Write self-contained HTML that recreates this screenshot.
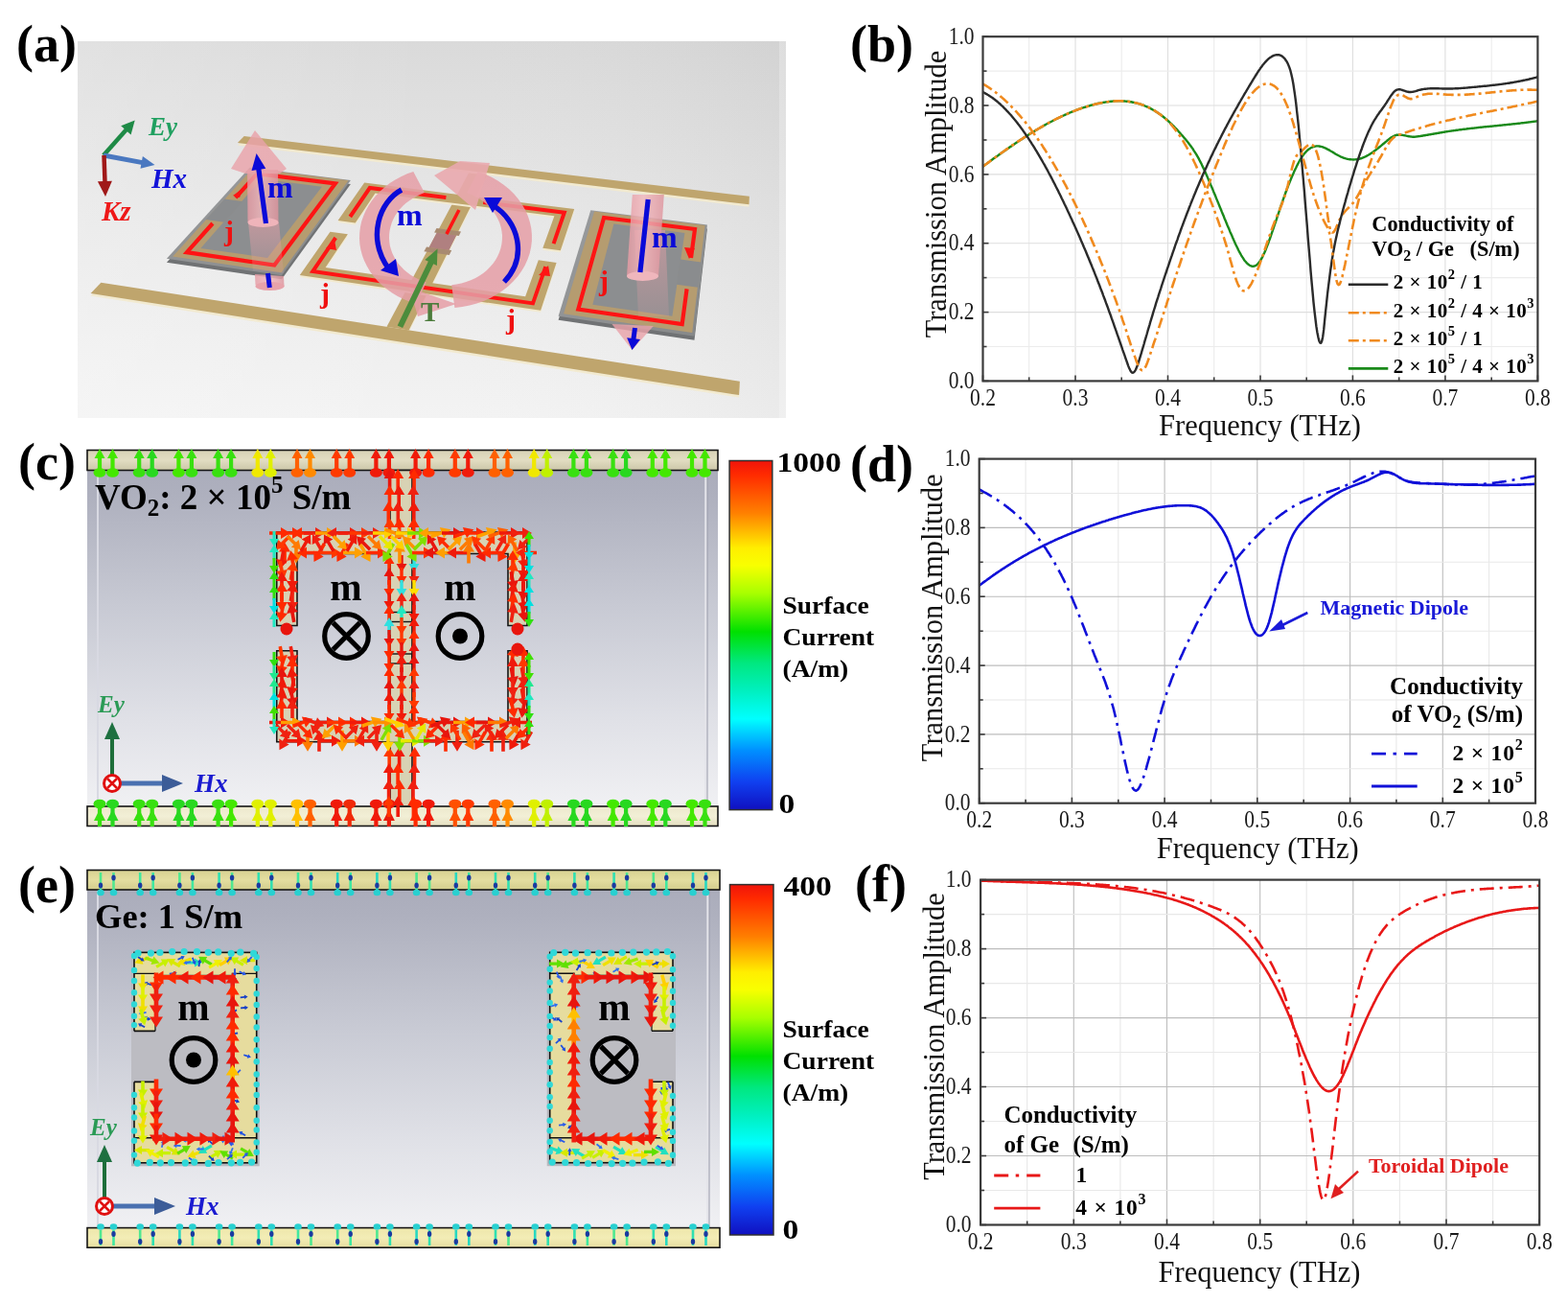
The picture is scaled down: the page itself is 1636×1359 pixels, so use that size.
<!DOCTYPE html>
<html><head><meta charset="utf-8"><title>Figure</title>
<style>html,body{margin:0;padding:0;background:#fff;}svg{display:block;}
text{font-family:'Liberation Serif','Times New Roman',serif;}</style></head>
<body><svg width="1636" height="1359" viewBox="0 0 1636 1359">
<rect width="1636" height="1359" fill="#fff"/>
<defs>
<linearGradient id="ga" x1="0" y1="0" x2="0" y2="1"><stop offset="0" stop-color="#dadada"/><stop offset="0.5" stop-color="#e8e8e8"/><stop offset="1" stop-color="#f3f3f3"/></linearGradient>
<linearGradient id="ga2" x1="0" y1="0" x2="1" y2="0"><stop offset="0" stop-color="#ffffff" stop-opacity="0.2"/><stop offset="0.5" stop-color="#ffffff" stop-opacity="0"/><stop offset="1" stop-color="#000" stop-opacity="0.035"/></linearGradient>
<linearGradient id="gplate" x1="0" y1="0" x2="1" y2="1"><stop offset="0" stop-color="#9a9c9e"/><stop offset="1" stop-color="#868889"/></linearGradient>
<linearGradient id="gcyl" x1="0" y1="0" x2="1" y2="0"><stop offset="0" stop-color="#e59aa3"/><stop offset="0.45" stop-color="#f2b8bd"/><stop offset="1" stop-color="#de949d"/></linearGradient>
</defs>
<rect x="81" y="43" width="739" height="393" fill="url(#ga)"/>
<rect x="81" y="43" width="739" height="393" fill="url(#ga2)"/>
<rect x="813" y="43" width="7" height="393" fill="#ffffff" fill-opacity="0.25"/>
<polygon points="490.2,180.2 508.7,182.4 426.6,346.4 403.5,342.8" fill="#f2ead0"/>
<polygon points="490.2,178.2 508.7,180.4 426.6,344.4 403.5,340.8" fill="#bfa56d"/>
<polygon points="254.7,144.6 781.9,207.3 781.5,215.8 247.9,151.5" fill="#f2ead0"/>
<polygon points="254.7,142.1 781.9,204.8 781.5,213.3 247.9,149.0" fill="#bfa56d"/>
<polygon points="105.4,297.3 771.9,400.2 771.1,414.6 94.6,308.4" fill="#f2ead0"/>
<polygon points="105.4,294.8 771.9,397.7 771.1,412.1 94.6,305.9" fill="#bfa56d"/>
<polygon points="260.7,178.7 365.9,191.9 293.9,291.3 173.9,273.7" fill="#707274"/>
<polygon points="260.7,174.7 365.9,187.9 293.9,287.3 173.9,269.7" fill="url(#gplate)"/>
<polygon points="263.6,175.7 363.5,188.2 293.6,284.2 180.2,267.6" fill="#b59c70"/>
<polygon points="272.7,186.7 335.9,194.8 279.1,268.9 209.4,258.9" fill="#8c8e90"/>
<polygon points="234.4,207.4 252.9,209.9 233.8,231.7 214.7,229.1" fill="#8a8c8e"/>
<path d="M245.8,206.2 L268.2,181.2 L349.8,191.5 L286.3,276.5 L194.9,263.2 L221.9,233.0" fill="none" stroke="#ff1414" stroke-width="4.2" stroke-linejoin="miter"/>
<polygon points="380.2,192.6 599.2,220.1 584.8,263.3 566.3,260.8 578.4,227.3 391.5,203.5 370.7,234.6 352.6,232.1" fill="#f2ead0"/>
<polygon points="380.2,190.6 599.2,218.1 584.8,261.3 566.3,258.8 578.4,225.3 391.5,201.5 370.7,232.6 352.6,230.1" fill="#bfa56d"/>
<polygon points="344.5,243.7 362.9,246.2 339.6,281.1 548.1,311.2 561.8,273.3 580.6,275.9 564.1,325.8 312.8,289.0" fill="#f2ead0"/>
<polygon points="344.5,241.7 362.9,244.2 339.6,279.1 548.1,309.2 561.8,271.3 580.6,273.9 564.1,323.8 312.8,287.0" fill="#bfa56d"/>
<polygon points="455.5,238.0 481.0,241.4 478.8,245.9 453.1,242.4" fill="#a88a70"/>
<polygon points="445.0,257.5 471.2,261.1 468.8,265.9 442.4,262.2" fill="#a88a70"/>
<polygon points="455.7,242.8 476.1,245.5 468.5,260.7 447.7,257.9" fill="#b08080"/>
<path d="M365.3,226.0 L385.8,196.0 L465.4,206.1" fill="none" stroke="#ff1414" stroke-width="4.0" stroke-linejoin="miter"/>
<path d="M504.2,211.0 L588.8,221.7 L577.6,254.2" fill="none" stroke="#ff1414" stroke-width="4.0" stroke-linejoin="miter"/>
<path d="M350.2,248.0 L326.3,283.0 L556.0,316.4 L569.3,278.2" fill="none" stroke="#ff1414" stroke-width="4.0" stroke-linejoin="miter"/>
<path d="M478.9,219.0 L465.9,244.1" fill="none" stroke="#ff1414" stroke-width="3.5" stroke-linejoin="miter"/>
<polygon points="616.3,223.3 737.9,238.6 724.5,354.7 582.6,333.8" fill="#707274"/>
<polygon points="616.3,219.3 737.9,234.6 724.5,350.7 582.6,329.8" fill="url(#gplate)"/>
<polygon points="620.1,220.4 735.6,234.9 722.2,347.0 588.1,327.3" fill="#b59c70"/>
<polygon points="640.4,233.6 714.4,243.0 701.4,329.7 618.3,317.7" fill="#8c8e90"/>
<polygon points="709.8,270.5 731.5,273.4 728.3,299.7 705.8,296.7" fill="#8a8c8e"/>
<path d="M721.0,269.0 L725.0,239.0 L630.1,227.0 L603.3,322.5 L711.7,338.2 L716.6,301.4" fill="none" stroke="#ff1414" stroke-width="4.2" stroke-linejoin="miter"/>
<defs><linearGradient id="gsh" x1="0" y1="0" x2="0" y2="1"><stop offset="0" stop-color="#e8a0a8" stop-opacity="0.55"/><stop offset="1" stop-color="#e8a0a8" stop-opacity="0.15"/></linearGradient></defs>
<polygon points="259.0,232.0 291.0,232.0 296.0,285.0 264.0,282.0" fill="url(#gsh)"/>
<polygon points="266.0,286.0 296.0,288.0 296.5,299.0 266.5,297.0" fill="url(#gcyl)" fill-opacity="0.82"/>
<ellipse cx="281.5" cy="298.5" rx="15" ry="4.5" fill="#e7a2aa"/>
<polygon points="258.0,177.0 290.0,177.0 290.5,232.0 258.5,232.0" fill="url(#gcyl)" fill-opacity="0.82"/>
<ellipse cx="274.5" cy="232" rx="16" ry="5" fill="#efb4ba"/>
<polygon points="266.0,136.0 299.0,176.0 292.0,181.0 256.0,181.0 241.0,176.0" fill="#e9a2aa" fill-opacity="0.82"/>
<line x1="277.5" y1="233.0" x2="269.8" y2="175.9" stroke="#0a0ad8" stroke-width="5.2"/><polygon points="267.6,160.0 277.3,175.8 262.5,177.9" fill="#0a0ad8"/>
<line x1="279.5" y1="285" x2="281.3" y2="300" stroke="#0a0ad8" stroke-width="5"/>
<polygon points="662.0,240.0 694.0,240.0 698.0,330.0 666.0,330.0" fill="url(#gsh)"/>
<polygon points="659.8,203.0 692.8,203.0 687.0,288.0 654.0,288.0" fill="url(#gcyl)" fill-opacity="0.82"/>
<ellipse cx="670.5" cy="288" rx="16.5" ry="5" fill="#efb6bc"/>
<polygon points="638.5,338.0 681.8,340.0 659.5,365.0" fill="#e9a2aa" fill-opacity="0.82"/>
<line x1="676.2" y1="208" x2="667.9" y2="284" stroke="#0a0ad8" stroke-width="5.2"/>
<line x1="662.5" y1="342.0" x2="660.9" y2="354.1" stroke="#0a0ad8" stroke-width="5.0"/><polygon points="659.5,365.0 654.1,352.2 668.0,354.0" fill="#0a0ad8"/>
<polygon points="431.3,178.9 424.7,181.3 418.4,184.2 412.4,187.5 406.7,191.1 401.4,195.2 396.5,199.5 392.0,204.2 388.0,209.2 384.5,214.4 381.6,219.8 379.1,225.4 377.2,231.1 375.9,236.9 375.2,242.9 375.0,248.8 375.4,254.7 376.4,260.6 378.0,266.4 380.1,272.1 382.8,277.6 386.0,282.9 389.7,288.0 393.9,292.9 398.5,297.4 403.6,301.6 409.1,305.5 414.9,309.0 421.1,312.1 427.5,314.8 434.2,317.0 444.8,294.5 440.4,293.0 436.2,291.1 432.2,289.0 428.4,286.7 424.8,284.1 421.4,281.2 418.4,278.1 415.6,274.9 413.2,271.4 411.1,267.8 409.3,264.1 408.0,260.3 406.9,256.4 406.3,252.4 406.0,248.4 406.1,244.4 406.6,240.4 407.5,236.4 408.7,232.5 410.3,228.8 412.2,225.1 414.5,221.6 417.1,218.3 420.1,215.1 423.3,212.1 426.8,209.4 430.5,206.9 434.4,204.7 438.6,202.8 442.9,201.1" fill="#e59ea7" fill-opacity="0.86"/>
<polygon points="427.0,300.0 476.0,317.0 436.0,330.0" fill="#e59ea7" fill-opacity="0.86"/>
<polygon points="474.4,321.1 482.3,320.1 490.0,318.6 497.5,316.5 504.8,313.9 511.8,310.7 518.4,307.1 524.6,303.0 530.3,298.4 535.5,293.5 540.2,288.2 544.3,282.5 547.7,276.7 550.5,270.5 552.7,264.2 554.1,257.8 554.9,251.3 554.9,244.7 554.3,238.2 552.9,231.8 550.9,225.5 548.2,219.3 544.9,213.4 540.9,207.7 536.3,202.3 531.2,197.3 525.5,192.7 519.4,188.6 512.9,184.8 506.0,181.6 498.7,178.9 487.1,201.1 491.8,203.0 496.4,205.2 500.7,207.7 504.7,210.5 508.4,213.6 511.7,217.0 514.7,220.6 517.3,224.4 519.5,228.4 521.3,232.6 522.7,236.9 523.5,241.2 524.0,245.6 523.9,250.1 523.4,254.5 522.5,258.8 521.1,263.1 519.2,267.2 517.0,271.2 514.3,275.0 511.2,278.6 507.8,281.9 504.1,285.0 500.0,287.7 495.7,290.2 491.1,292.3 486.3,294.1 481.4,295.5 476.3,296.6 471.2,297.2" fill="#e59ea7" fill-opacity="0.86"/>
<polygon points="511.0,170.0 496.0,219.0 453.0,183.0 480.0,168.0" fill="#e9a8ae" fill-opacity="0.9"/>
<path d="M419,198 C396,210 382,248 406,281" fill="none" stroke="#0a0ad8" stroke-width="5.4"/>
<polygon points="416.0,288.0 397.0,282.0 413.0,270.0" fill="#0a0ad8"/>
<path d="M526,294 C551,268 541,230 514,214" fill="none" stroke="#0a0ad8" stroke-width="5.4"/>
<polygon points="505.0,206.0 524.0,206.0 514.0,222.0" fill="#0a0ad8"/>
<line x1="417.4" y1="340.7" x2="450.0" y2="273.0" stroke="#4c8c3c" stroke-width="6.0"/><polygon points="456.5,259.5 455.9,277.0 443.3,270.9" fill="#4c8c3c"/>
<polygon points="243.0,204.0 254.0,196.0 250.0,206.0" fill="#ff1414"/>
<polygon points="349.0,250.0 340.0,259.0 351.0,261.0" fill="#ff1414"/>
<polygon points="572.0,277.0 562.0,287.0 574.0,288.0" fill="#ff1414"/>
<polygon points="719.0,270.0 714.0,258.0 725.0,259.0" fill="#ff1414"/>
<text x="279" y="206" font-size="32" fill="#0a0ad8" font-weight="bold">m</text>
<text x="414" y="235" font-size="32" fill="#0a0ad8" font-weight="bold">m</text>
<text x="680" y="258" font-size="32" fill="#0a0ad8" font-weight="bold">m</text>
<text x="234" y="251" font-size="30" fill="#f01010" font-weight="bold">j</text>
<text x="334" y="316" font-size="30" fill="#f01010" font-weight="bold">j</text>
<text x="528" y="343" font-size="30" fill="#f01010" font-weight="bold">j</text>
<text x="625" y="303" font-size="30" fill="#f01010" font-weight="bold">j</text>
<text x="439" y="335" font-size="29" fill="#4c7c3c" font-weight="bold">T</text>
<line x1="108.0" y1="162.0" x2="132.0" y2="135.1" stroke="#1e8a46" stroke-width="4.5"/><polygon points="140.7,125.4 136.6,140.5 126.2,131.2" fill="#1e8a46"/>
<line x1="108.0" y1="162.0" x2="148.7" y2="169.6" stroke="#4a78c0" stroke-width="5.0"/><polygon points="161.5,172.0 146.5,175.8 148.9,163.0" fill="#4a78c0"/>
<line x1="108.5" y1="162.0" x2="109.5" y2="190.0" stroke="#a01818" stroke-width="4.5"/><polygon points="110.0,205.0 101.9,189.3 116.9,188.7" fill="#a01818"/>
<text x="155" y="141" font-size="27" font-style="italic" font-weight="bold" fill="#20a060">Ey</text>
<text x="158" y="196" font-size="29" font-style="italic" font-weight="bold" fill="#1212d8">Hx</text>
<text x="106" y="230" font-size="29" font-style="italic" font-weight="bold" fill="#ee1818">Kz</text>
<defs><linearGradient id="gc" x1="0" y1="0" x2="0" y2="1">
<stop offset="0" stop-color="#a8aab9"/><stop offset="0.12" stop-color="#aeb0be"/><stop offset="0.42" stop-color="#c8cad4"/><stop offset="0.72" stop-color="#e0e1e7"/><stop offset="1" stop-color="#f4f4f6"/></linearGradient>
<linearGradient id="barT" x1="0" y1="0" x2="0" y2="1"><stop offset="0" stop-color="#d7d2b6"/><stop offset="0.5" stop-color="#e2ddc2"/><stop offset="1" stop-color="#cbc6a8"/></linearGradient>
<linearGradient id="barB" x1="0" y1="0" x2="0" y2="1"><stop offset="0" stop-color="#ece8cc"/><stop offset="0.5" stop-color="#f2efd6"/><stop offset="1" stop-color="#e4dfc0"/></linearGradient>
<linearGradient id="barTe" x1="0" y1="0" x2="0" y2="1"><stop offset="0" stop-color="#d8d292"/><stop offset="0.5" stop-color="#e4dea0"/><stop offset="1" stop-color="#d2cc8c"/></linearGradient>
<linearGradient id="barBe" x1="0" y1="0" x2="0" y2="1"><stop offset="0" stop-color="#ede6aa"/><stop offset="0.5" stop-color="#f3edb6"/><stop offset="1" stop-color="#e6dea0"/></linearGradient>
</defs>
<rect x="91" y="469" width="658" height="393" fill="url(#gc)"/>
<line x1="102" y1="490" x2="102" y2="841" stroke="#d8d9e2" stroke-width="2"/>
<line x1="736.5" y1="490" x2="736.5" y2="841" stroke="#e4e4ea" stroke-width="2.5"/>
<line x1="738" y1="490" x2="738" y2="841" stroke="#9a9cab" stroke-width="1"/>
<rect x="91" y="469.5" width="658" height="21" fill="url(#barT)" stroke="#151515" stroke-width="1.6"/>
<rect x="91" y="841" width="658" height="20.5" fill="url(#barB)" stroke="#151515" stroke-width="1.6"/>
<rect x="407" y="490.5" width="23" height="350.5" fill="#d8d2b4" stroke="#151515" stroke-width="1.6"/>
<path d="M288.75,555 H550 V652.5 H530 V577.5 H310 V652.5 H288.75 Z M288.75,678.75 H310 V752.5 H530 V678.75 H550 V773.75 H288.75 Z" fill="#d8d2b4" stroke="#151515" stroke-width="1.6"/>
<rect x="407" y="555" width="23" height="218.75" fill="#d8d2b4"/>
<line x1="407" y1="577.5" x2="407" y2="752.5" stroke="#151515" stroke-width="1.6"/>
<line x1="430" y1="577.5" x2="430" y2="752.5" stroke="#151515" stroke-width="1.6"/>
<rect x="407" y="638.5" width="23" height="10" fill="none" stroke="#151515" stroke-width="1.4"/>
<rect x="407" y="682" width="23" height="10" fill="none" stroke="#151515" stroke-width="1.4"/>
<ellipse cx="104.0" cy="493" rx="6.5" ry="4.8" fill="#44e800"/>
<polygon points="106.1,494.0 106.1,478.0 109.5,478.0 104.0,468.0 98.5,478.0 101.9,478.0 101.9,494.0" fill="#44e800"/>
<ellipse cx="104.0" cy="838.5" rx="6.5" ry="4.8" fill="#38e010"/>
<line x1="104.0" y1="838" x2="104.0" y2="862" stroke="#38e010" stroke-width="4.2"/>
<polygon points="104.0,844 98.0,856 110.0,856" fill="#38e010"/>
<ellipse cx="117.5" cy="493" rx="6.5" ry="4.8" fill="#44e800"/>
<polygon points="119.6,494.0 119.6,478.0 123.0,478.0 117.5,468.0 112.0,478.0 115.4,478.0 115.4,494.0" fill="#44e800"/>
<ellipse cx="117.5" cy="838.5" rx="6.5" ry="4.8" fill="#28d820"/>
<line x1="117.5" y1="838" x2="117.5" y2="862" stroke="#28d820" stroke-width="4.2"/>
<polygon points="117.5,844 111.5,856 123.5,856" fill="#28d820"/>
<ellipse cx="145.2" cy="493" rx="6.5" ry="4.8" fill="#38e010"/>
<polygon points="147.3,494.0 147.3,478.0 150.7,478.0 145.2,468.0 139.7,478.0 143.1,478.0 143.1,494.0" fill="#38e010"/>
<ellipse cx="145.2" cy="838.5" rx="6.5" ry="4.8" fill="#38e010"/>
<line x1="145.2" y1="838" x2="145.2" y2="862" stroke="#38e010" stroke-width="4.2"/>
<polygon points="145.2,844 139.2,856 151.2,856" fill="#38e010"/>
<ellipse cx="158.7" cy="493" rx="6.5" ry="4.8" fill="#28d820"/>
<polygon points="160.8,494.0 160.8,478.0 164.2,478.0 158.7,468.0 153.2,478.0 156.6,478.0 156.6,494.0" fill="#28d820"/>
<ellipse cx="158.7" cy="838.5" rx="6.5" ry="4.8" fill="#38e010"/>
<line x1="158.7" y1="838" x2="158.7" y2="862" stroke="#38e010" stroke-width="4.2"/>
<polygon points="158.7,844 152.7,856 164.7,856" fill="#38e010"/>
<ellipse cx="186.4" cy="493" rx="6.5" ry="4.8" fill="#44e800"/>
<polygon points="188.5,494.0 188.5,478.0 191.9,478.0 186.4,468.0 180.9,478.0 184.3,478.0 184.3,494.0" fill="#44e800"/>
<ellipse cx="186.4" cy="838.5" rx="6.5" ry="4.8" fill="#28d820"/>
<line x1="186.4" y1="838" x2="186.4" y2="862" stroke="#28d820" stroke-width="4.2"/>
<polygon points="186.4,844 180.4,856 192.4,856" fill="#28d820"/>
<ellipse cx="199.9" cy="493" rx="6.5" ry="4.8" fill="#38e010"/>
<polygon points="202.0,494.0 202.0,478.0 205.4,478.0 199.9,468.0 194.4,478.0 197.8,478.0 197.8,494.0" fill="#38e010"/>
<ellipse cx="199.9" cy="838.5" rx="6.5" ry="4.8" fill="#28d820"/>
<line x1="199.9" y1="838" x2="199.9" y2="862" stroke="#28d820" stroke-width="4.2"/>
<polygon points="199.9,844 193.9,856 205.9,856" fill="#28d820"/>
<ellipse cx="227.6" cy="493" rx="6.5" ry="4.8" fill="#38e010"/>
<polygon points="229.7,494.0 229.7,478.0 233.1,478.0 227.6,468.0 222.1,478.0 225.5,478.0 225.5,494.0" fill="#38e010"/>
<ellipse cx="227.6" cy="838.5" rx="6.5" ry="4.8" fill="#38e010"/>
<line x1="227.6" y1="838" x2="227.6" y2="862" stroke="#38e010" stroke-width="4.2"/>
<polygon points="227.6,844 221.6,856 233.6,856" fill="#38e010"/>
<ellipse cx="241.1" cy="493" rx="6.5" ry="4.8" fill="#38e010"/>
<polygon points="243.2,494.0 243.2,478.0 246.6,478.0 241.1,468.0 235.6,478.0 239.0,478.0 239.0,494.0" fill="#38e010"/>
<ellipse cx="241.1" cy="838.5" rx="6.5" ry="4.8" fill="#44e800"/>
<line x1="241.1" y1="838" x2="241.1" y2="862" stroke="#44e800" stroke-width="4.2"/>
<polygon points="241.1,844 235.1,856 247.1,856" fill="#44e800"/>
<ellipse cx="268.8" cy="493" rx="6.5" ry="4.8" fill="#f0e800"/>
<polygon points="270.9,494.0 270.9,478.0 274.3,478.0 268.8,468.0 263.3,478.0 266.7,478.0 266.7,494.0" fill="#f0e800"/>
<ellipse cx="268.8" cy="838.5" rx="6.5" ry="4.8" fill="#e0f000"/>
<line x1="268.8" y1="838" x2="268.8" y2="862" stroke="#e0f000" stroke-width="4.2"/>
<polygon points="268.8,844 262.8,856 274.8,856" fill="#e0f000"/>
<ellipse cx="282.3" cy="493" rx="6.5" ry="4.8" fill="#e0f000"/>
<polygon points="284.4,494.0 284.4,478.0 287.8,478.0 282.3,468.0 276.8,478.0 280.2,478.0 280.2,494.0" fill="#e0f000"/>
<ellipse cx="282.3" cy="838.5" rx="6.5" ry="4.8" fill="#e0f000"/>
<line x1="282.3" y1="838" x2="282.3" y2="862" stroke="#e0f000" stroke-width="4.2"/>
<polygon points="282.3,844 276.3,856 288.3,856" fill="#e0f000"/>
<ellipse cx="310.0" cy="493" rx="6.5" ry="4.8" fill="#ff6000"/>
<polygon points="312.1,494.0 312.1,478.0 315.5,478.0 310.0,468.0 304.5,478.0 307.9,478.0 307.9,494.0" fill="#ff6000"/>
<ellipse cx="310.0" cy="838.5" rx="6.5" ry="4.8" fill="#ffc000"/>
<line x1="310.0" y1="838" x2="310.0" y2="862" stroke="#ffc000" stroke-width="4.2"/>
<polygon points="310.0,844 304.0,856 316.0,856" fill="#ffc000"/>
<ellipse cx="323.5" cy="493" rx="6.5" ry="4.8" fill="#ff8a00"/>
<polygon points="325.6,494.0 325.6,478.0 329.0,478.0 323.5,468.0 318.0,478.0 321.4,478.0 321.4,494.0" fill="#ff8a00"/>
<ellipse cx="323.5" cy="838.5" rx="6.5" ry="4.8" fill="#ff6000"/>
<line x1="323.5" y1="838" x2="323.5" y2="862" stroke="#ff6000" stroke-width="4.2"/>
<polygon points="323.5,844 317.5,856 329.5,856" fill="#ff6000"/>
<ellipse cx="351.2" cy="493" rx="6.5" ry="4.8" fill="#ff3a00"/>
<polygon points="353.3,494.0 353.3,478.0 356.7,478.0 351.2,468.0 345.7,478.0 349.1,478.0 349.1,494.0" fill="#ff3a00"/>
<ellipse cx="351.2" cy="838.5" rx="6.5" ry="4.8" fill="#f01a0a"/>
<line x1="351.2" y1="838" x2="351.2" y2="862" stroke="#f01a0a" stroke-width="4.2"/>
<polygon points="351.2,844 345.2,856 357.2,856" fill="#f01a0a"/>
<ellipse cx="364.7" cy="493" rx="6.5" ry="4.8" fill="#ff3a00"/>
<polygon points="366.8,494.0 366.8,478.0 370.2,478.0 364.7,468.0 359.2,478.0 362.6,478.0 362.6,494.0" fill="#ff3a00"/>
<ellipse cx="364.7" cy="838.5" rx="6.5" ry="4.8" fill="#f02a08"/>
<line x1="364.7" y1="838" x2="364.7" y2="862" stroke="#f02a08" stroke-width="4.2"/>
<polygon points="364.7,844 358.7,856 370.7,856" fill="#f02a08"/>
<ellipse cx="392.4" cy="493" rx="6.5" ry="4.8" fill="#f01a0a"/>
<polygon points="394.5,494.0 394.5,478.0 397.9,478.0 392.4,468.0 386.9,478.0 390.3,478.0 390.3,494.0" fill="#f01a0a"/>
<ellipse cx="392.4" cy="838.5" rx="6.5" ry="4.8" fill="#f01a0a"/>
<line x1="392.4" y1="838" x2="392.4" y2="862" stroke="#f01a0a" stroke-width="4.2"/>
<polygon points="392.4,844 386.4,856 398.4,856" fill="#f01a0a"/>
<ellipse cx="405.9" cy="493" rx="6.5" ry="4.8" fill="#f01a0a"/>
<polygon points="408.0,494.0 408.0,478.0 411.4,478.0 405.9,468.0 400.4,478.0 403.8,478.0 403.8,494.0" fill="#f01a0a"/>
<ellipse cx="405.9" cy="838.5" rx="6.5" ry="4.8" fill="#e81c0c"/>
<line x1="405.9" y1="838" x2="405.9" y2="862" stroke="#e81c0c" stroke-width="4.2"/>
<polygon points="405.9,844 399.9,856 411.9,856" fill="#e81c0c"/>
<ellipse cx="433.6" cy="493" rx="6.5" ry="4.8" fill="#f01a0a"/>
<polygon points="435.7,494.0 435.7,478.0 439.1,478.0 433.6,468.0 428.1,478.0 431.5,478.0 431.5,494.0" fill="#f01a0a"/>
<ellipse cx="433.6" cy="838.5" rx="6.5" ry="4.8" fill="#ff2a00"/>
<line x1="433.6" y1="838" x2="433.6" y2="862" stroke="#ff2a00" stroke-width="4.2"/>
<polygon points="433.6,844 427.6,856 439.6,856" fill="#ff2a00"/>
<ellipse cx="447.1" cy="493" rx="6.5" ry="4.8" fill="#ff2a00"/>
<polygon points="449.2,494.0 449.2,478.0 452.6,478.0 447.1,468.0 441.6,478.0 445.0,478.0 445.0,494.0" fill="#ff2a00"/>
<ellipse cx="447.1" cy="838.5" rx="6.5" ry="4.8" fill="#f01a0a"/>
<line x1="447.1" y1="838" x2="447.1" y2="862" stroke="#f01a0a" stroke-width="4.2"/>
<polygon points="447.1,844 441.1,856 453.1,856" fill="#f01a0a"/>
<ellipse cx="474.8" cy="493" rx="6.5" ry="4.8" fill="#ff3a00"/>
<polygon points="476.9,494.0 476.9,478.0 480.3,478.0 474.8,468.0 469.3,478.0 472.7,478.0 472.7,494.0" fill="#ff3a00"/>
<ellipse cx="474.8" cy="838.5" rx="6.5" ry="4.8" fill="#ff5000"/>
<line x1="474.8" y1="838" x2="474.8" y2="862" stroke="#ff5000" stroke-width="4.2"/>
<polygon points="474.8,844 468.8,856 480.8,856" fill="#ff5000"/>
<ellipse cx="488.3" cy="493" rx="6.5" ry="4.8" fill="#f01a0a"/>
<polygon points="490.4,494.0 490.4,478.0 493.8,478.0 488.3,468.0 482.8,478.0 486.2,478.0 486.2,494.0" fill="#f01a0a"/>
<ellipse cx="488.3" cy="838.5" rx="6.5" ry="4.8" fill="#ff3a00"/>
<line x1="488.3" y1="838" x2="488.3" y2="862" stroke="#ff3a00" stroke-width="4.2"/>
<polygon points="488.3,844 482.3,856 494.3,856" fill="#ff3a00"/>
<ellipse cx="516.0" cy="493" rx="6.5" ry="4.8" fill="#ff6000"/>
<polygon points="518.1,494.0 518.1,478.0 521.5,478.0 516.0,468.0 510.5,478.0 513.9,478.0 513.9,494.0" fill="#ff6000"/>
<ellipse cx="516.0" cy="838.5" rx="6.5" ry="4.8" fill="#ff6000"/>
<line x1="516.0" y1="838" x2="516.0" y2="862" stroke="#ff6000" stroke-width="4.2"/>
<polygon points="516.0,844 510.0,856 522.0,856" fill="#ff6000"/>
<ellipse cx="529.5" cy="493" rx="6.5" ry="4.8" fill="#ff6000"/>
<polygon points="531.6,494.0 531.6,478.0 535.0,478.0 529.5,468.0 524.0,478.0 527.4,478.0 527.4,494.0" fill="#ff6000"/>
<ellipse cx="529.5" cy="838.5" rx="6.5" ry="4.8" fill="#ff8a00"/>
<line x1="529.5" y1="838" x2="529.5" y2="862" stroke="#ff8a00" stroke-width="4.2"/>
<polygon points="529.5,844 523.5,856 535.5,856" fill="#ff8a00"/>
<ellipse cx="557.2" cy="493" rx="6.5" ry="4.8" fill="#f0e800"/>
<polygon points="559.3,494.0 559.3,478.0 562.7,478.0 557.2,468.0 551.7,478.0 555.1,478.0 555.1,494.0" fill="#f0e800"/>
<ellipse cx="557.2" cy="838.5" rx="6.5" ry="4.8" fill="#e0f000"/>
<line x1="557.2" y1="838" x2="557.2" y2="862" stroke="#e0f000" stroke-width="4.2"/>
<polygon points="557.2,844 551.2,856 563.2,856" fill="#e0f000"/>
<ellipse cx="570.7" cy="493" rx="6.5" ry="4.8" fill="#c0f000"/>
<polygon points="572.8,494.0 572.8,478.0 576.2,478.0 570.7,468.0 565.2,478.0 568.6,478.0 568.6,494.0" fill="#c0f000"/>
<ellipse cx="570.7" cy="838.5" rx="6.5" ry="4.8" fill="#c0f000"/>
<line x1="570.7" y1="838" x2="570.7" y2="862" stroke="#c0f000" stroke-width="4.2"/>
<polygon points="570.7,844 564.7,856 576.7,856" fill="#c0f000"/>
<ellipse cx="598.4" cy="493" rx="6.5" ry="4.8" fill="#38e010"/>
<polygon points="600.5,494.0 600.5,478.0 603.9,478.0 598.4,468.0 592.9,478.0 596.3,478.0 596.3,494.0" fill="#38e010"/>
<ellipse cx="598.4" cy="838.5" rx="6.5" ry="4.8" fill="#28d820"/>
<line x1="598.4" y1="838" x2="598.4" y2="862" stroke="#28d820" stroke-width="4.2"/>
<polygon points="598.4,844 592.4,856 604.4,856" fill="#28d820"/>
<ellipse cx="611.9" cy="493" rx="6.5" ry="4.8" fill="#38e010"/>
<polygon points="614.0,494.0 614.0,478.0 617.4,478.0 611.9,468.0 606.4,478.0 609.8,478.0 609.8,494.0" fill="#38e010"/>
<ellipse cx="611.9" cy="838.5" rx="6.5" ry="4.8" fill="#28d820"/>
<line x1="611.9" y1="838" x2="611.9" y2="862" stroke="#28d820" stroke-width="4.2"/>
<polygon points="611.9,844 605.9,856 617.9,856" fill="#28d820"/>
<ellipse cx="639.6" cy="493" rx="6.5" ry="4.8" fill="#38e010"/>
<polygon points="641.7,494.0 641.7,478.0 645.1,478.0 639.6,468.0 634.1,478.0 637.5,478.0 637.5,494.0" fill="#38e010"/>
<ellipse cx="639.6" cy="838.5" rx="6.5" ry="4.8" fill="#44e800"/>
<line x1="639.6" y1="838" x2="639.6" y2="862" stroke="#44e800" stroke-width="4.2"/>
<polygon points="639.6,844 633.6,856 645.6,856" fill="#44e800"/>
<ellipse cx="653.1" cy="493" rx="6.5" ry="4.8" fill="#28d820"/>
<polygon points="655.2,494.0 655.2,478.0 658.6,478.0 653.1,468.0 647.6,478.0 651.0,478.0 651.0,494.0" fill="#28d820"/>
<ellipse cx="653.1" cy="838.5" rx="6.5" ry="4.8" fill="#28d820"/>
<line x1="653.1" y1="838" x2="653.1" y2="862" stroke="#28d820" stroke-width="4.2"/>
<polygon points="653.1,844 647.1,856 659.1,856" fill="#28d820"/>
<ellipse cx="680.8" cy="493" rx="6.5" ry="4.8" fill="#44e800"/>
<polygon points="682.9,494.0 682.9,478.0 686.3,478.0 680.8,468.0 675.3,478.0 678.7,478.0 678.7,494.0" fill="#44e800"/>
<ellipse cx="680.8" cy="838.5" rx="6.5" ry="4.8" fill="#44e800"/>
<line x1="680.8" y1="838" x2="680.8" y2="862" stroke="#44e800" stroke-width="4.2"/>
<polygon points="680.8,844 674.8,856 686.8,856" fill="#44e800"/>
<ellipse cx="694.3" cy="493" rx="6.5" ry="4.8" fill="#44e800"/>
<polygon points="696.4,494.0 696.4,478.0 699.8,478.0 694.3,468.0 688.8,478.0 692.2,478.0 692.2,494.0" fill="#44e800"/>
<ellipse cx="694.3" cy="838.5" rx="6.5" ry="4.8" fill="#28d820"/>
<line x1="694.3" y1="838" x2="694.3" y2="862" stroke="#28d820" stroke-width="4.2"/>
<polygon points="694.3,844 688.3,856 700.3,856" fill="#28d820"/>
<ellipse cx="722.0" cy="493" rx="6.5" ry="4.8" fill="#44e800"/>
<polygon points="724.1,494.0 724.1,478.0 727.5,478.0 722.0,468.0 716.5,478.0 719.9,478.0 719.9,494.0" fill="#44e800"/>
<ellipse cx="722.0" cy="838.5" rx="6.5" ry="4.8" fill="#44e800"/>
<line x1="722.0" y1="838" x2="722.0" y2="862" stroke="#44e800" stroke-width="4.2"/>
<polygon points="722.0,844 716.0,856 728.0,856" fill="#44e800"/>
<ellipse cx="735.5" cy="493" rx="6.5" ry="4.8" fill="#44e800"/>
<polygon points="737.6,494.0 737.6,478.0 741.0,478.0 735.5,468.0 730.0,478.0 733.4,478.0 733.4,494.0" fill="#44e800"/>
<ellipse cx="735.5" cy="838.5" rx="6.5" ry="4.8" fill="#38e010"/>
<line x1="735.5" y1="838" x2="735.5" y2="862" stroke="#38e010" stroke-width="4.2"/>
<polygon points="735.5,844 729.5,856 741.5,856" fill="#38e010"/>
<polygon points="408.4,511.0 408.4,499.0 412.6,499.0 406.6,489.0 400.6,499.0 404.8,499.0 404.8,511.0" fill="#e8150d"/>
<polygon points="417.0,511.0 417.0,499.0 421.2,499.0 415.2,489.0 409.2,499.0 413.4,499.0 413.4,511.0" fill="#ff2a00"/>
<polygon points="433.9,511.0 433.9,499.0 438.1,499.0 432.1,489.0 426.1,499.0 430.3,499.0 430.3,511.0" fill="#ff2a00"/>
<polygon points="408.3,528.0 408.3,516.0 412.5,516.0 406.5,506.0 400.5,516.0 404.7,516.0 404.7,528.0" fill="#ff2a00"/>
<polygon points="418.0,528.0 418.0,516.0 422.2,516.0 416.2,506.0 410.2,516.0 414.4,516.0 414.4,528.0" fill="#f01a0a"/>
<polygon points="433.0,528.0 433.0,516.0 437.2,516.0 431.2,506.0 425.2,516.0 429.4,516.0 429.4,528.0" fill="#f02010"/>
<polygon points="407.1,545.0 407.1,533.0 411.3,533.0 405.3,523.0 399.3,533.0 403.5,533.0 403.5,545.0" fill="#ff2a00"/>
<polygon points="417.1,545.0 417.1,533.0 421.3,533.0 415.3,523.0 409.3,533.0 413.5,533.0 413.5,545.0" fill="#f02010"/>
<polygon points="433.6,545.0 433.6,533.0 437.8,533.0 431.8,523.0 425.8,533.0 430.0,533.0 430.0,545.0" fill="#f01a0a"/>
<polygon points="408.3,562.0 408.3,550.0 412.5,550.0 406.5,540.0 400.5,550.0 404.7,550.0 404.7,562.0" fill="#ff3800"/>
<polygon points="418.4,562.0 418.4,550.0 422.6,550.0 416.6,540.0 410.6,550.0 414.8,550.0 414.8,562.0" fill="#ff2a00"/>
<polygon points="433.5,562.0 433.5,550.0 437.7,550.0 431.7,540.0 425.7,550.0 429.9,550.0 429.9,562.0" fill="#ff2a00"/>
<polygon points="408.0,801.0 408.0,789.0 412.2,789.0 406.2,779.0 400.2,789.0 404.4,789.0 404.4,801.0" fill="#ff3800"/>
<polygon points="418.4,801.0 418.4,789.0 422.6,789.0 416.6,779.0 410.6,789.0 414.8,789.0 414.8,801.0" fill="#f01a0a"/>
<polygon points="434.5,801.0 434.5,789.0 438.7,789.0 432.7,779.0 426.7,789.0 430.9,789.0 430.9,801.0" fill="#ff2a00"/>
<polygon points="407.7,818.0 407.7,806.0 411.9,806.0 405.9,796.0 399.9,806.0 404.1,806.0 404.1,818.0" fill="#f01a0a"/>
<polygon points="416.9,818.0 416.9,806.0 421.1,806.0 415.1,796.0 409.1,806.0 413.3,806.0 413.3,818.0" fill="#ff2a00"/>
<polygon points="434.1,818.0 434.1,806.0 438.3,806.0 432.3,796.0 426.3,806.0 430.5,806.0 430.5,818.0" fill="#f02010"/>
<polygon points="407.4,835.0 407.4,823.0 411.6,823.0 405.6,813.0 399.6,823.0 403.8,823.0 403.8,835.0" fill="#f02010"/>
<polygon points="418.6,835.0 418.6,823.0 422.8,823.0 416.8,813.0 410.8,823.0 415.0,823.0 415.0,835.0" fill="#ff2a00"/>
<polygon points="432.8,835.0 432.8,823.0 437.0,823.0 431.0,813.0 425.0,823.0 429.2,823.0 429.2,835.0" fill="#f02010"/>
<polygon points="407.5,852.0 407.5,840.0 411.7,840.0 405.7,830.0 399.7,840.0 403.9,840.0 403.9,852.0" fill="#ff3800"/>
<polygon points="417.0,852.0 417.0,840.0 421.2,840.0 415.2,830.0 409.2,840.0 413.4,840.0 413.4,852.0" fill="#f01a0a"/>
<polygon points="433.2,852.0 433.2,840.0 437.4,840.0 431.4,830.0 425.4,840.0 429.6,840.0 429.6,852.0" fill="#ff2a00"/>
<polygon points="407.7,597.0 407.7,588.0 411.5,588.0 406.0,579.0 400.5,588.0 404.3,588.0 404.3,597.0" fill="#ff2a00"/>
<polygon points="417.3,579.0 417.3,588.0 413.5,588.0 419.0,597.0 424.5,588.0 420.7,588.0 420.7,579.0" fill="#e8150d"/>
<polygon points="430.3,579.0 430.3,588.0 426.5,588.0 432.0,597.0 437.5,588.0 433.7,588.0 433.7,579.0" fill="#30e0e0"/>
<polygon points="407.7,610.0 407.7,601.0 411.5,601.0 406.0,592.0 400.5,601.0 404.3,601.0 404.3,610.0" fill="#e8150d"/>
<polygon points="417.3,592.0 417.3,601.0 413.5,601.0 419.0,610.0 424.5,601.0 420.7,601.0 420.7,592.0" fill="#ff2a00"/>
<polygon points="430.3,592.0 430.3,601.0 426.5,601.0 432.0,610.0 437.5,601.0 433.7,601.0 433.7,592.0" fill="#f02010"/>
<polygon points="404.3,605.0 404.3,614.0 400.5,614.0 406.0,623.0 411.5,614.0 407.7,614.0 407.7,605.0" fill="#ff2a00"/>
<polygon points="417.3,605.0 417.3,614.0 413.5,614.0 419.0,623.0 424.5,614.0 420.7,614.0 420.7,605.0" fill="#30e0e0"/>
<polygon points="430.3,605.0 430.3,614.0 426.5,614.0 432.0,623.0 437.5,614.0 433.7,614.0 433.7,605.0" fill="#ffe000"/>
<polygon points="404.3,618.0 404.3,627.0 400.5,627.0 406.0,636.0 411.5,627.0 407.7,627.0 407.7,618.0" fill="#f01a0a"/>
<polygon points="420.7,636.0 420.7,627.0 424.5,627.0 419.0,618.0 413.5,627.0 417.3,627.0 417.3,636.0" fill="#f02010"/>
<polygon points="433.7,636.0 433.7,627.0 437.5,627.0 432.0,618.0 426.5,627.0 430.3,627.0 430.3,636.0" fill="#e8150d"/>
<polygon points="407.7,649.0 407.7,640.0 411.5,640.0 406.0,631.0 400.5,640.0 404.3,640.0 404.3,649.0" fill="#ff2a00"/>
<polygon points="420.7,649.0 420.7,640.0 424.5,640.0 419.0,631.0 413.5,640.0 417.3,640.0 417.3,649.0" fill="#20e8c0"/>
<polygon points="430.3,631.0 430.3,640.0 426.5,640.0 432.0,649.0 437.5,640.0 433.7,640.0 433.7,631.0" fill="#f01a0a"/>
<polygon points="407.7,662.0 407.7,653.0 411.5,653.0 406.0,644.0 400.5,653.0 404.3,653.0 404.3,662.0" fill="#30e0e0"/>
<polygon points="417.3,644.0 417.3,653.0 413.5,653.0 419.0,662.0 424.5,653.0 420.7,653.0 420.7,644.0" fill="#ff3800"/>
<polygon points="433.7,662.0 433.7,653.0 437.5,653.0 432.0,644.0 426.5,653.0 430.3,653.0 430.3,662.0" fill="#f01a0a"/>
<polygon points="404.3,657.0 404.3,666.0 400.5,666.0 406.0,675.0 411.5,666.0 407.7,666.0 407.7,657.0" fill="#e8150d"/>
<polygon points="417.3,657.0 417.3,666.0 413.5,666.0 419.0,675.0 424.5,666.0 420.7,666.0 420.7,657.0" fill="#ff3800"/>
<polygon points="433.7,675.0 433.7,666.0 437.5,666.0 432.0,657.0 426.5,666.0 430.3,666.0 430.3,675.0" fill="#ff2a00"/>
<polygon points="404.3,670.0 404.3,679.0 400.5,679.0 406.0,688.0 411.5,679.0 407.7,679.0 407.7,670.0" fill="#ff2a00"/>
<polygon points="417.3,670.0 417.3,679.0 413.5,679.0 419.0,688.0 424.5,679.0 420.7,679.0 420.7,670.0" fill="#e8150d"/>
<polygon points="433.7,688.0 433.7,679.0 437.5,679.0 432.0,670.0 426.5,679.0 430.3,679.0 430.3,688.0" fill="#e8150d"/>
<polygon points="404.3,683.0 404.3,692.0 400.5,692.0 406.0,701.0 411.5,692.0 407.7,692.0 407.7,683.0" fill="#ff2a00"/>
<polygon points="420.7,701.0 420.7,692.0 424.5,692.0 419.0,683.0 413.5,692.0 417.3,692.0 417.3,701.0" fill="#f01a0a"/>
<polygon points="433.7,701.0 433.7,692.0 437.5,692.0 432.0,683.0 426.5,692.0 430.3,692.0 430.3,701.0" fill="#e8150d"/>
<polygon points="407.7,714.0 407.7,705.0 411.5,705.0 406.0,696.0 400.5,705.0 404.3,705.0 404.3,714.0" fill="#ff2a00"/>
<polygon points="417.3,696.0 417.3,705.0 413.5,705.0 419.0,714.0 424.5,705.0 420.7,705.0 420.7,696.0" fill="#e8150d"/>
<polygon points="433.7,714.0 433.7,705.0 437.5,705.0 432.0,696.0 426.5,705.0 430.3,705.0 430.3,714.0" fill="#ff3800"/>
<polygon points="407.7,727.0 407.7,718.0 411.5,718.0 406.0,709.0 400.5,718.0 404.3,718.0 404.3,727.0" fill="#e8150d"/>
<polygon points="420.7,727.0 420.7,718.0 424.5,718.0 419.0,709.0 413.5,718.0 417.3,718.0 417.3,727.0" fill="#ff3800"/>
<polygon points="433.7,727.0 433.7,718.0 437.5,718.0 432.0,709.0 426.5,718.0 430.3,718.0 430.3,727.0" fill="#f02010"/>
<polygon points="407.7,740.0 407.7,731.0 411.5,731.0 406.0,722.0 400.5,731.0 404.3,731.0 404.3,740.0" fill="#f01a0a"/>
<polygon points="420.7,740.0 420.7,731.0 424.5,731.0 419.0,722.0 413.5,731.0 417.3,731.0 417.3,740.0" fill="#e8150d"/>
<polygon points="430.3,722.0 430.3,731.0 426.5,731.0 432.0,740.0 437.5,731.0 433.7,731.0 433.7,722.0" fill="#ff3800"/>
<polygon points="404.3,735.0 404.3,744.0 400.5,744.0 406.0,753.0 411.5,744.0 407.7,744.0 407.7,735.0" fill="#ff2a00"/>
<polygon points="417.3,735.0 417.3,744.0 413.5,744.0 419.0,753.0 424.5,744.0 420.7,744.0 420.7,735.0" fill="#f01a0a"/>
<polygon points="433.7,753.0 433.7,744.0 437.5,744.0 432.0,735.0 426.5,744.0 430.3,744.0 430.3,753.0" fill="#ff2a00"/>
<polygon points="281.0,557.8 293.0,557.8 293.0,562.0 303.0,556.0 293.0,550.0 293.0,554.2 281.0,554.2" fill="#ff2a00"/>
<polygon points="298.8,587.5 298.8,575.5 303.0,575.5 297.0,565.5 291.0,575.5 295.2,575.5 295.2,587.5" fill="#ff2a00"/>
<polygon points="300.9,558.0 293.1,565.8 290.4,563.1 287.9,573.3 298.2,570.8 295.5,568.2 303.3,560.4" fill="#ff3800"/>
<polygon points="293.0,557.8 305.0,557.8 305.0,562.0 315.0,556.0 305.0,550.0 305.0,554.2 293.0,554.2" fill="#ff2a00"/>
<polygon points="307.2,565.5 307.2,577.5 303.0,577.5 309.0,587.5 315.0,577.5 310.8,577.5 310.8,565.5" fill="#ff7a00"/>
<polygon points="298.7,560.4 306.5,568.2 303.8,570.8 314.1,573.3 311.6,563.1 308.9,565.8 301.1,558.0" fill="#ff7a00"/>
<polygon points="327.0,554.2 315.0,554.2 315.0,550.0 305.0,556.0 315.0,562.0 315.0,557.8 327.0,557.8" fill="#ff2a00"/>
<polygon points="332.0,574.7 320.0,574.7 320.0,570.5 310.0,576.5 320.0,582.5 320.0,578.3 332.0,578.3" fill="#ff2a00"/>
<polygon points="315.5,575.8 321.0,566.2 324.3,568.1 324.0,557.6 314.7,562.6 318.0,564.5 312.5,574.1" fill="#f01a0a"/>
<polygon points="317.0,557.8 329.0,557.8 329.0,562.0 339.0,556.0 329.0,550.0 329.0,554.2 317.0,554.2" fill="#f02010"/>
<polygon points="336.9,566.1 330.9,576.5 327.3,574.4 327.5,586.0 337.7,580.4 334.1,578.3 340.1,567.9" fill="#ff2a00"/>
<polygon points="337.5,574.1 332.0,564.5 335.3,562.6 326.0,557.6 325.7,568.1 329.0,566.2 334.5,575.8" fill="#f02010"/>
<polygon points="329.0,557.8 341.0,557.8 341.0,562.0 351.0,556.0 341.0,550.0 341.0,554.2 329.0,554.2" fill="#ffa000"/>
<polygon points="334.0,578.3 346.0,578.3 346.0,582.5 356.0,576.5 346.0,570.5 346.0,574.7 334.0,574.7" fill="#ff3800"/>
<polygon points="349.5,574.1 344.0,564.5 347.3,562.6 338.0,557.6 337.7,568.1 341.0,566.2 346.5,575.8" fill="#e8150d"/>
<polygon points="363.0,554.2 351.0,554.2 351.0,550.0 341.0,556.0 351.0,562.0 351.0,557.8 363.0,557.8" fill="#f02010"/>
<polygon points="360.9,566.1 354.9,576.5 351.3,574.4 351.5,586.0 361.7,580.4 358.1,578.3 364.1,567.9" fill="#ff2a00"/>
<polygon points="346.7,560.4 354.5,568.2 351.8,570.8 362.1,573.3 359.6,563.1 356.9,565.8 349.1,558.0" fill="#ffa000"/>
<polygon points="353.0,557.8 365.0,557.8 365.0,562.0 375.0,556.0 365.0,550.0 365.0,554.2 353.0,554.2" fill="#f02010"/>
<polygon points="358.0,578.3 370.0,578.3 370.0,582.5 380.0,576.5 370.0,570.5 370.0,574.7 358.0,574.7" fill="#ffa000"/>
<polygon points="363.5,575.8 369.0,566.2 372.3,568.1 372.0,557.6 362.7,562.6 366.0,564.5 360.5,574.1" fill="#f01a0a"/>
<polygon points="365.0,557.8 377.0,557.8 377.0,562.0 387.0,556.0 377.0,550.0 377.0,554.2 365.0,554.2" fill="#ff3800"/>
<polygon points="373.9,567.9 379.9,578.3 376.3,580.4 386.5,586.0 386.7,574.4 383.1,576.5 377.1,566.1" fill="#ffa000"/>
<polygon points="387.3,572.1 379.5,564.3 382.2,561.7 371.9,559.2 374.4,569.4 377.1,566.7 384.9,574.5" fill="#e8150d"/>
<polygon points="377.0,557.8 389.0,557.8 389.0,562.0 399.0,556.0 389.0,550.0 389.0,554.2 377.0,554.2" fill="#f02010"/>
<polygon points="382.0,578.3 394.0,578.3 394.0,582.5 404.0,576.5 394.0,570.5 394.0,574.7 382.0,574.7" fill="#ff2a00"/>
<polygon points="382.7,560.4 390.5,568.2 387.8,570.8 398.1,573.3 395.6,563.1 392.9,565.8 385.1,558.0" fill="#ff7a00"/>
<polygon points="389.0,557.8 401.0,557.8 401.0,562.0 411.0,556.0 401.0,550.0 401.0,554.2 389.0,554.2" fill="#ffd000"/>
<polygon points="408.9,566.1 402.9,576.5 399.3,574.4 399.5,586.0 409.7,580.4 406.1,578.3 412.1,567.9" fill="#80e000"/>
<polygon points="394.7,560.4 402.5,568.2 399.8,570.8 410.1,573.3 407.6,563.1 404.9,565.8 397.1,558.0" fill="#e8e800"/>
<polygon points="401.0,553.9 412.3,558.0 410.9,562.0 422.3,559.8 415.0,550.7 413.6,554.7 402.3,550.5" fill="#ff9000"/>
<polygon points="418.8,587.5 418.8,575.5 423.0,575.5 417.0,565.5 411.0,575.5 415.2,575.5 415.2,587.5" fill="#ff9000"/>
<polygon points="406.7,560.4 414.5,568.2 411.8,570.8 422.1,573.3 419.6,563.1 416.9,565.8 409.1,558.0" fill="#ffd000"/>
<polygon points="413.0,557.8 425.0,557.8 425.0,562.0 435.0,556.0 425.0,550.0 425.0,554.2 413.0,554.2" fill="#ffd000"/>
<polygon points="421.9,567.9 427.9,578.3 424.3,580.4 434.5,586.0 434.7,574.4 431.1,576.5 425.1,566.1" fill="#80e000"/>
<polygon points="435.3,572.1 427.5,564.3 430.2,561.7 419.9,559.2 422.4,569.4 425.1,566.7 432.9,574.5" fill="#ff9000"/>
<polygon points="425.0,557.8 437.0,557.8 437.0,562.0 447.0,556.0 437.0,550.0 437.0,554.2 425.0,554.2" fill="#80e000"/>
<polygon points="430.0,578.3 442.0,578.3 442.0,582.5 452.0,576.5 442.0,570.5 442.0,574.7 430.0,574.7" fill="#ff3000"/>
<polygon points="433.1,574.5 440.9,566.7 443.6,569.4 446.1,559.2 435.8,561.7 438.5,564.3 430.7,572.1" fill="#80e000"/>
<polygon points="459.0,554.2 447.0,554.2 447.0,550.0 437.0,556.0 447.0,562.0 447.0,557.8 459.0,557.8" fill="#ffa000"/>
<polygon points="464.0,574.7 452.0,574.7 452.0,570.5 442.0,576.5 452.0,582.5 452.0,578.3 464.0,578.3" fill="#e8150d"/>
<polygon points="457.5,574.1 452.0,564.5 455.3,562.6 446.0,557.6 445.7,568.1 449.0,566.2 454.5,575.8" fill="#e8150d"/>
<polygon points="450.3,561.5 461.6,557.3 463.0,561.3 470.3,552.2 458.9,550.0 460.3,554.0 449.0,558.1" fill="#ffa000"/>
<polygon points="476.0,574.7 464.0,574.7 464.0,570.5 454.0,576.5 464.0,582.5 464.0,578.3 476.0,578.3" fill="#ffa000"/>
<polygon points="471.3,572.1 463.5,564.3 466.2,561.7 455.9,559.2 458.4,569.4 461.1,566.7 468.9,574.5" fill="#ff2a00"/>
<polygon points="461.0,557.8 473.0,557.8 473.0,562.0 483.0,556.0 473.0,550.0 473.0,554.2 461.0,554.2" fill="#e8150d"/>
<polygon points="488.0,574.7 476.0,574.7 476.0,570.5 466.0,576.5 476.0,582.5 476.0,578.3 488.0,578.3" fill="#f01a0a"/>
<polygon points="469.1,574.5 476.9,566.7 479.6,569.4 482.1,559.2 471.8,561.7 474.5,564.3 466.7,572.1" fill="#ffa000"/>
<polygon points="474.3,561.5 485.6,557.3 487.0,561.3 494.3,552.2 482.9,550.0 484.3,554.0 473.0,558.1" fill="#ff2a00"/>
<polygon points="490.8,587.5 490.8,575.5 495.0,575.5 489.0,565.5 483.0,575.5 487.2,575.5 487.2,587.5" fill="#ff7a00"/>
<polygon points="481.1,574.5 488.9,566.7 491.6,569.4 494.1,559.2 483.8,561.7 486.5,564.3 478.7,572.1" fill="#ff7a00"/>
<polygon points="485.0,557.8 497.0,557.8 497.0,562.0 507.0,556.0 497.0,550.0 497.0,554.2 485.0,554.2" fill="#ff2a00"/>
<polygon points="493.9,567.9 499.9,578.3 496.3,580.4 506.5,586.0 506.7,574.4 503.1,576.5 497.1,566.1" fill="#f01a0a"/>
<polygon points="507.3,572.1 499.5,564.3 502.2,561.7 491.9,559.2 494.4,569.4 497.1,566.7 504.9,574.5" fill="#ff3800"/>
<polygon points="498.3,561.5 509.6,557.3 511.0,561.3 518.3,552.2 506.9,550.0 508.3,554.0 497.0,558.1" fill="#ffa000"/>
<polygon points="524.0,574.7 512.0,574.7 512.0,570.5 502.0,576.5 512.0,582.5 512.0,578.3 524.0,578.3" fill="#ff2a00"/>
<polygon points="507.5,575.8 513.0,566.2 516.3,568.1 516.0,557.6 506.7,562.6 510.0,564.5 504.5,574.1" fill="#ff3800"/>
<polygon points="510.3,561.5 521.6,557.3 523.0,561.3 530.3,552.2 518.9,550.0 520.3,554.0 509.0,558.1" fill="#ff6000"/>
<polygon points="528.9,566.1 522.9,576.5 519.3,574.4 519.5,586.0 529.7,580.4 526.1,578.3 532.1,567.9" fill="#ff2a00"/>
<polygon points="519.5,575.8 525.0,566.2 528.3,568.1 528.0,557.6 518.7,562.6 522.0,564.5 516.5,574.1" fill="#f02010"/>
<polygon points="521.0,557.8 533.0,557.8 533.0,562.0 543.0,556.0 533.0,550.0 533.0,554.2 521.0,554.2" fill="#f01a0a"/>
<polygon points="535.2,565.5 535.2,577.5 531.0,577.5 537.0,587.5 543.0,577.5 538.8,577.5 538.8,565.5" fill="#ffa000"/>
<polygon points="541.5,574.1 536.0,564.5 539.3,562.6 530.0,557.6 529.7,568.1 533.0,566.2 538.5,575.8" fill="#ff6000"/>
<polygon points="533.0,557.8 545.0,557.8 545.0,562.0 555.0,556.0 545.0,550.0 545.0,554.2 533.0,554.2" fill="#f02010"/>
<polygon points="560.0,574.7 548.0,574.7 548.0,570.5 538.0,576.5 548.0,582.5 548.0,578.3 560.0,578.3" fill="#ff2a00"/>
<polygon points="552.9,558.0 545.1,565.8 542.4,563.1 539.9,573.3 550.2,570.8 547.5,568.2 555.3,560.4" fill="#f02010"/>
<polygon points="281.0,755.3 293.0,755.3 293.0,759.5 303.0,753.5 293.0,747.5 293.0,751.7 281.0,751.7" fill="#f01a0a"/>
<polygon points="300.9,762.3 294.9,772.7 291.3,770.6 291.5,782.3 301.7,776.6 298.1,774.5 304.1,764.1" fill="#f02010"/>
<polygon points="286.7,757.3 294.5,765.0 291.8,767.7 302.1,770.2 299.6,759.9 296.9,762.6 289.1,754.9" fill="#f02010"/>
<polygon points="293.0,755.3 305.0,755.3 305.0,759.5 315.0,753.5 305.0,747.5 305.0,751.7 293.0,751.7" fill="#ffa000"/>
<polygon points="298.0,774.5 310.0,774.5 310.0,778.8 320.0,772.8 310.0,766.8 310.0,771.0 298.0,771.0" fill="#f01a0a"/>
<polygon points="298.7,757.3 306.5,765.0 303.8,767.7 314.1,770.2 311.6,759.9 308.9,762.6 301.1,754.9" fill="#f02010"/>
<polygon points="306.3,759.0 317.6,754.8 319.0,758.8 326.3,749.7 314.9,747.5 316.3,751.5 305.0,755.6" fill="#ff2a00"/>
<polygon points="319.2,761.8 319.2,773.8 315.0,773.8 321.0,783.8 327.0,773.8 322.8,773.8 322.8,761.8" fill="#ff7a00"/>
<polygon points="310.7,757.3 318.5,765.0 315.8,767.7 326.1,770.2 323.6,759.9 320.9,762.6 313.1,754.9" fill="#ff2a00"/>
<polygon points="317.0,751.4 328.3,755.5 326.9,759.5 338.3,757.3 331.0,748.2 329.6,752.2 318.3,748.0" fill="#f02010"/>
<polygon points="334.8,783.8 334.8,771.8 339.0,771.8 333.0,761.8 327.0,771.8 331.2,771.8 331.2,783.8" fill="#f02010"/>
<polygon points="339.3,769.0 331.5,761.2 334.2,758.5 323.9,756.1 326.4,766.3 329.1,763.6 336.9,771.4" fill="#f02010"/>
<polygon points="329.0,755.3 341.0,755.3 341.0,759.5 351.0,753.5 341.0,747.5 341.0,751.7 329.0,751.7" fill="#f02010"/>
<polygon points="334.0,774.5 346.0,774.5 346.0,778.8 356.0,772.8 346.0,766.8 346.0,771.0 334.0,771.0" fill="#f01a0a"/>
<polygon points="348.9,754.9 341.1,762.6 338.4,759.9 335.9,770.2 346.2,767.7 343.5,765.0 351.3,757.3" fill="#ffa000"/>
<polygon points="341.0,755.3 353.0,755.3 353.0,759.5 363.0,753.5 353.0,747.5 353.0,751.7 341.0,751.7" fill="#ff3800"/>
<polygon points="355.2,761.8 355.2,773.8 351.0,773.8 357.0,783.8 363.0,773.8 358.8,773.8 358.8,761.8" fill="#ffa000"/>
<polygon points="363.3,769.0 355.5,761.2 358.2,758.5 347.9,756.1 350.4,766.3 353.1,763.6 360.9,771.4" fill="#ff2a00"/>
<polygon points="353.0,755.3 365.0,755.3 365.0,759.5 375.0,753.5 365.0,747.5 365.0,751.7 353.0,751.7" fill="#ff2a00"/>
<polygon points="358.0,774.5 370.0,774.5 370.0,778.8 380.0,772.8 370.0,766.8 370.0,771.0 358.0,771.0" fill="#ff7a00"/>
<polygon points="361.1,771.4 368.9,763.6 371.6,766.3 374.1,756.1 363.8,758.5 366.5,761.2 358.7,769.0" fill="#f02010"/>
<polygon points="365.0,755.3 377.0,755.3 377.0,759.5 387.0,753.5 377.0,747.5 377.0,751.7 365.0,751.7" fill="#f01a0a"/>
<polygon points="392.0,771.0 380.0,771.0 380.0,766.8 370.0,772.8 380.0,778.8 380.0,774.5 392.0,774.5" fill="#f02010"/>
<polygon points="375.5,772.6 381.0,763.1 384.3,765.0 384.0,754.5 374.7,759.5 378.0,761.4 372.5,770.9" fill="#f02010"/>
<polygon points="378.3,759.0 389.6,754.8 391.0,758.8 398.3,749.7 386.9,747.5 388.3,751.5 377.0,755.6" fill="#ffa000"/>
<polygon points="391.2,761.8 391.2,773.8 387.0,773.8 393.0,783.8 399.0,773.8 394.8,773.8 394.8,761.8" fill="#f02010"/>
<polygon points="385.1,771.4 392.9,763.6 395.6,766.3 398.1,756.1 387.8,758.5 390.5,761.2 382.7,769.0" fill="#f02010"/>
<polygon points="389.0,755.3 401.0,755.3 401.0,759.5 411.0,753.5 401.0,747.5 401.0,751.7 389.0,751.7" fill="#ff9000"/>
<polygon points="403.2,761.8 403.2,773.8 399.0,773.8 405.0,783.8 411.0,773.8 406.8,773.8 406.8,761.8" fill="#ffd000"/>
<polygon points="399.5,772.6 405.0,763.1 408.3,765.0 408.0,754.5 398.7,759.5 402.0,761.4 396.5,770.9" fill="#80e000"/>
<polygon points="401.0,751.4 412.3,755.5 410.9,759.5 422.3,757.3 415.0,748.2 413.6,752.2 402.3,748.0" fill="#ffd000"/>
<polygon points="415.2,761.8 415.2,773.8 411.0,773.8 417.0,783.8 423.0,773.8 418.8,773.8 418.8,761.8" fill="#80e000"/>
<polygon points="406.7,757.3 414.5,765.0 411.8,767.7 422.1,770.2 419.6,759.9 416.9,762.6 409.1,754.9" fill="#ff3000"/>
<polygon points="413.0,751.4 424.3,755.5 422.9,759.5 434.3,757.3 427.0,748.2 425.6,752.2 414.3,748.0" fill="#ff3000"/>
<polygon points="418.0,774.5 430.0,774.5 430.0,778.8 440.0,772.8 430.0,766.8 430.0,771.0 418.0,771.0" fill="#e8e800"/>
<polygon points="433.5,770.9 428.0,761.4 431.3,759.5 422.0,754.5 421.7,765.0 425.0,763.1 430.5,772.6" fill="#ff9000"/>
<polygon points="426.3,759.0 437.6,754.8 439.0,758.8 446.3,749.7 434.9,747.5 436.3,751.5 425.0,755.6" fill="#ff3000"/>
<polygon points="430.0,774.5 442.0,774.5 442.0,778.8 452.0,772.8 442.0,766.8 442.0,771.0 430.0,771.0" fill="#80e000"/>
<polygon points="435.5,772.6 441.0,763.1 444.3,765.0 444.0,754.5 434.7,759.5 438.0,761.4 432.5,770.9" fill="#e8e800"/>
<polygon points="437.0,751.4 448.3,755.5 446.9,759.5 458.3,757.3 451.0,748.2 449.6,752.2 438.3,748.0" fill="#ff3800"/>
<polygon points="442.0,774.5 454.0,774.5 454.0,778.8 464.0,772.8 454.0,766.8 454.0,771.0 442.0,771.0" fill="#f02010"/>
<polygon points="456.9,754.9 449.1,762.6 446.4,759.9 443.9,770.2 454.2,767.7 451.5,765.0 459.3,757.3" fill="#ff2a00"/>
<polygon points="450.3,759.0 461.6,754.8 463.0,758.8 470.3,749.7 458.9,747.5 460.3,751.5 449.0,755.6" fill="#e8150d"/>
<polygon points="466.8,783.8 466.8,771.8 471.0,771.8 465.0,761.8 459.0,771.8 463.2,771.8 463.2,783.8" fill="#ff2a00"/>
<polygon points="454.7,757.3 462.5,765.0 459.8,767.7 470.1,770.2 467.6,759.9 464.9,762.6 457.1,754.9" fill="#e8150d"/>
<polygon points="461.0,755.3 473.0,755.3 473.0,759.5 483.0,753.5 473.0,747.5 473.0,751.7 461.0,751.7" fill="#e8150d"/>
<polygon points="475.2,761.8 475.2,773.8 471.0,773.8 477.0,783.8 483.0,773.8 478.8,773.8 478.8,761.8" fill="#f02010"/>
<polygon points="481.5,770.9 476.0,761.4 479.3,759.5 470.0,754.5 469.7,765.0 473.0,763.1 478.5,772.6" fill="#ff3800"/>
<polygon points="473.0,755.3 485.0,755.3 485.0,759.5 495.0,753.5 485.0,747.5 485.0,751.7 473.0,751.7" fill="#ffa000"/>
<polygon points="481.9,764.1 487.9,774.5 484.3,776.6 494.5,782.3 494.7,770.6 491.1,772.7 485.1,762.3" fill="#ff7a00"/>
<polygon points="493.5,770.9 488.0,761.4 491.3,759.5 482.0,754.5 481.7,765.0 485.0,763.1 490.5,772.6" fill="#ff6000"/>
<polygon points="507.0,751.7 495.0,751.7 495.0,747.5 485.0,753.5 495.0,759.5 495.0,755.3 507.0,755.3" fill="#ff2a00"/>
<polygon points="504.9,762.3 498.9,772.7 495.3,770.6 495.5,782.3 505.7,776.6 502.1,774.5 508.1,764.1" fill="#ff2a00"/>
<polygon points="504.9,754.9 497.1,762.6 494.4,759.9 491.9,770.2 502.2,767.7 499.5,765.0 507.3,757.3" fill="#f02010"/>
<polygon points="497.0,755.3 509.0,755.3 509.0,759.5 519.0,753.5 509.0,747.5 509.0,751.7 497.0,751.7" fill="#e8150d"/>
<polygon points="514.8,783.8 514.8,771.8 519.0,771.8 513.0,761.8 507.0,771.8 511.2,771.8 511.2,783.8" fill="#ff2a00"/>
<polygon points="517.5,770.9 512.0,761.4 515.3,759.5 506.0,754.5 505.7,765.0 509.0,763.1 514.5,772.6" fill="#f02010"/>
<polygon points="509.0,755.3 521.0,755.3 521.0,759.5 531.0,753.5 521.0,747.5 521.0,751.7 509.0,751.7" fill="#ff7a00"/>
<polygon points="526.8,783.8 526.8,771.8 531.0,771.8 525.0,761.8 519.0,771.8 523.2,771.8 523.2,783.8" fill="#f02010"/>
<polygon points="528.9,754.9 521.1,762.6 518.4,759.9 515.9,770.2 526.2,767.7 523.5,765.0 531.3,757.3" fill="#f01a0a"/>
<polygon points="522.3,759.0 533.6,754.8 535.0,758.8 542.3,749.7 530.9,747.5 532.3,751.5 521.0,755.6" fill="#f02010"/>
<polygon points="540.9,762.3 534.9,772.7 531.3,770.6 531.5,782.3 541.7,776.6 538.1,774.5 544.1,764.1" fill="#f01a0a"/>
<polygon points="529.1,771.4 536.9,763.6 539.6,766.3 542.1,756.1 531.8,758.5 534.5,761.2 526.7,769.0" fill="#ff7a00"/>
<polygon points="555.0,751.7 543.0,751.7 543.0,747.5 533.0,753.5 543.0,759.5 543.0,755.3 555.0,755.3" fill="#f01a0a"/>
<polygon points="552.9,762.3 546.9,772.7 543.3,770.6 543.5,782.3 553.7,776.6 550.1,774.5 556.1,764.1" fill="#f02010"/>
<polygon points="552.9,754.9 545.1,762.6 542.4,759.9 539.9,770.2 550.2,767.7 547.5,765.0 555.3,757.3" fill="#ff2a00"/>
<polygon points="294.0,573.8 292.2,583.7 288.1,583.0 292.3,593.8 299.9,585.0 295.8,584.3 297.5,574.5" fill="#f01a0a"/>
<polygon points="308.5,593.5 306.8,583.7 310.9,583.0 303.3,574.2 299.1,585.0 303.2,584.3 305.0,594.2" fill="#ff2a00"/>
<polygon points="290.5,585.5 292.2,595.3 288.1,596.0 295.7,604.8 299.9,594.0 295.8,594.7 294.0,584.8" fill="#ff3800"/>
<polygon points="305.0,605.2 306.8,595.3 310.9,596.0 306.7,585.2 299.1,594.0 303.2,594.7 301.5,604.5" fill="#ff3800"/>
<polygon points="295.8,616.0 295.8,606.0 300.0,606.0 294.0,596.0 288.0,606.0 292.2,606.0 292.2,616.0" fill="#f01a0a"/>
<polygon points="303.2,596.0 303.2,606.0 299.0,606.0 305.0,616.0 311.0,606.0 306.8,606.0 306.8,596.0" fill="#f01a0a"/>
<polygon points="295.8,627.0 295.8,617.0 300.0,617.0 294.0,607.0 288.0,617.0 292.2,617.0 292.2,627.0" fill="#ff2a00"/>
<polygon points="305.0,627.2 306.8,617.3 310.9,618.0 306.7,607.2 299.1,616.0 303.2,616.7 301.5,626.5" fill="#f01a0a"/>
<polygon points="292.2,618.0 292.2,628.0 288.0,628.0 294.0,638.0 300.0,628.0 295.8,628.0 295.8,618.0" fill="#ff2a00"/>
<polygon points="303.2,618.0 303.2,628.0 299.0,628.0 305.0,638.0 311.0,628.0 306.8,628.0 306.8,618.0" fill="#f02010"/>
<polygon points="294.0,628.8 292.2,638.7 288.1,638.0 292.3,648.8 299.9,640.0 295.8,639.3 297.5,629.5" fill="#ff2a00"/>
<polygon points="308.5,648.5 306.8,638.7 310.9,638.0 303.3,629.2 299.1,640.0 303.2,639.3 305.0,649.2" fill="#e8150d"/>
<polygon points="290.5,674.5 292.2,684.3 288.1,685.0 295.7,693.8 299.9,683.0 295.8,683.7 294.0,673.8" fill="#ff3800"/>
<polygon points="301.5,674.5 303.2,684.3 299.1,685.0 306.7,693.8 310.9,683.0 306.8,683.7 305.0,673.8" fill="#f02010"/>
<polygon points="294.0,684.8 292.2,694.7 288.1,694.0 292.3,704.8 299.9,696.0 295.8,695.3 297.5,685.5" fill="#ff2a00"/>
<polygon points="306.8,705.0 306.8,695.0 311.0,695.0 305.0,685.0 299.0,695.0 303.2,695.0 303.2,705.0" fill="#ff2a00"/>
<polygon points="295.8,716.0 295.8,706.0 300.0,706.0 294.0,696.0 288.0,706.0 292.2,706.0 292.2,716.0" fill="#e8150d"/>
<polygon points="308.5,715.5 306.8,705.7 310.9,705.0 303.3,696.2 299.1,707.0 303.2,706.3 305.0,716.2" fill="#f01a0a"/>
<polygon points="294.0,727.2 295.8,717.3 299.9,718.0 295.7,707.2 288.1,716.0 292.2,716.7 290.5,726.5" fill="#f01a0a"/>
<polygon points="305.0,706.8 303.2,716.7 299.1,716.0 303.3,726.8 310.9,718.0 306.8,717.3 308.5,707.5" fill="#f01a0a"/>
<polygon points="294.0,738.2 295.8,728.3 299.9,729.0 295.7,718.2 288.1,727.0 292.2,727.7 290.5,737.5" fill="#f01a0a"/>
<polygon points="301.5,718.5 303.2,728.3 299.1,729.0 306.7,737.8 310.9,727.0 306.8,727.7 305.0,717.8" fill="#e8150d"/>
<polygon points="295.8,749.0 295.8,739.0 300.0,739.0 294.0,729.0 288.0,739.0 292.2,739.0 292.2,749.0" fill="#ff2a00"/>
<polygon points="306.8,749.0 306.8,739.0 311.0,739.0 305.0,729.0 299.0,739.0 303.2,739.0 303.2,749.0" fill="#f02010"/>
<polygon points="536.8,594.0 536.8,584.0 541.0,584.0 535.0,574.0 529.0,584.0 533.2,584.0 533.2,594.0" fill="#ff2a00"/>
<polygon points="542.5,574.5 544.2,584.3 540.1,585.0 547.7,593.8 551.9,583.0 547.8,583.7 546.0,573.8" fill="#f02010"/>
<polygon points="535.0,605.2 536.8,595.3 540.9,596.0 536.7,585.2 529.1,594.0 533.2,594.7 531.5,604.5" fill="#ff3800"/>
<polygon points="544.2,585.0 544.2,595.0 540.0,595.0 546.0,605.0 552.0,595.0 547.8,595.0 547.8,585.0" fill="#f01a0a"/>
<polygon points="531.5,596.5 533.2,606.3 529.1,607.0 536.7,615.8 540.9,605.0 536.8,605.7 535.0,595.8" fill="#e8150d"/>
<polygon points="547.8,616.0 547.8,606.0 552.0,606.0 546.0,596.0 540.0,606.0 544.2,606.0 544.2,616.0" fill="#e8150d"/>
<polygon points="535.0,627.2 536.8,617.3 540.9,618.0 536.7,607.2 529.1,616.0 533.2,616.7 531.5,626.5" fill="#f01a0a"/>
<polygon points="544.2,607.0 544.2,617.0 540.0,617.0 546.0,627.0 552.0,617.0 547.8,617.0 547.8,607.0" fill="#e8150d"/>
<polygon points="535.0,638.2 536.8,628.3 540.9,629.0 536.7,618.2 529.1,627.0 533.2,627.7 531.5,637.5" fill="#ff2a00"/>
<polygon points="542.5,618.5 544.2,628.3 540.1,629.0 547.7,637.8 551.9,627.0 547.8,627.7 546.0,617.8" fill="#e8150d"/>
<polygon points="535.0,649.2 536.8,639.3 540.9,640.0 536.7,629.2 529.1,638.0 533.2,638.7 531.5,648.5" fill="#f02010"/>
<polygon points="542.5,629.5 544.2,639.3 540.1,640.0 547.7,648.8 551.9,638.0 547.8,638.7 546.0,628.8" fill="#e8150d"/>
<polygon points="535.0,694.2 536.8,684.3 540.9,685.0 536.7,674.2 529.1,683.0 533.2,683.7 531.5,693.5" fill="#ff2a00"/>
<polygon points="547.8,694.0 547.8,684.0 552.0,684.0 546.0,674.0 540.0,684.0 544.2,684.0 544.2,694.0" fill="#ff2a00"/>
<polygon points="536.8,705.0 536.8,695.0 541.0,695.0 535.0,685.0 529.0,695.0 533.2,695.0 533.2,705.0" fill="#f01a0a"/>
<polygon points="547.8,705.0 547.8,695.0 552.0,695.0 546.0,685.0 540.0,695.0 544.2,695.0 544.2,705.0" fill="#ff3800"/>
<polygon points="531.5,696.5 533.2,706.3 529.1,707.0 536.7,715.8 540.9,705.0 536.8,705.7 535.0,695.8" fill="#e8150d"/>
<polygon points="542.5,696.5 544.2,706.3 540.1,707.0 547.7,715.8 551.9,705.0 547.8,705.7 546.0,695.8" fill="#f02010"/>
<polygon points="533.2,707.0 533.2,717.0 529.0,717.0 535.0,727.0 541.0,717.0 536.8,717.0 536.8,707.0" fill="#f02010"/>
<polygon points="547.8,727.0 547.8,717.0 552.0,717.0 546.0,707.0 540.0,717.0 544.2,717.0 544.2,727.0" fill="#f02010"/>
<polygon points="535.0,717.8 533.2,727.7 529.1,727.0 533.3,737.8 540.9,729.0 536.8,728.3 538.5,718.5" fill="#f02010"/>
<polygon points="542.5,718.5 544.2,728.3 540.1,729.0 547.7,737.8 551.9,727.0 547.8,727.7 546.0,717.8" fill="#f02010"/>
<polygon points="531.5,729.5 533.2,739.3 529.1,740.0 536.7,748.8 540.9,738.0 536.8,738.7 535.0,728.8" fill="#ff2a00"/>
<polygon points="546.0,728.8 544.2,738.7 540.1,738.0 544.3,748.8 551.9,740.0 547.8,739.3 549.5,729.5" fill="#e8150d"/>
<polygon points="284.5,554.0 284.5,562.0 281.0,562.0 286.0,570.0 291.0,562.0 287.5,562.0 287.5,554.0" fill="#20e8c0"/>
<polygon points="287.5,584.0 287.5,576.0 291.0,576.0 286.0,568.0 281.0,576.0 284.5,576.0 284.5,584.0" fill="#20e8c0"/>
<polygon points="284.5,582.0 284.5,590.0 281.0,590.0 286.0,598.0 291.0,590.0 287.5,590.0 287.5,582.0" fill="#40e000"/>
<polygon points="287.5,612.0 287.5,604.0 291.0,604.0 286.0,596.0 281.0,604.0 284.5,604.0 284.5,612.0" fill="#30e010"/>
<polygon points="287.5,626.0 287.5,618.0 291.0,618.0 286.0,610.0 281.0,618.0 284.5,618.0 284.5,626.0" fill="#30e010"/>
<polygon points="284.5,624.0 284.5,632.0 281.0,632.0 286.0,640.0 291.0,632.0 287.5,632.0 287.5,624.0" fill="#00e0e0"/>
<polygon points="287.5,654.0 287.5,646.0 291.0,646.0 286.0,638.0 281.0,646.0 284.5,646.0 284.5,654.0" fill="#20e8c0"/>
<polygon points="284.5,680.0 284.5,688.0 281.0,688.0 286.0,696.0 291.0,688.0 287.5,688.0 287.5,680.0" fill="#30e010"/>
<polygon points="284.5,694.0 284.5,702.0 281.0,702.0 286.0,710.0 291.0,702.0 287.5,702.0 287.5,694.0" fill="#20e890"/>
<polygon points="287.5,724.0 287.5,716.0 291.0,716.0 286.0,708.0 281.0,716.0 284.5,716.0 284.5,724.0" fill="#20e890"/>
<polygon points="287.5,738.0 287.5,730.0 291.0,730.0 286.0,722.0 281.0,730.0 284.5,730.0 284.5,738.0" fill="#00e0e0"/>
<polygon points="287.5,752.0 287.5,744.0 291.0,744.0 286.0,736.0 281.0,744.0 284.5,744.0 284.5,752.0" fill="#40e000"/>
<polygon points="284.5,750.0 284.5,758.0 281.0,758.0 286.0,766.0 291.0,758.0 287.5,758.0 287.5,750.0" fill="#20e8c0"/>
<polygon points="553.5,570.0 553.5,562.0 557.0,562.0 552.0,554.0 547.0,562.0 550.5,562.0 550.5,570.0" fill="#40e000"/>
<polygon points="550.5,568.0 550.5,576.0 547.0,576.0 552.0,584.0 557.0,576.0 553.5,576.0 553.5,568.0" fill="#00e0e0"/>
<polygon points="550.5,582.0 550.5,590.0 547.0,590.0 552.0,598.0 557.0,590.0 553.5,590.0 553.5,582.0" fill="#00e0e0"/>
<polygon points="553.5,612.0 553.5,604.0 557.0,604.0 552.0,596.0 547.0,604.0 550.5,604.0 550.5,612.0" fill="#20e8c0"/>
<polygon points="553.5,626.0 553.5,618.0 557.0,618.0 552.0,610.0 547.0,618.0 550.5,618.0 550.5,626.0" fill="#00e0e0"/>
<polygon points="553.5,640.0 553.5,632.0 557.0,632.0 552.0,624.0 547.0,632.0 550.5,632.0 550.5,640.0" fill="#00e0e0"/>
<polygon points="550.5,638.0 550.5,646.0 547.0,646.0 552.0,654.0 557.0,646.0 553.5,646.0 553.5,638.0" fill="#30e010"/>
<polygon points="553.5,696.0 553.5,688.0 557.0,688.0 552.0,680.0 547.0,688.0 550.5,688.0 550.5,696.0" fill="#40e000"/>
<polygon points="550.5,694.0 550.5,702.0 547.0,702.0 552.0,710.0 557.0,702.0 553.5,702.0 553.5,694.0" fill="#40e000"/>
<polygon points="553.5,724.0 553.5,716.0 557.0,716.0 552.0,708.0 547.0,716.0 550.5,716.0 550.5,724.0" fill="#20e890"/>
<polygon points="553.5,738.0 553.5,730.0 557.0,730.0 552.0,722.0 547.0,730.0 550.5,730.0 550.5,738.0" fill="#20e8c0"/>
<polygon points="550.5,736.0 550.5,744.0 547.0,744.0 552.0,752.0 557.0,744.0 553.5,744.0 553.5,736.0" fill="#30e010"/>
<polygon points="553.5,766.0 553.5,758.0 557.0,758.0 552.0,750.0 547.0,758.0 550.5,758.0 550.5,766.0" fill="#30e010"/>
<circle cx="299" cy="656" r="6.5" fill="#e8150d"/>
<circle cx="540" cy="656" r="6.5" fill="#e8150d"/>
<circle cx="540" cy="677" r="6.5" fill="#e8150d"/>
<text x="99" y="530.5" font-size="37" font-weight="bold">VO<tspan font-size="25" dy="7">2</tspan><tspan dy="-7">: 2 × 10</tspan><tspan font-size="25" dy="-17">5</tspan><tspan dy="17"> S/m</tspan></text>
<text x="361" y="626" font-size="40" text-anchor="middle" font-weight="bold">m</text>
<text x="480" y="626" font-size="40" text-anchor="middle" font-weight="bold">m</text>
<circle cx="361.5" cy="663.5" r="22.8" fill="none" stroke="#000" stroke-width="5.2"/>
<path d="M347.4,649.4 L375.6,677.6 M347.4,677.6 L375.6,649.4" stroke="#000" stroke-width="5.2"/>
<circle cx="480.0" cy="663.5" r="22.8" fill="none" stroke="#000" stroke-width="5.2"/>
<circle cx="480.0" cy="663.5" r="8" fill="#000"/>
<line x1="117.0" y1="811.0" x2="117.0" y2="767.0" stroke="#1e6e3a" stroke-width="4"/>
<polygon points="109.0,771.0 125.0,771.0 117.0,753.0" fill="#1e7040"/>
<line x1="125.0" y1="817.0" x2="175.0" y2="817.0" stroke="#4a70b0" stroke-width="5"/>
<polygon points="169.0,808.0 169.0,826.0 191.0,817.0" fill="#3c5c98"/>
<circle cx="117.0" cy="817.0" r="8.5" fill="#fff" stroke="#e01010" stroke-width="3"/>
<path d="M112.0,812.0 L122.0,822.0 M112.0,822.0 L122.0,812.0" stroke="#e01010" stroke-width="2.6"/>
<text x="102.0" y="743.0" font-size="25" font-style="italic" font-weight="bold" fill="#2a9a55">Ey</text>
<text x="203.0" y="825.5" font-size="27" font-style="italic" font-weight="bold" fill="#1a1ad0">Hx</text>
<defs><linearGradient id="cb1" x1="0" y1="0" x2="0" y2="1">
<stop offset="0.00" stop-color="#f0140a"/>
<stop offset="0.04" stop-color="#ff2a00"/>
<stop offset="0.15" stop-color="#ff8000"/>
<stop offset="0.25" stop-color="#ffee00"/>
<stop offset="0.30" stop-color="#f8ff00"/>
<stop offset="0.38" stop-color="#a8ff00"/>
<stop offset="0.49" stop-color="#00e000"/>
<stop offset="0.58" stop-color="#00e880"/>
<stop offset="0.66" stop-color="#00f0c0"/>
<stop offset="0.74" stop-color="#00ffff"/>
<stop offset="0.83" stop-color="#0090ff"/>
<stop offset="0.92" stop-color="#1040f0"/>
<stop offset="1.00" stop-color="#1010c0"/>
</linearGradient></defs>
<rect x="761.1" y="480.5" width="44.7" height="364.1" fill="url(#cb1)" stroke="#303030" stroke-width="1.5"/>
<text transform="translate(810.5,492) scale(1.12,1)" font-size="30" font-weight="bold">1000</text>
<text transform="translate(812.5,848) scale(1.12,1)" font-size="30" font-weight="bold">0</text>
<text transform="translate(816.5,639.6) scale(1.08,1)" font-size="25.5" font-weight="bold">Surface</text>
<text transform="translate(816.5,673.0) scale(1.08,1)" font-size="25.5" font-weight="bold">Current</text>
<text transform="translate(816.5,706.4) scale(1.08,1)" font-size="25.5" font-weight="bold">(A/m)</text>
<rect x="91" y="907" width="660" height="394" fill="url(#gc)"/>
<line x1="102" y1="928" x2="102" y2="1280" stroke="#d8d9e2" stroke-width="2"/>
<line x1="738.6" y1="928" x2="738.6" y2="1280" stroke="#e4e4ea" stroke-width="2.5"/>
<line x1="740" y1="928" x2="740" y2="1280" stroke="#9a9cab" stroke-width="1"/>
<rect x="91" y="907.5" width="660" height="20.5" fill="url(#barTe)" stroke="#151515" stroke-width="1.6"/>
<rect x="91" y="1280.6" width="660" height="20.6" fill="url(#barBe)" stroke="#151515" stroke-width="1.6"/>
<line x1="105.0" y1="910.0" x2="105.0" y2="929.0" stroke="#50e890" stroke-width="2.6"/>
<ellipse cx="105.0" cy="931.0" rx="3.8" ry="3.2" fill="#28d0d0"/>
<ellipse cx="105.0" cy="923.5" rx="2.2" ry="3" fill="#1a3aa0"/>
<line x1="105.0" y1="1283.0" x2="105.0" y2="1299.0" stroke="#50e890" stroke-width="2.6"/>
<ellipse cx="105.0" cy="1279.5" rx="3.8" ry="3.2" fill="#28d0d0"/>
<ellipse cx="105.0" cy="1295.0" rx="2.2" ry="3" fill="#1a3aa0"/>
<line x1="118.5" y1="910.0" x2="118.5" y2="929.0" stroke="#50e890" stroke-width="2.6"/>
<ellipse cx="118.5" cy="931.0" rx="3.8" ry="3.2" fill="#28d0d0"/>
<ellipse cx="118.5" cy="915.5" rx="2.2" ry="3" fill="#1a3aa0"/>
<line x1="118.5" y1="1283.0" x2="118.5" y2="1299.0" stroke="#40e8a0" stroke-width="2.6"/>
<ellipse cx="118.5" cy="1279.5" rx="3.8" ry="3.2" fill="#28d0d0"/>
<ellipse cx="118.5" cy="1287.0" rx="2.2" ry="3" fill="#1a3aa0"/>
<line x1="146.2" y1="910.0" x2="146.2" y2="929.0" stroke="#40e8a0" stroke-width="2.6"/>
<ellipse cx="146.2" cy="931.0" rx="3.8" ry="3.2" fill="#28d0d0"/>
<ellipse cx="146.2" cy="923.5" rx="2.2" ry="3" fill="#1a3aa0"/>
<line x1="146.2" y1="1283.0" x2="146.2" y2="1299.0" stroke="#50e890" stroke-width="2.6"/>
<ellipse cx="146.2" cy="1279.5" rx="3.8" ry="3.2" fill="#28d0d0"/>
<ellipse cx="146.2" cy="1295.0" rx="2.2" ry="3" fill="#1a3aa0"/>
<line x1="159.7" y1="910.0" x2="159.7" y2="929.0" stroke="#40e8a0" stroke-width="2.6"/>
<ellipse cx="159.7" cy="931.0" rx="3.8" ry="3.2" fill="#28d0d0"/>
<ellipse cx="159.7" cy="915.5" rx="2.2" ry="3" fill="#1a3aa0"/>
<line x1="159.7" y1="1283.0" x2="159.7" y2="1299.0" stroke="#30e0b0" stroke-width="2.6"/>
<ellipse cx="159.7" cy="1279.5" rx="3.8" ry="3.2" fill="#28d0d0"/>
<ellipse cx="159.7" cy="1287.0" rx="2.2" ry="3" fill="#1a3aa0"/>
<line x1="187.4" y1="910.0" x2="187.4" y2="929.0" stroke="#50e890" stroke-width="2.6"/>
<ellipse cx="187.4" cy="931.0" rx="3.8" ry="3.2" fill="#28d0d0"/>
<ellipse cx="187.4" cy="923.5" rx="2.2" ry="3" fill="#1a3aa0"/>
<line x1="187.4" y1="1283.0" x2="187.4" y2="1299.0" stroke="#28d8c0" stroke-width="2.6"/>
<ellipse cx="187.4" cy="1279.5" rx="3.8" ry="3.2" fill="#28d0d0"/>
<ellipse cx="187.4" cy="1295.0" rx="2.2" ry="3" fill="#1a3aa0"/>
<line x1="200.9" y1="910.0" x2="200.9" y2="929.0" stroke="#40e8a0" stroke-width="2.6"/>
<ellipse cx="200.9" cy="931.0" rx="3.8" ry="3.2" fill="#28d0d0"/>
<ellipse cx="200.9" cy="915.5" rx="2.2" ry="3" fill="#1a3aa0"/>
<line x1="200.9" y1="1283.0" x2="200.9" y2="1299.0" stroke="#30e0b0" stroke-width="2.6"/>
<ellipse cx="200.9" cy="1279.5" rx="3.8" ry="3.2" fill="#28d0d0"/>
<ellipse cx="200.9" cy="1287.0" rx="2.2" ry="3" fill="#1a3aa0"/>
<line x1="228.6" y1="910.0" x2="228.6" y2="929.0" stroke="#30e0b0" stroke-width="2.6"/>
<ellipse cx="228.6" cy="931.0" rx="3.8" ry="3.2" fill="#28d0d0"/>
<ellipse cx="228.6" cy="923.5" rx="2.2" ry="3" fill="#1a3aa0"/>
<line x1="228.6" y1="1283.0" x2="228.6" y2="1299.0" stroke="#50e890" stroke-width="2.6"/>
<ellipse cx="228.6" cy="1279.5" rx="3.8" ry="3.2" fill="#28d0d0"/>
<ellipse cx="228.6" cy="1295.0" rx="2.2" ry="3" fill="#1a3aa0"/>
<line x1="242.1" y1="910.0" x2="242.1" y2="929.0" stroke="#50e890" stroke-width="2.6"/>
<ellipse cx="242.1" cy="931.0" rx="3.8" ry="3.2" fill="#28d0d0"/>
<ellipse cx="242.1" cy="915.5" rx="2.2" ry="3" fill="#1a3aa0"/>
<line x1="242.1" y1="1283.0" x2="242.1" y2="1299.0" stroke="#40e8a0" stroke-width="2.6"/>
<ellipse cx="242.1" cy="1279.5" rx="3.8" ry="3.2" fill="#28d0d0"/>
<ellipse cx="242.1" cy="1287.0" rx="2.2" ry="3" fill="#1a3aa0"/>
<line x1="269.8" y1="910.0" x2="269.8" y2="929.0" stroke="#30e0b0" stroke-width="2.6"/>
<ellipse cx="269.8" cy="931.0" rx="3.8" ry="3.2" fill="#28d0d0"/>
<ellipse cx="269.8" cy="923.5" rx="2.2" ry="3" fill="#1a3aa0"/>
<line x1="269.8" y1="1283.0" x2="269.8" y2="1299.0" stroke="#30e0b0" stroke-width="2.6"/>
<ellipse cx="269.8" cy="1279.5" rx="3.8" ry="3.2" fill="#28d0d0"/>
<ellipse cx="269.8" cy="1295.0" rx="2.2" ry="3" fill="#1a3aa0"/>
<line x1="283.3" y1="910.0" x2="283.3" y2="929.0" stroke="#30e0b0" stroke-width="2.6"/>
<ellipse cx="283.3" cy="931.0" rx="3.8" ry="3.2" fill="#28d0d0"/>
<ellipse cx="283.3" cy="915.5" rx="2.2" ry="3" fill="#1a3aa0"/>
<line x1="283.3" y1="1283.0" x2="283.3" y2="1299.0" stroke="#30e0b0" stroke-width="2.6"/>
<ellipse cx="283.3" cy="1279.5" rx="3.8" ry="3.2" fill="#28d0d0"/>
<ellipse cx="283.3" cy="1287.0" rx="2.2" ry="3" fill="#1a3aa0"/>
<line x1="311.0" y1="910.0" x2="311.0" y2="929.0" stroke="#40e8a0" stroke-width="2.6"/>
<ellipse cx="311.0" cy="931.0" rx="3.8" ry="3.2" fill="#28d0d0"/>
<ellipse cx="311.0" cy="923.5" rx="2.2" ry="3" fill="#1a3aa0"/>
<line x1="311.0" y1="1283.0" x2="311.0" y2="1299.0" stroke="#40e8a0" stroke-width="2.6"/>
<ellipse cx="311.0" cy="1279.5" rx="3.8" ry="3.2" fill="#28d0d0"/>
<ellipse cx="311.0" cy="1295.0" rx="2.2" ry="3" fill="#1a3aa0"/>
<line x1="324.5" y1="910.0" x2="324.5" y2="929.0" stroke="#30e0b0" stroke-width="2.6"/>
<ellipse cx="324.5" cy="931.0" rx="3.8" ry="3.2" fill="#28d0d0"/>
<ellipse cx="324.5" cy="915.5" rx="2.2" ry="3" fill="#1a3aa0"/>
<line x1="324.5" y1="1283.0" x2="324.5" y2="1299.0" stroke="#50e890" stroke-width="2.6"/>
<ellipse cx="324.5" cy="1279.5" rx="3.8" ry="3.2" fill="#28d0d0"/>
<ellipse cx="324.5" cy="1287.0" rx="2.2" ry="3" fill="#1a3aa0"/>
<line x1="352.2" y1="910.0" x2="352.2" y2="929.0" stroke="#28d8c0" stroke-width="2.6"/>
<ellipse cx="352.2" cy="931.0" rx="3.8" ry="3.2" fill="#28d0d0"/>
<ellipse cx="352.2" cy="923.5" rx="2.2" ry="3" fill="#1a3aa0"/>
<line x1="352.2" y1="1283.0" x2="352.2" y2="1299.0" stroke="#50e890" stroke-width="2.6"/>
<ellipse cx="352.2" cy="1279.5" rx="3.8" ry="3.2" fill="#28d0d0"/>
<ellipse cx="352.2" cy="1295.0" rx="2.2" ry="3" fill="#1a3aa0"/>
<line x1="365.7" y1="910.0" x2="365.7" y2="929.0" stroke="#40e8a0" stroke-width="2.6"/>
<ellipse cx="365.7" cy="931.0" rx="3.8" ry="3.2" fill="#28d0d0"/>
<ellipse cx="365.7" cy="915.5" rx="2.2" ry="3" fill="#1a3aa0"/>
<line x1="365.7" y1="1283.0" x2="365.7" y2="1299.0" stroke="#40e8a0" stroke-width="2.6"/>
<ellipse cx="365.7" cy="1279.5" rx="3.8" ry="3.2" fill="#28d0d0"/>
<ellipse cx="365.7" cy="1287.0" rx="2.2" ry="3" fill="#1a3aa0"/>
<line x1="393.4" y1="910.0" x2="393.4" y2="929.0" stroke="#28d8c0" stroke-width="2.6"/>
<ellipse cx="393.4" cy="931.0" rx="3.8" ry="3.2" fill="#28d0d0"/>
<ellipse cx="393.4" cy="923.5" rx="2.2" ry="3" fill="#1a3aa0"/>
<line x1="393.4" y1="1283.0" x2="393.4" y2="1299.0" stroke="#50e890" stroke-width="2.6"/>
<ellipse cx="393.4" cy="1279.5" rx="3.8" ry="3.2" fill="#28d0d0"/>
<ellipse cx="393.4" cy="1295.0" rx="2.2" ry="3" fill="#1a3aa0"/>
<line x1="406.9" y1="910.0" x2="406.9" y2="929.0" stroke="#30e0b0" stroke-width="2.6"/>
<ellipse cx="406.9" cy="931.0" rx="3.8" ry="3.2" fill="#28d0d0"/>
<ellipse cx="406.9" cy="915.5" rx="2.2" ry="3" fill="#1a3aa0"/>
<line x1="406.9" y1="1283.0" x2="406.9" y2="1299.0" stroke="#30e0b0" stroke-width="2.6"/>
<ellipse cx="406.9" cy="1279.5" rx="3.8" ry="3.2" fill="#28d0d0"/>
<ellipse cx="406.9" cy="1287.0" rx="2.2" ry="3" fill="#1a3aa0"/>
<line x1="434.6" y1="910.0" x2="434.6" y2="929.0" stroke="#50e890" stroke-width="2.6"/>
<ellipse cx="434.6" cy="931.0" rx="3.8" ry="3.2" fill="#28d0d0"/>
<ellipse cx="434.6" cy="923.5" rx="2.2" ry="3" fill="#1a3aa0"/>
<line x1="434.6" y1="1283.0" x2="434.6" y2="1299.0" stroke="#28d8c0" stroke-width="2.6"/>
<ellipse cx="434.6" cy="1279.5" rx="3.8" ry="3.2" fill="#28d0d0"/>
<ellipse cx="434.6" cy="1295.0" rx="2.2" ry="3" fill="#1a3aa0"/>
<line x1="448.1" y1="910.0" x2="448.1" y2="929.0" stroke="#50e890" stroke-width="2.6"/>
<ellipse cx="448.1" cy="931.0" rx="3.8" ry="3.2" fill="#28d0d0"/>
<ellipse cx="448.1" cy="915.5" rx="2.2" ry="3" fill="#1a3aa0"/>
<line x1="448.1" y1="1283.0" x2="448.1" y2="1299.0" stroke="#30e0b0" stroke-width="2.6"/>
<ellipse cx="448.1" cy="1279.5" rx="3.8" ry="3.2" fill="#28d0d0"/>
<ellipse cx="448.1" cy="1287.0" rx="2.2" ry="3" fill="#1a3aa0"/>
<line x1="475.8" y1="910.0" x2="475.8" y2="929.0" stroke="#28d8c0" stroke-width="2.6"/>
<ellipse cx="475.8" cy="931.0" rx="3.8" ry="3.2" fill="#28d0d0"/>
<ellipse cx="475.8" cy="923.5" rx="2.2" ry="3" fill="#1a3aa0"/>
<line x1="475.8" y1="1283.0" x2="475.8" y2="1299.0" stroke="#28d8c0" stroke-width="2.6"/>
<ellipse cx="475.8" cy="1279.5" rx="3.8" ry="3.2" fill="#28d0d0"/>
<ellipse cx="475.8" cy="1295.0" rx="2.2" ry="3" fill="#1a3aa0"/>
<line x1="489.3" y1="910.0" x2="489.3" y2="929.0" stroke="#40e8a0" stroke-width="2.6"/>
<ellipse cx="489.3" cy="931.0" rx="3.8" ry="3.2" fill="#28d0d0"/>
<ellipse cx="489.3" cy="915.5" rx="2.2" ry="3" fill="#1a3aa0"/>
<line x1="489.3" y1="1283.0" x2="489.3" y2="1299.0" stroke="#28d8c0" stroke-width="2.6"/>
<ellipse cx="489.3" cy="1279.5" rx="3.8" ry="3.2" fill="#28d0d0"/>
<ellipse cx="489.3" cy="1287.0" rx="2.2" ry="3" fill="#1a3aa0"/>
<line x1="517.0" y1="910.0" x2="517.0" y2="929.0" stroke="#30e0b0" stroke-width="2.6"/>
<ellipse cx="517.0" cy="931.0" rx="3.8" ry="3.2" fill="#28d0d0"/>
<ellipse cx="517.0" cy="923.5" rx="2.2" ry="3" fill="#1a3aa0"/>
<line x1="517.0" y1="1283.0" x2="517.0" y2="1299.0" stroke="#30e0b0" stroke-width="2.6"/>
<ellipse cx="517.0" cy="1279.5" rx="3.8" ry="3.2" fill="#28d0d0"/>
<ellipse cx="517.0" cy="1295.0" rx="2.2" ry="3" fill="#1a3aa0"/>
<line x1="530.5" y1="910.0" x2="530.5" y2="929.0" stroke="#30e0b0" stroke-width="2.6"/>
<ellipse cx="530.5" cy="931.0" rx="3.8" ry="3.2" fill="#28d0d0"/>
<ellipse cx="530.5" cy="915.5" rx="2.2" ry="3" fill="#1a3aa0"/>
<line x1="530.5" y1="1283.0" x2="530.5" y2="1299.0" stroke="#50e890" stroke-width="2.6"/>
<ellipse cx="530.5" cy="1279.5" rx="3.8" ry="3.2" fill="#28d0d0"/>
<ellipse cx="530.5" cy="1287.0" rx="2.2" ry="3" fill="#1a3aa0"/>
<line x1="558.2" y1="910.0" x2="558.2" y2="929.0" stroke="#30e0b0" stroke-width="2.6"/>
<ellipse cx="558.2" cy="931.0" rx="3.8" ry="3.2" fill="#28d0d0"/>
<ellipse cx="558.2" cy="923.5" rx="2.2" ry="3" fill="#1a3aa0"/>
<line x1="558.2" y1="1283.0" x2="558.2" y2="1299.0" stroke="#28d8c0" stroke-width="2.6"/>
<ellipse cx="558.2" cy="1279.5" rx="3.8" ry="3.2" fill="#28d0d0"/>
<ellipse cx="558.2" cy="1295.0" rx="2.2" ry="3" fill="#1a3aa0"/>
<line x1="571.7" y1="910.0" x2="571.7" y2="929.0" stroke="#50e890" stroke-width="2.6"/>
<ellipse cx="571.7" cy="931.0" rx="3.8" ry="3.2" fill="#28d0d0"/>
<ellipse cx="571.7" cy="915.5" rx="2.2" ry="3" fill="#1a3aa0"/>
<line x1="571.7" y1="1283.0" x2="571.7" y2="1299.0" stroke="#30e0b0" stroke-width="2.6"/>
<ellipse cx="571.7" cy="1279.5" rx="3.8" ry="3.2" fill="#28d0d0"/>
<ellipse cx="571.7" cy="1287.0" rx="2.2" ry="3" fill="#1a3aa0"/>
<line x1="599.4" y1="910.0" x2="599.4" y2="929.0" stroke="#30e0b0" stroke-width="2.6"/>
<ellipse cx="599.4" cy="931.0" rx="3.8" ry="3.2" fill="#28d0d0"/>
<ellipse cx="599.4" cy="923.5" rx="2.2" ry="3" fill="#1a3aa0"/>
<line x1="599.4" y1="1283.0" x2="599.4" y2="1299.0" stroke="#30e0b0" stroke-width="2.6"/>
<ellipse cx="599.4" cy="1279.5" rx="3.8" ry="3.2" fill="#28d0d0"/>
<ellipse cx="599.4" cy="1295.0" rx="2.2" ry="3" fill="#1a3aa0"/>
<line x1="612.9" y1="910.0" x2="612.9" y2="929.0" stroke="#40e8a0" stroke-width="2.6"/>
<ellipse cx="612.9" cy="931.0" rx="3.8" ry="3.2" fill="#28d0d0"/>
<ellipse cx="612.9" cy="915.5" rx="2.2" ry="3" fill="#1a3aa0"/>
<line x1="612.9" y1="1283.0" x2="612.9" y2="1299.0" stroke="#40e8a0" stroke-width="2.6"/>
<ellipse cx="612.9" cy="1279.5" rx="3.8" ry="3.2" fill="#28d0d0"/>
<ellipse cx="612.9" cy="1287.0" rx="2.2" ry="3" fill="#1a3aa0"/>
<line x1="640.6" y1="910.0" x2="640.6" y2="929.0" stroke="#30e0b0" stroke-width="2.6"/>
<ellipse cx="640.6" cy="931.0" rx="3.8" ry="3.2" fill="#28d0d0"/>
<ellipse cx="640.6" cy="923.5" rx="2.2" ry="3" fill="#1a3aa0"/>
<line x1="640.6" y1="1283.0" x2="640.6" y2="1299.0" stroke="#50e890" stroke-width="2.6"/>
<ellipse cx="640.6" cy="1279.5" rx="3.8" ry="3.2" fill="#28d0d0"/>
<ellipse cx="640.6" cy="1295.0" rx="2.2" ry="3" fill="#1a3aa0"/>
<line x1="654.1" y1="910.0" x2="654.1" y2="929.0" stroke="#50e890" stroke-width="2.6"/>
<ellipse cx="654.1" cy="931.0" rx="3.8" ry="3.2" fill="#28d0d0"/>
<ellipse cx="654.1" cy="915.5" rx="2.2" ry="3" fill="#1a3aa0"/>
<line x1="654.1" y1="1283.0" x2="654.1" y2="1299.0" stroke="#50e890" stroke-width="2.6"/>
<ellipse cx="654.1" cy="1279.5" rx="3.8" ry="3.2" fill="#28d0d0"/>
<ellipse cx="654.1" cy="1287.0" rx="2.2" ry="3" fill="#1a3aa0"/>
<line x1="681.8" y1="910.0" x2="681.8" y2="929.0" stroke="#50e890" stroke-width="2.6"/>
<ellipse cx="681.8" cy="931.0" rx="3.8" ry="3.2" fill="#28d0d0"/>
<ellipse cx="681.8" cy="923.5" rx="2.2" ry="3" fill="#1a3aa0"/>
<line x1="681.8" y1="1283.0" x2="681.8" y2="1299.0" stroke="#30e0b0" stroke-width="2.6"/>
<ellipse cx="681.8" cy="1279.5" rx="3.8" ry="3.2" fill="#28d0d0"/>
<ellipse cx="681.8" cy="1295.0" rx="2.2" ry="3" fill="#1a3aa0"/>
<line x1="695.3" y1="910.0" x2="695.3" y2="929.0" stroke="#40e8a0" stroke-width="2.6"/>
<ellipse cx="695.3" cy="931.0" rx="3.8" ry="3.2" fill="#28d0d0"/>
<ellipse cx="695.3" cy="915.5" rx="2.2" ry="3" fill="#1a3aa0"/>
<line x1="695.3" y1="1283.0" x2="695.3" y2="1299.0" stroke="#28d8c0" stroke-width="2.6"/>
<ellipse cx="695.3" cy="1279.5" rx="3.8" ry="3.2" fill="#28d0d0"/>
<ellipse cx="695.3" cy="1287.0" rx="2.2" ry="3" fill="#1a3aa0"/>
<line x1="723.0" y1="910.0" x2="723.0" y2="929.0" stroke="#28d8c0" stroke-width="2.6"/>
<ellipse cx="723.0" cy="931.0" rx="3.8" ry="3.2" fill="#28d0d0"/>
<ellipse cx="723.0" cy="923.5" rx="2.2" ry="3" fill="#1a3aa0"/>
<line x1="723.0" y1="1283.0" x2="723.0" y2="1299.0" stroke="#30e0b0" stroke-width="2.6"/>
<ellipse cx="723.0" cy="1279.5" rx="3.8" ry="3.2" fill="#28d0d0"/>
<ellipse cx="723.0" cy="1295.0" rx="2.2" ry="3" fill="#1a3aa0"/>
<line x1="736.5" y1="910.0" x2="736.5" y2="929.0" stroke="#28d8c0" stroke-width="2.6"/>
<ellipse cx="736.5" cy="931.0" rx="3.8" ry="3.2" fill="#28d0d0"/>
<ellipse cx="736.5" cy="915.5" rx="2.2" ry="3" fill="#1a3aa0"/>
<line x1="736.5" y1="1283.0" x2="736.5" y2="1299.0" stroke="#28d8c0" stroke-width="2.6"/>
<ellipse cx="736.5" cy="1279.5" rx="3.8" ry="3.2" fill="#28d0d0"/>
<ellipse cx="736.5" cy="1287.0" rx="2.2" ry="3" fill="#1a3aa0"/>
<rect x="137.0" y="991.9" width="133.7" height="224.4" fill="#b9b9bf"/>
<rect x="140.0" y="993.4" width="127.7" height="219.4" fill="#e6dc9e" stroke="#111" stroke-width="1.6"/>
<rect x="162.0" y="1017.4" width="79.7" height="171.4" fill="#bcbcc2" stroke="#111" stroke-width="1.2"/>
<rect x="137.0" y="1075.4" width="26.0" height="53.0" fill="#bcbcc2"/>
<path d="M140.0,1075.4 H162.0 M140.0,1128.4 H162.0" stroke="#111" stroke-width="1.6"/>
<line x1="162.0" y1="1076.4" x2="162.0" y2="1127.4" stroke="#bcbcc2" stroke-width="2"/>
<path d="M140.0,1015.4 H162.0 M241.7,1015.4 H267.7" stroke="#111" stroke-width="1.4"/>
<path d="M140.0,1186.8 H162.0 M241.7,1186.8 H267.7" stroke="#111" stroke-width="1.4"/>
<polygon points="155.0,997.3 147.5,1000.0 146.5,997.3 140.5,1004.2 149.5,1005.7 148.5,1003.0 156.1,1000.3" fill="#f0e000"/>
<polygon points="156.0,1198.0 148.0,1198.0 148.0,1195.1 140.0,1199.6 148.0,1204.1 148.0,1201.2 156.0,1201.2" fill="#d8e800"/>
<polygon points="150.9,1000.5 158.5,1003.3 157.5,1006.0 166.5,1004.5 160.5,997.5 159.5,1000.3 152.0,997.5" fill="#a0e800"/>
<polygon points="166.7,1205.5 159.8,1201.5 161.2,1199.0 152.1,1198.9 156.8,1206.8 158.2,1204.3 165.1,1208.3" fill="#f0f000"/>
<polygon points="163.9,1009.8 170.8,1005.8 172.2,1008.4 176.9,1000.5 167.8,1000.6 169.2,1003.1 162.3,1007.1" fill="#c8f000"/>
<polygon points="178.0,1201.1 170.0,1201.1 170.0,1198.2 162.0,1202.7 170.0,1207.2 170.0,1204.3 178.0,1204.3" fill="#c8f000"/>
<polygon points="188.7,1006.5 181.8,1002.5 183.2,1000.0 174.1,999.9 178.8,1007.8 180.2,1005.3 187.1,1009.3" fill="#d8e800"/>
<polygon points="173.3,1197.8 180.2,1201.8 178.8,1204.3 187.9,1204.4 183.2,1196.5 181.8,1199.0 174.9,1195.0" fill="#d8e800"/>
<polygon points="199.0,998.4 191.5,1001.2 190.5,998.4 184.5,1005.4 193.5,1006.9 192.5,1004.2 200.1,1001.4" fill="#f0e000"/>
<polygon points="185.9,1204.4 192.8,1200.4 194.2,1202.9 198.9,1195.1 189.8,1195.2 191.2,1197.7 184.3,1201.7" fill="#60e000"/>
<polygon points="195.0,1005.6 203.0,1005.6 203.0,1008.5 211.0,1004.0 203.0,999.5 203.0,1002.4 195.0,1002.4" fill="#20e0c0"/>
<polygon points="210.0,1199.5 202.5,1202.3 201.5,1199.6 195.5,1206.5 204.5,1208.0 203.5,1205.3 211.1,1202.5" fill="#f0e000"/>
<polygon points="221.7,1004.5 214.8,1000.5 216.2,997.9 207.1,997.8 211.8,1005.7 213.2,1003.2 220.1,1007.2" fill="#60e000"/>
<polygon points="220.1,1193.5 213.2,1197.5 211.8,1195.0 207.1,1202.9 216.2,1202.8 214.8,1200.3 221.7,1196.3" fill="#20e0c0"/>
<polygon points="218.9,1010.5 225.8,1006.5 227.2,1009.0 231.9,1001.1 222.8,1001.2 224.2,1003.7 217.3,1007.7" fill="#f0f000"/>
<polygon points="218.9,1209.2 225.8,1205.2 227.2,1207.7 231.9,1199.8 222.8,1199.9 224.2,1202.4 217.3,1206.4" fill="#c8f000"/>
<polygon points="229.9,1007.9 236.8,1003.9 238.2,1006.4 242.9,998.5 233.8,998.6 235.2,1001.1 228.3,1005.1" fill="#ffd000"/>
<polygon points="243.7,1206.9 236.8,1202.9 238.2,1200.4 229.1,1200.3 233.8,1208.1 235.2,1205.6 242.1,1209.6" fill="#60e000"/>
<polygon points="254.7,1005.0 247.8,1001.0 249.2,998.5 240.1,998.4 244.8,1006.2 246.2,1003.7 253.1,1007.7" fill="#c8f000"/>
<polygon points="255.0,1202.5 247.0,1202.5 247.0,1199.6 239.0,1204.1 247.0,1208.6 247.0,1205.7 255.0,1205.7" fill="#c8f000"/>
<polygon points="266.0,1000.1 258.0,1000.1 258.0,997.2 250.0,1001.7 258.0,1006.2 258.0,1003.3 266.0,1003.3" fill="#d8e800"/>
<polygon points="250.3,1199.3 257.2,1203.3 255.8,1205.8 264.9,1205.9 260.2,1198.0 258.8,1200.5 251.9,1196.5" fill="#60e000"/>
<polygon points="198.3,1188.8 193.9,1188.6 193.9,1187.2 190.2,1189.3 193.7,1191.7 193.8,1190.4 198.2,1190.6" fill="#3070f0"/>
<polygon points="253.9,1208.4 257.0,1205.3 258.0,1206.2 258.9,1202.1 254.8,1203.1 255.7,1204.0 252.6,1207.2" fill="#2a5ae8"/>
<polygon points="250.8,1041.2 255.1,1040.8 255.3,1042.1 258.6,1039.5 254.8,1037.6 254.9,1039.0 250.6,1039.4" fill="#1840c8"/>
<polygon points="152.4,1054.9 148.1,1055.8 147.8,1054.4 144.7,1057.3 148.7,1058.9 148.5,1057.5 152.8,1056.7" fill="#3070f0"/>
<polygon points="158.3,1026.3 154.1,1025.0 154.5,1023.7 150.4,1024.7 153.1,1028.0 153.6,1026.7 157.8,1028.0" fill="#1840c8"/>
<polygon points="143.4,998.8 147.1,1001.2 146.4,1002.3 150.6,1002.4 148.8,998.5 148.1,999.7 144.4,997.3" fill="#1840c8"/>
<polygon points="262.1,997.3 259.2,1000.6 258.2,999.8 257.5,1004.0 261.6,1002.7 260.6,1001.8 263.5,998.5" fill="#2a5ae8"/>
<polygon points="149.3,1066.4 152.1,1063.1 153.2,1063.9 153.8,1059.8 149.7,1061.0 150.8,1061.9 147.9,1065.2" fill="#2050e0"/>
<polygon points="232.1,1184.4 231.8,1188.8 230.4,1188.7 232.4,1192.5 234.9,1189.1 233.6,1189.0 233.9,1184.6" fill="#3070f0"/>
<polygon points="242.7,1194.3 240.0,1190.8 241.1,1190.0 237.2,1188.5 237.5,1192.7 238.6,1191.9 241.2,1195.4" fill="#2a5ae8"/>
<polygon points="256.5,1183.5 252.7,1181.3 253.4,1180.1 249.2,1180.3 251.2,1184.0 251.8,1182.9 255.7,1185.1" fill="#2050e0"/>
<polygon points="250.3,1115.2 247.2,1118.3 246.2,1117.3 245.3,1121.5 249.4,1120.5 248.4,1119.6 251.5,1116.4" fill="#2a5ae8"/>
<polygon points="185.9,1001.6 189.9,999.7 190.5,1000.9 192.7,997.3 188.5,996.9 189.1,998.1 185.2,1000.0" fill="#2050e0"/>
<polygon points="217.3,1206.3 220.5,1209.3 219.6,1210.3 223.7,1211.1 222.6,1207.0 221.7,1208.0 218.5,1205.0" fill="#1840c8"/>
<polygon points="244.1,1010.3 244.1,1014.7 242.8,1014.7 245.0,1018.3 247.3,1014.7 245.9,1014.7 245.9,1010.3" fill="#2050e0"/>
<polygon points="176.9,1016.6 181.3,1016.0 181.5,1017.3 184.7,1014.6 180.8,1012.8 181.0,1014.2 176.7,1014.8" fill="#2050e0"/>
<polygon points="251.1,1052.2 255.5,1051.9 255.6,1053.2 259.0,1050.7 255.3,1048.7 255.4,1050.1 251.0,1050.4" fill="#1840c8"/>
<polygon points="188.7,1194.1 184.3,1194.0 184.3,1192.7 180.7,1194.9 184.3,1197.2 184.3,1195.8 188.7,1195.9" fill="#3070f0"/>
<polygon points="237.6,1189.4 240.8,1192.4 239.8,1193.4 244.0,1194.2 242.9,1190.1 242.0,1191.1 238.8,1188.1" fill="#2a5ae8"/>
<polygon points="169.6,1197.0 170.7,1192.7 172.0,1193.1 170.7,1189.0 167.6,1192.0 169.0,1192.3 167.9,1196.5" fill="#3070f0"/>
<polygon points="242.2,1147.8 246.4,1149.2 246.0,1150.4 250.1,1149.4 247.4,1146.2 246.9,1147.4 242.8,1146.1" fill="#1840c8"/>
<polygon points="247.1,1020.3 242.8,1019.5 243.0,1018.2 239.1,1019.8 242.2,1022.6 242.5,1021.3 246.8,1022.1" fill="#3070f0"/>
<polygon points="248.0,1076.6 243.6,1077.2 243.4,1075.9 240.2,1078.5 244.0,1080.3 243.8,1079.0 248.2,1078.4" fill="#1840c8"/>
<polygon points="246.4,1052.5 243.0,1055.3 242.1,1054.2 240.7,1058.3 245.0,1057.8 244.1,1056.7 247.5,1054.0" fill="#1840c8"/>
<polygon points="237.4,1004.1 240.3,1000.8 241.3,1001.7 242.0,997.5 237.9,998.7 238.9,999.6 236.0,1002.9" fill="#2a5ae8"/>
<polygon points="237.6,1209.7 240.9,1206.8 241.8,1207.8 243.0,1203.7 238.8,1204.4 239.7,1205.4 236.4,1208.4" fill="#2050e0"/>
<polygon points="242.0,1196.9 240.3,1200.9 239.0,1200.4 239.7,1204.6 243.2,1202.2 241.9,1201.7 243.7,1197.6" fill="#3070f0"/>
<polygon points="243.3,1046.9 242.3,1051.2 241.0,1050.9 242.4,1054.9 245.4,1051.9 244.0,1051.6 245.0,1047.3" fill="#2a5ae8"/>
<polygon points="208.4,1008.2 209.0,1003.9 210.4,1004.1 208.7,1000.2 205.9,1003.4 207.3,1003.6 206.6,1007.9" fill="#1840c8"/>
<polygon points="212.7,1197.5 208.3,1197.6 208.3,1196.2 204.7,1198.5 208.3,1200.7 208.3,1199.4 212.7,1199.3" fill="#3070f0"/>
<polygon points="249.3,1014.2 253.3,1016.0 252.7,1017.2 256.9,1016.7 254.6,1013.1 254.0,1014.4 250.0,1012.5" fill="#2a5ae8"/>
<polygon points="222.6,1192.7 219.5,1189.7 220.4,1188.7 216.3,1187.8 217.3,1191.9 218.2,1191.0 221.4,1194.0" fill="#1840c8"/>
<polygon points="242.5,1129.2 241.6,1133.5 240.3,1133.3 241.8,1137.2 244.7,1134.2 243.4,1133.9 244.3,1129.6" fill="#3070f0"/>
<polygon points="149.6,1062.8 154.0,1063.5 153.8,1064.8 157.6,1063.1 154.4,1060.4 154.2,1061.7 149.9,1061.1" fill="#1840c8"/>
<polygon points="151.5,1070.5 147.6,1068.4 148.2,1067.2 144.0,1067.5 146.1,1071.2 146.7,1070.0 150.6,1072.1" fill="#1840c8"/>
<polygon points="200.0,999.1 201.6,1003.2 200.4,1003.7 203.8,1006.2 204.6,1002.0 203.3,1002.5 201.7,998.4" fill="#2050e0"/>
<polygon points="198.9,1002.2 194.6,1003.1 194.3,1001.8 191.3,1004.7 195.3,1006.2 195.0,1004.9 199.3,1003.9" fill="#3070f0"/>
<polygon points="196.5,1208.2 200.1,1210.7 199.3,1211.8 203.5,1212.1 201.9,1208.2 201.1,1209.3 197.5,1206.7" fill="#2a5ae8"/>
<polygon points="254.0,1101.1 258.2,1102.5 257.8,1103.8 261.9,1102.8 259.2,1099.5 258.8,1100.8 254.6,1099.4" fill="#2050e0"/>
<circle cx="144.0" cy="994.2" r="3.6" fill="#30d8d8"/>
<circle cx="143.3" cy="1213.1" r="3.6" fill="#30d8d8"/>
<circle cx="157.4" cy="994.1" r="3.6" fill="#30d8d8"/>
<circle cx="156.3" cy="1212.4" r="3.6" fill="#30d8d8"/>
<circle cx="166.9" cy="993.5" r="3.6" fill="#30d8d8"/>
<circle cx="167.3" cy="1212.8" r="3.6" fill="#30d8d8"/>
<circle cx="179.7" cy="992.6" r="3.6" fill="#30d8d8"/>
<circle cx="178.5" cy="1212.6" r="3.6" fill="#30d8d8"/>
<circle cx="192.1" cy="992.5" r="3.6" fill="#30d8d8"/>
<circle cx="193.3" cy="1212.9" r="3.6" fill="#30d8d8"/>
<circle cx="205.5" cy="992.6" r="3.6" fill="#30d8d8"/>
<circle cx="202.8" cy="1212.1" r="3.6" fill="#30d8d8"/>
<circle cx="217.3" cy="993.3" r="3.6" fill="#30d8d8"/>
<circle cx="217.3" cy="1213.4" r="3.6" fill="#30d8d8"/>
<circle cx="227.7" cy="992.9" r="3.6" fill="#30d8d8"/>
<circle cx="228.0" cy="1212.5" r="3.6" fill="#30d8d8"/>
<circle cx="241.2" cy="994.3" r="3.6" fill="#30d8d8"/>
<circle cx="241.3" cy="1212.8" r="3.6" fill="#30d8d8"/>
<circle cx="250.8" cy="993.2" r="3.6" fill="#30d8d8"/>
<circle cx="250.6" cy="1212.3" r="3.6" fill="#30d8d8"/>
<circle cx="264.6" cy="994.4" r="3.6" fill="#30d8d8"/>
<circle cx="262.6" cy="1212.1" r="3.6" fill="#30d8d8"/>
<circle cx="140.0" cy="997.0" r="3.2" fill="#30d8d8"/>
<circle cx="267.7" cy="998.1" r="3.2" fill="#30d8d8"/>
<circle cx="140.0" cy="1011.9" r="3.2" fill="#30d8d8"/>
<circle cx="267.7" cy="1010.0" r="3.2" fill="#30d8d8"/>
<circle cx="140.0" cy="1023.0" r="3.2" fill="#30d8d8"/>
<circle cx="267.7" cy="1023.0" r="3.2" fill="#30d8d8"/>
<circle cx="140.0" cy="1035.3" r="3.2" fill="#30d8d8"/>
<circle cx="267.7" cy="1036.4" r="3.2" fill="#30d8d8"/>
<circle cx="140.0" cy="1047.5" r="3.2" fill="#30d8d8"/>
<circle cx="267.7" cy="1047.9" r="3.2" fill="#30d8d8"/>
<circle cx="140.0" cy="1059.8" r="3.2" fill="#30d8d8"/>
<circle cx="267.7" cy="1060.5" r="3.2" fill="#30d8d8"/>
<circle cx="140.0" cy="1069.1" r="3.2" fill="#30d8d8"/>
<circle cx="267.7" cy="1071.5" r="3.2" fill="#30d8d8"/>
<circle cx="267.7" cy="1084.3" r="3.2" fill="#30d8d8"/>
<circle cx="267.7" cy="1095.5" r="3.2" fill="#30d8d8"/>
<circle cx="267.7" cy="1107.2" r="3.2" fill="#30d8d8"/>
<circle cx="267.7" cy="1120.5" r="3.2" fill="#30d8d8"/>
<circle cx="267.7" cy="1131.1" r="3.2" fill="#30d8d8"/>
<circle cx="140.0" cy="1141.9" r="3.2" fill="#30d8d8"/>
<circle cx="267.7" cy="1141.9" r="3.2" fill="#30d8d8"/>
<circle cx="140.0" cy="1155.2" r="3.2" fill="#30d8d8"/>
<circle cx="267.7" cy="1155.3" r="3.2" fill="#30d8d8"/>
<circle cx="140.0" cy="1165.5" r="3.2" fill="#30d8d8"/>
<circle cx="267.7" cy="1168.7" r="3.2" fill="#30d8d8"/>
<circle cx="140.0" cy="1179.5" r="3.2" fill="#30d8d8"/>
<circle cx="267.7" cy="1178.4" r="3.2" fill="#30d8d8"/>
<circle cx="140.0" cy="1189.7" r="3.2" fill="#30d8d8"/>
<circle cx="267.7" cy="1191.4" r="3.2" fill="#30d8d8"/>
<circle cx="140.0" cy="1204.6" r="3.2" fill="#30d8d8"/>
<circle cx="267.7" cy="1201.8" r="3.2" fill="#30d8d8"/>
<polygon points="147.2,1016.5 147.2,1025.5 144.0,1025.5 149.0,1033.5 154.0,1025.5 150.8,1025.5 150.8,1016.5" fill="#f0e000"/>
<polygon points="147.2,1028.5 147.2,1037.5 144.0,1037.5 149.0,1045.5 154.0,1037.5 150.8,1037.5 150.8,1028.5" fill="#e0f000"/>
<polygon points="147.2,1040.5 147.2,1049.5 144.0,1049.5 149.0,1057.5 154.0,1049.5 150.8,1049.5 150.8,1040.5" fill="#f0e000"/>
<polygon points="145.1,1053.3 147.4,1061.9 144.3,1062.8 151.2,1069.2 154.0,1060.2 150.9,1061.0 148.5,1052.3" fill="#c8f000"/>
<polygon points="147.2,1127.5 147.2,1136.5 144.0,1136.5 149.0,1144.5 154.0,1136.5 150.8,1136.5 150.8,1127.5" fill="#c8f000"/>
<polygon points="145.1,1140.3 147.4,1148.9 144.3,1149.8 151.2,1156.2 154.0,1147.2 150.9,1148.0 148.5,1139.3" fill="#e0f000"/>
<polygon points="147.2,1151.5 147.2,1160.5 144.0,1160.5 149.0,1168.5 154.0,1160.5 150.8,1160.5 150.8,1151.5" fill="#c8f000"/>
<polygon points="149.5,1163.3 147.1,1172.0 144.0,1171.2 146.8,1180.2 153.7,1173.8 150.6,1172.9 152.9,1164.3" fill="#f0e000"/>
<polygon points="147.2,1175.5 147.2,1184.5 144.0,1184.5 149.0,1192.5 154.0,1184.5 150.8,1184.5 150.8,1175.5" fill="#e0f000"/>
<polygon points="180.5,1017.1 170.5,1017.1 170.5,1012.4 159.5,1019.4 170.5,1026.4 170.5,1021.7 180.5,1021.7" fill="#ff2a00"/>
<polygon points="193.5,1017.1 183.5,1017.1 183.5,1012.4 172.5,1019.4 183.5,1026.4 183.5,1021.7 193.5,1021.7" fill="#ff2a00"/>
<polygon points="206.5,1017.1 196.5,1017.1 196.5,1012.4 185.5,1019.4 196.5,1026.4 196.5,1021.7 206.5,1021.7" fill="#f01a0a"/>
<polygon points="219.5,1017.1 209.5,1017.1 209.5,1012.4 198.5,1019.4 209.5,1026.4 209.5,1021.7 219.5,1021.7" fill="#ff2a00"/>
<polygon points="232.5,1017.1 222.5,1017.1 222.5,1012.4 211.5,1019.4 222.5,1026.4 222.5,1021.7 232.5,1021.7" fill="#e8150d"/>
<polygon points="245.5,1017.1 235.5,1017.1 235.5,1012.4 224.5,1019.4 235.5,1026.4 235.5,1021.7 245.5,1021.7" fill="#f01a0a"/>
<polygon points="159.5,1190.1 169.5,1190.1 169.5,1194.8 180.5,1187.8 169.5,1180.8 169.5,1185.5 159.5,1185.5" fill="#f02010"/>
<polygon points="172.5,1190.1 182.5,1190.1 182.5,1194.8 193.5,1187.8 182.5,1180.8 182.5,1185.5 172.5,1185.5" fill="#f01a0a"/>
<polygon points="185.5,1190.1 195.5,1190.1 195.5,1194.8 206.5,1187.8 195.5,1180.8 195.5,1185.5 185.5,1185.5" fill="#f01a0a"/>
<polygon points="198.5,1190.1 208.5,1190.1 208.5,1194.8 219.5,1187.8 208.5,1180.8 208.5,1185.5 198.5,1185.5" fill="#f01a0a"/>
<polygon points="211.5,1190.1 221.5,1190.1 221.5,1194.8 232.5,1187.8 221.5,1180.8 221.5,1185.5 211.5,1185.5" fill="#f02010"/>
<polygon points="224.5,1190.1 234.5,1190.1 234.5,1194.8 245.5,1187.8 234.5,1180.8 234.5,1185.5 224.5,1185.5" fill="#e8150d"/>
<polygon points="245.0,1035.5 245.0,1025.5 249.7,1025.5 242.7,1014.5 235.7,1025.5 240.4,1025.5 240.4,1035.5" fill="#f02010"/>
<polygon points="245.0,1047.5 245.0,1037.5 249.7,1037.5 242.7,1026.5 235.7,1037.5 240.4,1037.5 240.4,1047.5" fill="#ff2a00"/>
<polygon points="245.0,1059.5 245.0,1049.5 249.7,1049.5 242.7,1038.5 235.7,1049.5 240.4,1049.5 240.4,1059.5" fill="#e8150d"/>
<polygon points="245.0,1071.5 245.0,1061.5 249.7,1061.5 242.7,1050.5 235.7,1061.5 240.4,1061.5 240.4,1071.5" fill="#f02010"/>
<polygon points="245.0,1083.5 245.0,1073.5 249.7,1073.5 242.7,1062.5 235.7,1073.5 240.4,1073.5 240.4,1083.5" fill="#ff2a00"/>
<polygon points="245.0,1095.5 245.0,1085.5 249.7,1085.5 242.7,1074.5 235.7,1085.5 240.4,1085.5 240.4,1095.5" fill="#ff2a00"/>
<polygon points="245.0,1107.5 245.0,1097.5 249.7,1097.5 242.7,1086.5 235.7,1097.5 240.4,1097.5 240.4,1107.5" fill="#f01a0a"/>
<polygon points="245.0,1119.5 245.0,1109.5 249.7,1109.5 242.7,1098.5 235.7,1109.5 240.4,1109.5 240.4,1119.5" fill="#e8150d"/>
<polygon points="245.0,1131.5 245.0,1121.5 249.7,1121.5 242.7,1110.5 235.7,1121.5 240.4,1121.5 240.4,1131.5" fill="#ffc000"/>
<polygon points="245.0,1143.5 245.0,1133.5 249.7,1133.5 242.7,1122.5 235.7,1133.5 240.4,1133.5 240.4,1143.5" fill="#f01a0a"/>
<polygon points="245.0,1155.5 245.0,1145.5 249.7,1145.5 242.7,1134.5 235.7,1145.5 240.4,1145.5 240.4,1155.5" fill="#ff2a00"/>
<polygon points="245.0,1167.5 245.0,1157.5 249.7,1157.5 242.7,1146.5 235.7,1157.5 240.4,1157.5 240.4,1167.5" fill="#f02010"/>
<polygon points="245.0,1179.5 245.0,1169.5 249.7,1169.5 242.7,1158.5 235.7,1169.5 240.4,1169.5 240.4,1179.5" fill="#e8150d"/>
<polygon points="245.0,1191.5 245.0,1181.5 249.7,1181.5 242.7,1170.5 235.7,1181.5 240.4,1181.5 240.4,1191.5" fill="#e8150d"/>
<polygon points="160.7,1014.5 160.7,1024.5 156.0,1024.5 163.0,1035.5 170.0,1024.5 165.3,1024.5 165.3,1014.5" fill="#ff2a00"/>
<polygon points="160.7,1026.5 160.7,1036.5 156.0,1036.5 163.0,1047.5 170.0,1036.5 165.3,1036.5 165.3,1026.5" fill="#f02010"/>
<polygon points="160.7,1038.5 160.7,1048.5 156.0,1048.5 163.0,1059.5 170.0,1048.5 165.3,1048.5 165.3,1038.5" fill="#f02010"/>
<polygon points="160.7,1050.5 160.7,1060.5 156.0,1060.5 163.0,1071.5 170.0,1060.5 165.3,1060.5 165.3,1050.5" fill="#f02010"/>
<polygon points="160.7,1125.5 160.7,1135.5 156.0,1135.5 163.0,1146.5 170.0,1135.5 165.3,1135.5 165.3,1125.5" fill="#ff2a00"/>
<polygon points="160.7,1137.5 160.7,1147.5 156.0,1147.5 163.0,1158.5 170.0,1147.5 165.3,1147.5 165.3,1137.5" fill="#f02010"/>
<polygon points="160.7,1149.5 160.7,1159.5 156.0,1159.5 163.0,1170.5 170.0,1159.5 165.3,1159.5 165.3,1149.5" fill="#e8150d"/>
<polygon points="160.7,1161.5 160.7,1171.5 156.0,1171.5 163.0,1182.5 170.0,1171.5 165.3,1171.5 165.3,1161.5" fill="#ff2a00"/>
<polygon points="160.7,1173.5 160.7,1183.5 156.0,1183.5 163.0,1194.5 170.0,1183.5 165.3,1183.5 165.3,1173.5" fill="#f01a0a"/>
<rect x="570.7" y="991.8" width="134.3" height="224.4" fill="#b9b9bf"/>
<rect x="573.7" y="993.3" width="128.3" height="219.4" fill="#e6dc9e" stroke="#111" stroke-width="1.6"/>
<rect x="599.7" y="1017.3" width="80.3" height="171.4" fill="#bcbcc2" stroke="#111" stroke-width="1.2"/>
<rect x="679.0" y="1075.3" width="26.0" height="53.0" fill="#bcbcc2"/>
<path d="M680.0,1075.3 H702.0 M680.0,1128.3 H702.0" stroke="#111" stroke-width="1.6"/>
<line x1="680.0" y1="1076.3" x2="680.0" y2="1127.3" stroke="#bcbcc2" stroke-width="2"/>
<path d="M573.7,1015.3 H599.7 M680.0,1015.3 H702.0" stroke="#111" stroke-width="1.4"/>
<path d="M573.7,1186.7 H599.7 M680.0,1186.7 H702.0" stroke="#111" stroke-width="1.4"/>
<polygon points="573.0,1006.7 581.0,1006.7 581.0,1009.6 589.0,1005.1 581.0,1000.6 581.0,1003.5 573.0,1003.5" fill="#60e000"/>
<polygon points="572.9,1198.6 580.5,1201.3 579.5,1204.0 588.5,1202.5 582.5,1195.6 581.5,1198.3 574.0,1195.5" fill="#20e0c0"/>
<polygon points="599.0,1001.5 591.5,1004.2 590.5,1001.5 584.5,1008.5 593.5,1010.0 592.5,1007.2 600.1,1004.5" fill="#60e000"/>
<polygon points="600.0,1200.7 592.0,1200.7 592.0,1197.8 584.0,1202.3 592.0,1206.8 592.0,1203.9 600.0,1203.9" fill="#d8e800"/>
<polygon points="611.0,1001.6 603.0,1001.6 603.0,998.7 595.0,1003.2 603.0,1007.7 603.0,1004.8 611.0,1004.8" fill="#c8f000"/>
<polygon points="610.7,1204.7 603.8,1200.7 605.2,1198.2 596.1,1198.1 600.8,1206.0 602.2,1203.5 609.1,1207.5" fill="#20e0c0"/>
<polygon points="606.3,1003.5 613.2,1007.5 611.8,1010.0 620.9,1010.1 616.2,1002.2 614.8,1004.7 607.9,1000.7" fill="#ffd000"/>
<polygon points="607.9,1209.6 614.8,1205.6 616.2,1208.1 620.9,1200.2 611.8,1200.3 613.2,1202.8 606.3,1206.8" fill="#c8f000"/>
<polygon points="631.1,996.7 624.2,1000.7 622.8,998.2 618.1,1006.1 627.2,1006.0 625.8,1003.5 632.7,999.5" fill="#20e0c0"/>
<polygon points="618.9,1208.7 625.8,1204.7 627.2,1207.2 631.9,1199.3 622.8,1199.4 624.2,1201.9 617.3,1205.9" fill="#c8f000"/>
<polygon points="629.9,1007.9 636.8,1003.9 638.2,1006.4 642.9,998.5 633.8,998.6 635.2,1001.2 628.3,1005.2" fill="#f0e000"/>
<polygon points="628.3,1200.9 635.2,1204.9 633.8,1207.4 642.9,1207.5 638.2,1199.6 636.8,1202.1 629.9,1198.1" fill="#f0f000"/>
<polygon points="653.1,996.5 646.2,1000.5 644.8,998.0 640.1,1005.9 649.2,1005.8 647.8,1003.3 654.7,999.3" fill="#d8e800"/>
<polygon points="639.3,1197.5 646.2,1201.5 644.8,1204.0 653.9,1204.1 649.2,1196.2 647.8,1198.7 640.9,1194.7" fill="#20e0c0"/>
<polygon points="665.0,998.4 657.5,1001.1 656.5,998.4 650.5,1005.3 659.5,1006.8 658.5,1004.1 666.1,1001.4" fill="#a0e800"/>
<polygon points="665.0,1197.7 657.5,1200.4 656.5,1197.7 650.5,1204.6 659.5,1206.1 658.5,1203.4 666.1,1200.7" fill="#f0f000"/>
<polygon points="677.0,1003.6 669.0,1003.6 669.0,1000.7 661.0,1005.2 669.0,1009.7 669.0,1006.8 677.0,1006.8" fill="#c8f000"/>
<polygon points="661.0,1206.2 669.0,1206.2 669.0,1209.1 677.0,1204.6 669.0,1200.1 669.0,1203.0 661.0,1203.0" fill="#f0e000"/>
<polygon points="687.7,1007.6 680.8,1003.6 682.2,1001.1 673.1,1001.0 677.8,1008.9 679.2,1006.4 686.1,1010.4" fill="#ffd000"/>
<polygon points="672.0,1203.0 680.0,1203.0 680.0,1205.9 688.0,1201.4 680.0,1196.9 680.0,1199.8 672.0,1199.8" fill="#60e000"/>
<polygon points="683.0,1006.8 691.0,1006.8 691.0,1009.7 699.0,1005.2 691.0,1000.7 691.0,1003.6 683.0,1003.6" fill="#f0e000"/>
<polygon points="683.3,1197.6 690.2,1201.6 688.8,1204.1 697.9,1204.3 693.2,1196.4 691.8,1198.9 684.9,1194.9" fill="#20e0c0"/>
<polygon points="696.1,1129.1 697.7,1133.2 696.5,1133.6 699.9,1136.2 700.6,1132.0 699.4,1132.5 697.8,1128.4" fill="#2050e0"/>
<polygon points="699.0,1177.0 694.7,1178.1 694.4,1176.8 691.5,1179.9 695.5,1181.2 695.2,1179.9 699.4,1178.7" fill="#2050e0"/>
<polygon points="689.5,1133.9 689.5,1138.3 688.1,1138.3 690.3,1141.9 692.6,1138.3 691.3,1138.3 691.3,1133.9" fill="#2050e0"/>
<polygon points="574.8,1050.5 579.0,1049.3 579.4,1050.7 582.3,1047.5 578.2,1046.3 578.6,1047.6 574.3,1048.8" fill="#3070f0"/>
<polygon points="586.9,1065.2 583.4,1062.6 584.2,1061.5 580.0,1061.2 581.5,1065.1 582.3,1064.0 585.8,1066.7" fill="#1840c8"/>
<polygon points="589.7,1190.4 585.7,1188.6 586.3,1187.3 582.1,1187.8 584.4,1191.4 584.9,1190.2 588.9,1192.1" fill="#2a5ae8"/>
<polygon points="579.9,1013.9 581.6,1018.0 580.3,1018.5 583.7,1021.0 584.5,1016.9 583.2,1017.4 581.6,1013.3" fill="#2a5ae8"/>
<polygon points="595.1,1205.2 595.3,1200.8 596.6,1200.8 594.5,1197.2 592.1,1200.7 593.5,1200.7 593.3,1205.1" fill="#2050e0"/>
<polygon points="580.5,1088.7 583.8,1085.7 584.7,1086.7 585.8,1082.6 581.6,1083.4 582.6,1084.4 579.3,1087.4" fill="#2050e0"/>
<polygon points="682.7,1051.7 679.4,1054.5 678.5,1053.5 677.1,1057.5 681.4,1056.9 680.5,1055.9 683.9,1053.1" fill="#3070f0"/>
<polygon points="595.8,1049.8 600.2,1050.4 600.0,1051.7 603.9,1049.9 600.6,1047.2 600.4,1048.6 596.1,1048.0" fill="#3070f0"/>
<polygon points="680.8,1007.1 684.9,1005.4 685.4,1006.7 687.9,1003.2 683.7,1002.5 684.2,1003.7 680.1,1005.4" fill="#1840c8"/>
<polygon points="604.8,1003.9 609.0,1002.8 609.4,1004.1 612.3,1001.1 608.3,999.8 608.6,1001.1 604.3,1002.1" fill="#3070f0"/>
<polygon points="640.0,1014.6 643.8,1012.3 644.4,1013.5 646.4,1009.7 642.1,1009.6 642.8,1010.8 639.1,1013.1" fill="#3070f0"/>
<polygon points="583.5,1018.5 585.1,1022.6 583.8,1023.1 587.2,1025.6 588.0,1021.4 586.8,1021.9 585.2,1017.8" fill="#3070f0"/>
<polygon points="598.2,1171.8 594.6,1174.3 593.9,1173.2 592.2,1177.1 596.4,1176.9 595.7,1175.7 599.3,1173.2" fill="#1840c8"/>
<polygon points="618.4,1014.8 621.5,1017.9 620.6,1018.9 624.7,1019.8 623.7,1015.7 622.8,1016.6 619.7,1013.5" fill="#2050e0"/>
<polygon points="574.0,1061.1 577.7,1063.5 577.0,1064.6 581.2,1064.6 579.4,1060.8 578.7,1061.9 574.9,1059.6" fill="#2050e0"/>
<polygon points="686.0,1039.1 683.6,1042.8 682.4,1042.1 682.3,1046.3 686.2,1044.6 685.1,1043.8 687.5,1040.1" fill="#1840c8"/>
<polygon points="685.2,1195.6 688.9,1197.9 688.2,1199.0 692.5,1199.0 690.5,1195.2 689.8,1196.3 686.1,1194.0" fill="#2a5ae8"/>
<polygon points="645.6,1208.2 641.4,1207.1 641.7,1205.8 637.7,1207.0 640.6,1210.1 640.9,1208.8 645.2,1210.0" fill="#3070f0"/>
<polygon points="621.9,1194.0 625.3,1196.7 624.5,1197.8 628.7,1198.2 627.3,1194.2 626.4,1195.3 623.0,1192.6" fill="#3070f0"/>
<polygon points="583.2,1174.6 587.5,1173.9 587.7,1175.3 591.0,1172.5 587.1,1170.8 587.3,1172.2 582.9,1172.8" fill="#2a5ae8"/>
<polygon points="584.5,1090.6 587.2,1094.1 586.1,1095.0 590.1,1096.4 589.7,1092.2 588.6,1093.0 585.9,1089.5" fill="#2050e0"/>
<polygon points="602.3,1012.5 604.7,1008.8 605.9,1009.5 605.9,1005.3 602.1,1007.1 603.2,1007.8 600.8,1011.5" fill="#1840c8"/>
<polygon points="692.7,1131.8 694.2,1135.9 692.9,1136.4 696.2,1139.0 697.1,1134.9 695.9,1135.3 694.4,1131.2" fill="#2050e0"/>
<polygon points="612.6,1022.1 610.8,1018.1 612.1,1017.5 608.6,1015.1 607.9,1019.3 609.2,1018.8 610.9,1022.8" fill="#2050e0"/>
<circle cx="577.7" cy="993.6" r="3.6" fill="#30d8d8"/>
<circle cx="576.2" cy="1212.1" r="3.6" fill="#30d8d8"/>
<circle cx="589.8" cy="993.3" r="3.6" fill="#30d8d8"/>
<circle cx="589.8" cy="1212.5" r="3.6" fill="#30d8d8"/>
<circle cx="600.5" cy="994.2" r="3.6" fill="#30d8d8"/>
<circle cx="601.5" cy="1212.7" r="3.6" fill="#30d8d8"/>
<circle cx="613.1" cy="993.7" r="3.6" fill="#30d8d8"/>
<circle cx="613.6" cy="1213.5" r="3.6" fill="#30d8d8"/>
<circle cx="624.7" cy="994.0" r="3.6" fill="#30d8d8"/>
<circle cx="625.5" cy="1213.4" r="3.6" fill="#30d8d8"/>
<circle cx="637.9" cy="994.0" r="3.6" fill="#30d8d8"/>
<circle cx="638.2" cy="1213.6" r="3.6" fill="#30d8d8"/>
<circle cx="649.4" cy="993.3" r="3.6" fill="#30d8d8"/>
<circle cx="649.6" cy="1213.3" r="3.6" fill="#30d8d8"/>
<circle cx="660.8" cy="993.1" r="3.6" fill="#30d8d8"/>
<circle cx="659.9" cy="1213.2" r="3.6" fill="#30d8d8"/>
<circle cx="674.5" cy="993.1" r="3.6" fill="#30d8d8"/>
<circle cx="672.0" cy="1212.1" r="3.6" fill="#30d8d8"/>
<circle cx="684.8" cy="992.9" r="3.6" fill="#30d8d8"/>
<circle cx="686.4" cy="1211.8" r="3.6" fill="#30d8d8"/>
<circle cx="696.4" cy="992.5" r="3.6" fill="#30d8d8"/>
<circle cx="697.4" cy="1213.3" r="3.6" fill="#30d8d8"/>
<circle cx="573.7" cy="997.7" r="3.2" fill="#30d8d8"/>
<circle cx="702.0" cy="997.2" r="3.2" fill="#30d8d8"/>
<circle cx="573.7" cy="1010.8" r="3.2" fill="#30d8d8"/>
<circle cx="702.0" cy="1011.3" r="3.2" fill="#30d8d8"/>
<circle cx="573.7" cy="1024.6" r="3.2" fill="#30d8d8"/>
<circle cx="702.0" cy="1021.1" r="3.2" fill="#30d8d8"/>
<circle cx="573.7" cy="1033.4" r="3.2" fill="#30d8d8"/>
<circle cx="702.0" cy="1033.7" r="3.2" fill="#30d8d8"/>
<circle cx="573.7" cy="1045.9" r="3.2" fill="#30d8d8"/>
<circle cx="702.0" cy="1045.9" r="3.2" fill="#30d8d8"/>
<circle cx="573.7" cy="1059.9" r="3.2" fill="#30d8d8"/>
<circle cx="702.0" cy="1059.4" r="3.2" fill="#30d8d8"/>
<circle cx="573.7" cy="1069.9" r="3.2" fill="#30d8d8"/>
<circle cx="702.0" cy="1069.7" r="3.2" fill="#30d8d8"/>
<circle cx="573.7" cy="1082.1" r="3.2" fill="#30d8d8"/>
<circle cx="573.7" cy="1093.7" r="3.2" fill="#30d8d8"/>
<circle cx="573.7" cy="1108.0" r="3.2" fill="#30d8d8"/>
<circle cx="573.7" cy="1118.2" r="3.2" fill="#30d8d8"/>
<circle cx="573.7" cy="1131.2" r="3.2" fill="#30d8d8"/>
<circle cx="573.7" cy="1144.3" r="3.2" fill="#30d8d8"/>
<circle cx="702.0" cy="1142.9" r="3.2" fill="#30d8d8"/>
<circle cx="573.7" cy="1154.0" r="3.2" fill="#30d8d8"/>
<circle cx="702.0" cy="1156.5" r="3.2" fill="#30d8d8"/>
<circle cx="573.7" cy="1168.7" r="3.2" fill="#30d8d8"/>
<circle cx="702.0" cy="1166.4" r="3.2" fill="#30d8d8"/>
<circle cx="573.7" cy="1179.2" r="3.2" fill="#30d8d8"/>
<circle cx="702.0" cy="1180.8" r="3.2" fill="#30d8d8"/>
<circle cx="573.7" cy="1190.9" r="3.2" fill="#30d8d8"/>
<circle cx="702.0" cy="1189.9" r="3.2" fill="#30d8d8"/>
<circle cx="573.7" cy="1201.2" r="3.2" fill="#30d8d8"/>
<circle cx="702.0" cy="1204.8" r="3.2" fill="#30d8d8"/>
<polygon points="689.1,1017.3 691.4,1025.9 688.3,1026.8 695.2,1033.2 698.0,1024.2 694.9,1025.0 692.5,1016.3" fill="#ffd000"/>
<polygon points="691.2,1028.5 691.2,1037.5 688.0,1037.5 693.0,1045.5 698.0,1037.5 694.8,1037.5 694.8,1028.5" fill="#e0f000"/>
<polygon points="691.2,1040.5 691.2,1049.5 688.0,1049.5 693.0,1057.5 698.0,1049.5 694.8,1049.5 694.8,1040.5" fill="#c8f000"/>
<polygon points="689.1,1053.3 691.4,1061.9 688.3,1062.8 695.2,1069.2 698.0,1060.2 694.9,1061.0 692.5,1052.3" fill="#c8f000"/>
<polygon points="691.2,1127.5 691.2,1136.5 688.0,1136.5 693.0,1144.5 698.0,1136.5 694.8,1136.5 694.8,1127.5" fill="#c8f000"/>
<polygon points="693.5,1139.3 691.1,1148.0 688.0,1147.2 690.8,1156.2 697.7,1149.8 694.6,1148.9 696.9,1140.3" fill="#e0f000"/>
<polygon points="689.1,1152.3 691.4,1160.9 688.3,1161.8 695.2,1168.2 698.0,1159.2 694.9,1160.0 692.5,1151.3" fill="#e0f000"/>
<polygon points="689.1,1164.3 691.4,1172.9 688.3,1173.8 695.2,1180.2 698.0,1171.2 694.9,1172.0 692.5,1163.3" fill="#e0f000"/>
<polygon points="689.1,1176.3 691.4,1184.9 688.3,1185.8 695.2,1192.2 698.0,1183.2 694.9,1184.0 692.5,1175.3" fill="#e0f000"/>
<polygon points="596.5,1021.6 606.5,1021.6 606.5,1026.3 617.5,1019.3 606.5,1012.3 606.5,1017.0 596.5,1017.0" fill="#ff2a00"/>
<polygon points="609.5,1021.6 619.5,1021.6 619.5,1026.3 630.5,1019.3 619.5,1012.3 619.5,1017.0 609.5,1017.0" fill="#f01a0a"/>
<polygon points="622.5,1021.6 632.5,1021.6 632.5,1026.3 643.5,1019.3 632.5,1012.3 632.5,1017.0 622.5,1017.0" fill="#e8150d"/>
<polygon points="635.5,1021.6 645.5,1021.6 645.5,1026.3 656.5,1019.3 645.5,1012.3 645.5,1017.0 635.5,1017.0" fill="#e8150d"/>
<polygon points="648.5,1021.6 658.5,1021.6 658.5,1026.3 669.5,1019.3 658.5,1012.3 658.5,1017.0 648.5,1017.0" fill="#f01a0a"/>
<polygon points="661.5,1021.6 671.5,1021.6 671.5,1026.3 682.5,1019.3 671.5,1012.3 671.5,1017.0 661.5,1017.0" fill="#e8150d"/>
<polygon points="617.5,1185.4 607.5,1185.4 607.5,1180.7 596.5,1187.7 607.5,1194.7 607.5,1190.0 617.5,1190.0" fill="#e8150d"/>
<polygon points="630.5,1185.4 620.5,1185.4 620.5,1180.7 609.5,1187.7 620.5,1194.7 620.5,1190.0 630.5,1190.0" fill="#e8150d"/>
<polygon points="643.5,1185.4 633.5,1185.4 633.5,1180.7 622.5,1187.7 633.5,1194.7 633.5,1190.0 643.5,1190.0" fill="#f01a0a"/>
<polygon points="656.5,1185.4 646.5,1185.4 646.5,1180.7 635.5,1187.7 646.5,1194.7 646.5,1190.0 656.5,1190.0" fill="#ff2a00"/>
<polygon points="669.5,1185.4 659.5,1185.4 659.5,1180.7 648.5,1187.7 659.5,1194.7 659.5,1190.0 669.5,1190.0" fill="#ff2a00"/>
<polygon points="682.5,1185.4 672.5,1185.4 672.5,1180.7 661.5,1187.7 672.5,1194.7 672.5,1190.0 682.5,1190.0" fill="#f01a0a"/>
<polygon points="601.0,1035.5 601.0,1025.5 605.7,1025.5 598.7,1014.5 591.7,1025.5 596.4,1025.5 596.4,1035.5" fill="#f02010"/>
<polygon points="601.0,1047.5 601.0,1037.5 605.7,1037.5 598.7,1026.5 591.7,1037.5 596.4,1037.5 596.4,1047.5" fill="#f02010"/>
<polygon points="601.0,1059.5 601.0,1049.5 605.7,1049.5 598.7,1038.5 591.7,1049.5 596.4,1049.5 596.4,1059.5" fill="#e8150d"/>
<polygon points="601.0,1071.5 601.0,1061.5 605.7,1061.5 598.7,1050.5 591.7,1061.5 596.4,1061.5 596.4,1071.5" fill="#ffc000"/>
<polygon points="601.0,1083.5 601.0,1073.5 605.7,1073.5 598.7,1062.5 591.7,1073.5 596.4,1073.5 596.4,1083.5" fill="#ff8000"/>
<polygon points="601.0,1095.5 601.0,1085.5 605.7,1085.5 598.7,1074.5 591.7,1085.5 596.4,1085.5 596.4,1095.5" fill="#ff8000"/>
<polygon points="601.0,1107.5 601.0,1097.5 605.7,1097.5 598.7,1086.5 591.7,1097.5 596.4,1097.5 596.4,1107.5" fill="#f01a0a"/>
<polygon points="601.0,1119.5 601.0,1109.5 605.7,1109.5 598.7,1098.5 591.7,1109.5 596.4,1109.5 596.4,1119.5" fill="#f01a0a"/>
<polygon points="601.0,1131.5 601.0,1121.5 605.7,1121.5 598.7,1110.5 591.7,1121.5 596.4,1121.5 596.4,1131.5" fill="#f02010"/>
<polygon points="601.0,1143.5 601.0,1133.5 605.7,1133.5 598.7,1122.5 591.7,1133.5 596.4,1133.5 596.4,1143.5" fill="#ff2a00"/>
<polygon points="601.0,1155.5 601.0,1145.5 605.7,1145.5 598.7,1134.5 591.7,1145.5 596.4,1145.5 596.4,1155.5" fill="#f02010"/>
<polygon points="601.0,1167.5 601.0,1157.5 605.7,1157.5 598.7,1146.5 591.7,1157.5 596.4,1157.5 596.4,1167.5" fill="#e8150d"/>
<polygon points="601.0,1179.5 601.0,1169.5 605.7,1169.5 598.7,1158.5 591.7,1169.5 596.4,1169.5 596.4,1179.5" fill="#f02010"/>
<polygon points="601.0,1191.5 601.0,1181.5 605.7,1181.5 598.7,1170.5 591.7,1181.5 596.4,1181.5 596.4,1191.5" fill="#f02010"/>
<polygon points="676.7,1014.5 676.7,1024.5 672.0,1024.5 679.0,1035.5 686.0,1024.5 681.3,1024.5 681.3,1014.5" fill="#f01a0a"/>
<polygon points="676.7,1026.5 676.7,1036.5 672.0,1036.5 679.0,1047.5 686.0,1036.5 681.3,1036.5 681.3,1026.5" fill="#f02010"/>
<polygon points="676.7,1038.5 676.7,1048.5 672.0,1048.5 679.0,1059.5 686.0,1048.5 681.3,1048.5 681.3,1038.5" fill="#f02010"/>
<polygon points="676.7,1050.5 676.7,1060.5 672.0,1060.5 679.0,1071.5 686.0,1060.5 681.3,1060.5 681.3,1050.5" fill="#e8150d"/>
<polygon points="676.7,1125.5 676.7,1135.5 672.0,1135.5 679.0,1146.5 686.0,1135.5 681.3,1135.5 681.3,1125.5" fill="#ff2a00"/>
<polygon points="676.7,1137.5 676.7,1147.5 672.0,1147.5 679.0,1158.5 686.0,1147.5 681.3,1147.5 681.3,1137.5" fill="#ff2a00"/>
<polygon points="676.7,1149.5 676.7,1159.5 672.0,1159.5 679.0,1170.5 686.0,1159.5 681.3,1159.5 681.3,1149.5" fill="#ff2a00"/>
<polygon points="676.7,1161.5 676.7,1171.5 672.0,1171.5 679.0,1182.5 686.0,1171.5 681.3,1171.5 681.3,1161.5" fill="#f02010"/>
<polygon points="676.7,1173.5 676.7,1183.5 672.0,1183.5 679.0,1194.5 686.0,1183.5 681.3,1183.5 681.3,1173.5" fill="#f01a0a"/>
<text x="99" y="968" font-size="36.5" font-weight="bold">Ge: 1 S/m</text>
<text x="202" y="1064" font-size="40" text-anchor="middle" font-weight="bold">m</text>
<text x="641" y="1064" font-size="40" text-anchor="middle" font-weight="bold">m</text>
<circle cx="202.0" cy="1105.5" r="22.8" fill="none" stroke="#000" stroke-width="5.2"/>
<circle cx="202.0" cy="1105.5" r="8" fill="#000"/>
<circle cx="641.0" cy="1105.5" r="22.8" fill="none" stroke="#000" stroke-width="5.2"/>
<path d="M626.9,1091.4 L655.1,1119.6 M626.9,1119.6 L655.1,1091.4" stroke="#000" stroke-width="5.2"/>
<line x1="109.0" y1="1252.0" x2="109.0" y2="1208.0" stroke="#1e6e3a" stroke-width="4"/>
<polygon points="101.0,1212.0 117.0,1212.0 109.0,1194.0" fill="#1e7040"/>
<line x1="117.0" y1="1258.0" x2="167.0" y2="1258.0" stroke="#4a70b0" stroke-width="5"/>
<polygon points="161.0,1249.0 161.0,1267.0 183.0,1258.0" fill="#3c5c98"/>
<circle cx="109.0" cy="1258.0" r="8.5" fill="#fff" stroke="#e01010" stroke-width="3"/>
<path d="M104.0,1253.0 L114.0,1263.0 M104.0,1263.0 L114.0,1253.0" stroke="#e01010" stroke-width="2.6"/>
<text x="94.0" y="1184.0" font-size="25" font-style="italic" font-weight="bold" fill="#2a9a55">Ey</text>
<text x="194.0" y="1266.5" font-size="27" font-style="italic" font-weight="bold" fill="#1a1ad0">Hx</text>
<defs><linearGradient id="cb2" x1="0" y1="0" x2="0" y2="1">
<stop offset="0.00" stop-color="#f0140a"/>
<stop offset="0.04" stop-color="#ff2a00"/>
<stop offset="0.15" stop-color="#ff8000"/>
<stop offset="0.25" stop-color="#ffee00"/>
<stop offset="0.30" stop-color="#f8ff00"/>
<stop offset="0.38" stop-color="#a8ff00"/>
<stop offset="0.49" stop-color="#00e000"/>
<stop offset="0.58" stop-color="#00e880"/>
<stop offset="0.66" stop-color="#00f0c0"/>
<stop offset="0.74" stop-color="#00ffff"/>
<stop offset="0.83" stop-color="#0090ff"/>
<stop offset="0.92" stop-color="#1040f0"/>
<stop offset="1.00" stop-color="#1010c0"/>
</linearGradient></defs>
<rect x="761.5" y="922.6" width="45.5" height="365.4" fill="url(#cb2)" stroke="#303030" stroke-width="1.5"/>
<text transform="translate(817.5,934.4) scale(1.12,1)" font-size="30" font-weight="bold">400</text>
<text transform="translate(816.5,1292) scale(1.12,1)" font-size="30" font-weight="bold">0</text>
<text transform="translate(816.5,1081.6) scale(1.08,1)" font-size="25.5" font-weight="bold">Surface</text>
<text transform="translate(816.5,1115.0) scale(1.08,1)" font-size="25.5" font-weight="bold">Current</text>
<text transform="translate(816.5,1148.4) scale(1.08,1)" font-size="25.5" font-weight="bold">(A/m)</text>
<line x1="1073.7" y1="397.4" x2="1073.7" y2="38.2" stroke="#ececec" stroke-width="1.1"/>
<line x1="1122.0" y1="397.4" x2="1122.0" y2="38.2" stroke="#dedede" stroke-width="1.1"/>
<line x1="1170.2" y1="397.4" x2="1170.2" y2="38.2" stroke="#ececec" stroke-width="1.1"/>
<line x1="1218.5" y1="397.4" x2="1218.5" y2="38.2" stroke="#dedede" stroke-width="1.1"/>
<line x1="1266.7" y1="397.4" x2="1266.7" y2="38.2" stroke="#ececec" stroke-width="1.1"/>
<line x1="1315.0" y1="397.4" x2="1315.0" y2="38.2" stroke="#dedede" stroke-width="1.1"/>
<line x1="1363.2" y1="397.4" x2="1363.2" y2="38.2" stroke="#ececec" stroke-width="1.1"/>
<line x1="1411.4" y1="397.4" x2="1411.4" y2="38.2" stroke="#dedede" stroke-width="1.1"/>
<line x1="1459.7" y1="397.4" x2="1459.7" y2="38.2" stroke="#ececec" stroke-width="1.1"/>
<line x1="1507.9" y1="397.4" x2="1507.9" y2="38.2" stroke="#dedede" stroke-width="1.1"/>
<line x1="1556.2" y1="397.4" x2="1556.2" y2="38.2" stroke="#ececec" stroke-width="1.1"/>
<line x1="1025.5" y1="361.5" x2="1604.4" y2="361.5" stroke="#ececec" stroke-width="1.1"/>
<line x1="1025.5" y1="325.6" x2="1604.4" y2="325.6" stroke="#dedede" stroke-width="1.1"/>
<line x1="1025.5" y1="289.6" x2="1604.4" y2="289.6" stroke="#ececec" stroke-width="1.1"/>
<line x1="1025.5" y1="253.7" x2="1604.4" y2="253.7" stroke="#dedede" stroke-width="1.1"/>
<line x1="1025.5" y1="217.8" x2="1604.4" y2="217.8" stroke="#ececec" stroke-width="1.1"/>
<line x1="1025.5" y1="181.9" x2="1604.4" y2="181.9" stroke="#dedede" stroke-width="1.1"/>
<line x1="1025.5" y1="146.0" x2="1604.4" y2="146.0" stroke="#ececec" stroke-width="1.1"/>
<line x1="1025.5" y1="110.0" x2="1604.4" y2="110.0" stroke="#dedede" stroke-width="1.1"/>
<line x1="1025.5" y1="74.1" x2="1604.4" y2="74.1" stroke="#ececec" stroke-width="1.1"/>
<path d="M1025.5,173.6 L1026.5,172.9 L1027.4,172.2 L1028.4,171.5 L1029.4,170.8 L1030.3,170.1 L1031.3,169.4 L1032.3,168.7 L1033.2,167.9 L1034.2,167.2 L1035.2,166.5 L1036.1,165.8 L1037.1,165.1 L1038.1,164.4 L1039.0,163.7 L1040.0,163.1 L1041.0,162.4 L1041.9,161.7 L1042.9,161.0 L1043.9,160.3 L1044.8,159.6 L1045.8,158.9 L1046.8,158.2 L1047.7,157.6 L1048.7,156.9 L1049.7,156.2 L1050.6,155.5 L1051.6,154.9 L1052.6,154.2 L1053.5,153.5 L1054.5,152.9 L1055.5,152.2 L1056.4,151.5 L1057.4,150.9 L1058.4,150.2 L1059.3,149.6 L1060.3,148.9 L1061.3,148.3 L1062.2,147.6 L1063.2,147.0 L1064.2,146.3 L1065.1,145.7 L1066.1,145.1 L1067.1,144.5 L1068.0,143.8 L1069.0,143.2 L1070.0,142.6 L1070.9,142.0 L1071.9,141.4 L1072.9,140.7 L1073.8,140.1 L1074.8,139.5 L1075.8,138.9 L1076.7,138.3 L1077.7,137.7 L1078.7,137.2 L1079.6,136.6 L1080.6,136.0 L1081.6,135.4 L1082.5,134.8 L1083.5,134.3 L1084.5,133.7 L1085.4,133.1 L1086.4,132.6 L1087.4,132.0 L1088.3,131.5 L1089.3,130.9 L1090.3,130.4 L1091.2,129.8 L1092.2,129.3 L1093.2,128.8 L1094.1,128.3 L1095.1,127.7 L1096.1,127.2 L1097.0,126.7 L1098.0,126.2 L1098.9,125.7 L1099.9,125.2 L1100.9,124.7 L1101.8,124.2 L1102.8,123.7 L1103.8,123.3 L1104.7,122.8 L1105.7,122.3 L1106.7,121.9 L1107.6,121.4 L1108.6,121.0 L1109.6,120.5 L1110.5,120.1 L1111.5,119.6 L1112.5,119.2 L1113.4,118.8 L1114.4,118.3 L1115.4,117.9 L1116.3,117.5 L1117.3,117.1 L1118.3,116.7 L1119.2,116.3 L1120.2,115.9 L1121.2,115.6 L1122.1,115.2 L1123.1,114.8 L1124.1,114.5 L1125.0,114.1 L1126.0,113.7 L1127.0,113.4 L1127.9,113.1 L1128.9,112.7 L1129.9,112.4 L1130.8,112.1 L1131.8,111.8 L1132.8,111.5 L1133.7,111.2 L1134.7,110.9 L1135.7,110.6 L1136.6,110.3 L1137.6,110.0 L1138.6,109.7 L1139.5,109.5 L1140.5,109.2 L1141.5,109.0 L1142.4,108.7 L1143.4,108.5 L1144.4,108.3 L1145.3,108.0 L1146.3,107.8 L1147.3,107.6 L1148.2,107.4 L1149.2,107.2 L1150.2,107.1 L1151.1,106.9 L1152.1,106.7 L1153.1,106.6 L1154.0,106.4 L1155.0,106.3 L1156.0,106.1 L1156.9,106.0 L1157.9,105.9 L1158.9,105.8 L1159.8,105.7 L1160.8,105.6 L1161.8,105.5 L1162.7,105.5 L1163.7,105.4 L1164.7,105.4 L1165.6,105.3 L1166.6,105.3 L1167.6,105.3 L1168.5,105.3 L1169.5,105.3 L1170.5,105.4 L1171.4,105.4 L1172.4,105.5 L1173.4,105.5 L1174.3,105.6 L1175.3,105.7 L1176.3,105.8 L1177.2,105.9 L1178.2,106.0 L1179.2,106.2 L1180.1,106.3 L1181.1,106.5 L1182.1,106.7 L1183.0,106.9 L1184.0,107.1 L1185.0,107.3 L1185.9,107.6 L1186.9,107.8 L1187.9,108.1 L1188.8,108.4 L1189.8,108.7 L1190.8,109.0 L1191.7,109.3 L1192.7,109.7 L1193.7,110.1 L1194.6,110.5 L1195.6,110.9 L1196.6,111.3 L1197.5,111.7 L1198.5,112.2 L1199.5,112.6 L1200.4,113.1 L1201.4,113.6 L1202.4,114.2 L1203.3,114.7 L1204.3,115.3 L1205.3,115.9 L1206.2,116.5 L1207.2,117.1 L1208.2,117.7 L1209.1,118.4 L1210.1,119.1 L1211.1,119.8 L1212.0,120.5 L1213.0,121.2 L1214.0,122.0 L1214.9,122.8 L1215.9,123.6 L1216.9,124.4 L1217.8,125.2 L1218.8,126.1 L1219.8,127.0 L1220.7,127.9 L1221.7,128.8 L1222.7,129.7 L1223.6,130.7 L1224.6,131.7 L1225.6,132.7 L1226.5,133.7 L1227.5,134.7 L1228.5,135.7 L1229.4,136.8 L1230.4,137.9 L1231.4,138.9 L1232.3,140.0 L1233.3,141.1 L1234.3,142.2 L1235.2,143.4 L1236.2,144.5 L1237.2,145.6 L1238.1,146.8 L1239.1,148.0 L1240.1,149.2 L1241.0,150.5 L1242.0,151.7 L1242.9,153.0 L1243.9,154.4 L1244.9,155.8 L1245.8,157.3 L1246.8,158.8 L1247.8,160.3 L1248.7,161.9 L1249.7,163.6 L1250.7,165.4 L1251.6,167.2 L1252.6,169.1 L1253.6,171.0 L1254.5,173.1 L1255.5,175.1 L1256.5,177.2 L1257.4,179.3 L1258.4,181.5 L1259.4,183.7 L1260.3,185.9 L1261.3,188.2 L1262.3,190.4 L1263.2,192.7 L1264.2,195.0 L1265.2,197.3 L1266.1,199.7 L1267.1,202.0 L1268.1,204.3 L1269.0,206.7 L1270.0,209.1 L1271.0,211.4 L1271.9,213.8 L1272.9,216.2 L1273.9,218.5 L1274.8,220.9 L1275.8,223.3 L1276.8,225.6 L1277.7,228.0 L1278.7,230.3 L1279.7,232.7 L1280.6,235.0 L1281.6,237.3 L1282.6,239.6 L1283.5,241.9 L1284.5,244.1 L1285.5,246.3 L1286.4,248.6 L1287.4,250.7 L1288.4,252.9 L1289.3,255.0 L1290.3,257.0 L1291.3,259.0 L1292.2,261.0 L1293.2,262.8 L1294.2,264.6 L1295.1,266.3 L1296.1,267.9 L1297.1,269.4 L1298.0,270.9 L1299.0,272.2 L1300.0,273.3 L1300.9,274.4 L1301.9,275.3 L1302.9,276.1 L1303.8,276.7 L1304.8,277.2 L1305.8,277.6 L1306.7,277.7 L1307.7,277.7 L1308.7,277.6 L1309.6,277.2 L1310.6,276.7 L1311.6,275.9 L1312.5,275.0 L1313.5,273.9 L1314.5,272.6 L1315.4,271.1 L1316.4,269.5 L1317.4,267.6 L1318.3,265.6 L1319.3,263.5 L1320.3,261.2 L1321.2,258.9 L1322.2,256.4 L1323.2,253.8 L1324.1,251.2 L1325.1,248.5 L1326.1,245.7 L1327.0,242.9 L1328.0,240.1 L1329.0,237.2 L1329.9,234.4 L1330.9,231.5 L1331.9,228.6 L1332.8,225.7 L1333.8,222.8 L1334.8,219.9 L1335.7,217.0 L1336.7,214.2 L1337.7,211.4 L1338.6,208.6 L1339.6,205.9 L1340.6,203.2 L1341.5,200.5 L1342.5,198.0 L1343.5,195.4 L1344.4,192.9 L1345.4,190.5 L1346.4,188.1 L1347.3,185.8 L1348.3,183.5 L1349.3,181.3 L1350.2,179.1 L1351.2,177.0 L1352.2,175.0 L1353.1,173.0 L1354.1,171.1 L1355.1,169.2 L1356.0,167.5 L1357.0,165.9 L1358.0,164.3 L1358.9,162.9 L1359.9,161.5 L1360.9,160.3 L1361.8,159.2 L1362.8,158.1 L1363.8,157.2 L1364.7,156.3 L1365.7,155.6 L1366.7,154.9 L1367.6,154.3 L1368.6,153.8 L1369.6,153.4 L1370.5,153.0 L1371.5,152.8 L1372.5,152.6 L1373.4,152.4 L1374.4,152.4 L1375.4,152.4 L1376.3,152.5 L1377.3,152.7 L1378.3,152.9 L1379.2,153.1 L1380.2,153.4 L1381.2,153.8 L1382.1,154.2 L1383.1,154.6 L1384.1,155.1 L1385.0,155.6 L1386.0,156.1 L1387.0,156.6 L1387.9,157.2 L1388.9,157.8 L1389.8,158.3 L1390.8,158.9 L1391.8,159.5 L1392.7,160.1 L1393.7,160.7 L1394.7,161.2 L1395.6,161.8 L1396.6,162.3 L1397.6,162.8 L1398.5,163.3 L1399.5,163.7 L1400.5,164.1 L1401.4,164.5 L1402.4,164.8 L1403.4,165.1 L1404.3,165.4 L1405.3,165.7 L1406.3,165.9 L1407.2,166.1 L1408.2,166.2 L1409.2,166.3 L1410.1,166.4 L1411.1,166.4 L1412.1,166.5 L1413.0,166.4 L1414.0,166.4 L1415.0,166.3 L1415.9,166.1 L1416.9,166.0 L1417.9,165.8 L1418.8,165.5 L1419.8,165.3 L1420.8,165.0 L1421.7,164.6 L1422.7,164.2 L1423.7,163.8 L1424.6,163.3 L1425.6,162.9 L1426.6,162.3 L1427.5,161.8 L1428.5,161.2 L1429.5,160.6 L1430.4,160.0 L1431.4,159.4 L1432.4,158.7 L1433.3,158.0 L1434.3,157.3 L1435.3,156.6 L1436.2,155.8 L1437.2,155.1 L1438.2,154.3 L1439.1,153.5 L1440.1,152.7 L1441.1,151.9 L1442.0,151.1 L1443.0,150.3 L1444.0,149.5 L1444.9,148.7 L1445.9,147.9 L1446.9,147.1 L1447.8,146.2 L1448.8,145.5 L1449.8,144.7 L1450.7,144.0 L1451.7,143.3 L1452.7,142.7 L1453.6,142.2 L1454.6,141.7 L1455.6,141.3 L1456.5,141.0 L1457.5,140.8 L1458.5,140.7 L1459.4,140.6 L1460.4,140.6 L1461.4,140.7 L1462.3,140.8 L1463.3,140.9 L1464.3,141.1 L1465.2,141.2 L1466.2,141.4 L1467.2,141.6 L1468.1,141.8 L1469.1,142.0 L1470.1,142.2 L1471.0,142.4 L1472.0,142.5 L1473.0,142.6 L1473.9,142.7 L1474.9,142.7 L1475.9,142.7 L1476.8,142.6 L1477.8,142.5 L1478.8,142.4 L1479.7,142.2 L1480.7,142.1 L1481.7,142.0 L1482.6,141.8 L1483.6,141.7 L1484.6,141.5 L1485.5,141.3 L1486.5,141.2 L1487.5,141.0 L1488.4,140.9 L1489.4,140.7 L1490.4,140.5 L1491.3,140.4 L1492.3,140.2 L1493.3,140.0 L1494.2,139.9 L1495.2,139.7 L1496.2,139.5 L1497.1,139.4 L1498.1,139.2 L1499.1,139.0 L1500.0,138.9 L1501.0,138.7 L1502.0,138.5 L1502.9,138.4 L1503.9,138.2 L1504.9,138.0 L1505.8,137.9 L1506.8,137.7 L1507.8,137.5 L1508.7,137.4 L1509.7,137.2 L1510.7,137.1 L1511.6,136.9 L1512.6,136.8 L1513.6,136.6 L1514.5,136.5 L1515.5,136.4 L1516.5,136.2 L1517.4,136.1 L1518.4,136.0 L1519.4,135.8 L1520.3,135.7 L1521.3,135.6 L1522.3,135.4 L1523.2,135.3 L1524.2,135.2 L1525.2,135.1 L1526.1,134.9 L1527.1,134.8 L1528.1,134.7 L1529.0,134.6 L1530.0,134.5 L1531.0,134.3 L1531.9,134.2 L1532.9,134.1 L1533.8,134.0 L1534.8,133.9 L1535.8,133.8 L1536.7,133.7 L1537.7,133.6 L1538.7,133.5 L1539.6,133.4 L1540.6,133.3 L1541.6,133.1 L1542.5,133.0 L1543.5,132.9 L1544.5,132.8 L1545.4,132.7 L1546.4,132.6 L1547.4,132.5 L1548.3,132.4 L1549.3,132.3 L1550.3,132.2 L1551.2,132.1 L1552.2,132.0 L1553.2,132.0 L1554.1,131.9 L1555.1,131.8 L1556.1,131.7 L1557.0,131.6 L1558.0,131.5 L1559.0,131.4 L1559.9,131.3 L1560.9,131.2 L1561.9,131.1 L1562.8,131.0 L1563.8,130.9 L1564.8,130.8 L1565.7,130.7 L1566.7,130.6 L1567.7,130.5 L1568.6,130.4 L1569.6,130.3 L1570.6,130.2 L1571.5,130.1 L1572.5,130.0 L1573.5,129.9 L1574.4,129.8 L1575.4,129.7 L1576.4,129.6 L1577.3,129.5 L1578.3,129.4 L1579.3,129.3 L1580.2,129.2 L1581.2,129.1 L1582.2,129.0 L1583.1,128.9 L1584.1,128.8 L1585.1,128.7 L1586.0,128.6 L1587.0,128.4 L1588.0,128.3 L1588.9,128.2 L1589.9,128.1 L1590.9,128.0 L1591.8,127.9 L1592.8,127.7 L1593.8,127.6 L1594.7,127.5 L1595.7,127.4 L1596.7,127.3 L1597.6,127.1 L1598.6,127.0 L1599.6,126.9 L1600.5,126.7 L1601.5,126.6 L1602.5,126.5 L1603.4,126.3 L1604.4,126.2" fill="none" stroke="#1a8a1a" stroke-width="2.40" stroke-linejoin="round"/>
<path d="M1025.5,173.7 L1026.5,173.0 L1027.4,172.2 L1028.4,171.5 L1029.4,170.8 L1030.3,170.1 L1031.3,169.4 L1032.3,168.7 L1033.2,167.9 L1034.2,167.2 L1035.2,166.5 L1036.1,165.8 L1037.1,165.1 L1038.1,164.4 L1039.0,163.7 L1040.0,163.0 L1041.0,162.3 L1041.9,161.6 L1042.9,160.9 L1043.9,160.2 L1044.8,159.5 L1045.8,158.9 L1046.8,158.2 L1047.7,157.5 L1048.7,156.8 L1049.7,156.1 L1050.6,155.4 L1051.6,154.8 L1052.6,154.1 L1053.5,153.4 L1054.5,152.8 L1055.5,152.1 L1056.4,151.4 L1057.4,150.8 L1058.4,150.1 L1059.3,149.5 L1060.3,148.8 L1061.3,148.2 L1062.2,147.5 L1063.2,146.9 L1064.2,146.3 L1065.1,145.6 L1066.1,145.0 L1067.1,144.4 L1068.0,143.7 L1069.0,143.1 L1070.0,142.5 L1070.9,141.9 L1071.9,141.3 L1072.9,140.6 L1073.8,140.0 L1074.8,139.4 L1075.8,138.8 L1076.7,138.2 L1077.7,137.7 L1078.7,137.1 L1079.6,136.5 L1080.6,135.9 L1081.6,135.3 L1082.5,134.8 L1083.5,134.2 L1084.5,133.6 L1085.4,133.1 L1086.4,132.5 L1087.4,132.0 L1088.3,131.4 L1089.3,130.9 L1090.3,130.3 L1091.2,129.8 L1092.2,129.3 L1093.2,128.7 L1094.1,128.2 L1095.1,127.7 L1096.1,127.2 L1097.0,126.7 L1098.0,126.2 L1098.9,125.7 L1099.9,125.2 L1100.9,124.7 L1101.8,124.2 L1102.8,123.7 L1103.8,123.2 L1104.7,122.8 L1105.7,122.3 L1106.7,121.8 L1107.6,121.4 L1108.6,120.9 L1109.6,120.5 L1110.5,120.1 L1111.5,119.6 L1112.5,119.2 L1113.4,118.8 L1114.4,118.3 L1115.4,117.9 L1116.3,117.5 L1117.3,117.1 L1118.3,116.7 L1119.2,116.3 L1120.2,116.0 L1121.2,115.6 L1122.1,115.2 L1123.1,114.8 L1124.1,114.5 L1125.0,114.1 L1126.0,113.8 L1127.0,113.4 L1127.9,113.1 L1128.9,112.7 L1129.9,112.4 L1130.8,112.1 L1131.8,111.8 L1132.8,111.5 L1133.7,111.2 L1134.7,110.9 L1135.7,110.6 L1136.6,110.3 L1137.6,110.0 L1138.6,109.8 L1139.5,109.5 L1140.5,109.3 L1141.5,109.0 L1142.4,108.8 L1143.4,108.5 L1144.4,108.3 L1145.3,108.1 L1146.3,107.9 L1147.3,107.7 L1148.2,107.5 L1149.2,107.3 L1150.2,107.1 L1151.1,106.9 L1152.1,106.7 L1153.1,106.6 L1154.0,106.4 L1155.0,106.3 L1156.0,106.2 L1156.9,106.0 L1157.9,105.9 L1158.9,105.8 L1159.8,105.7 L1160.8,105.6 L1161.8,105.6 L1162.7,105.5 L1163.7,105.4 L1164.7,105.4 L1165.6,105.4 L1166.6,105.3 L1167.6,105.3 L1168.5,105.3 L1169.5,105.3 L1170.5,105.4 L1171.4,105.4 L1172.4,105.4 L1173.4,105.5 L1174.3,105.6 L1175.3,105.7 L1176.3,105.8 L1177.2,105.9 L1178.2,106.0 L1179.2,106.1 L1180.1,106.3 L1181.1,106.5 L1182.1,106.6 L1183.0,106.8 L1184.0,107.1 L1185.0,107.3 L1185.9,107.5 L1186.9,107.8 L1187.9,108.0 L1188.8,108.3 L1189.8,108.6 L1190.8,109.0 L1191.7,109.3 L1192.7,109.6 L1193.7,110.0 L1194.6,110.4 L1195.6,110.8 L1196.6,111.2 L1197.5,111.6 L1198.5,112.1 L1199.5,112.6 L1200.4,113.1 L1201.4,113.6 L1202.4,114.1 L1203.3,114.6 L1204.3,115.2 L1205.3,115.8 L1206.2,116.4 L1207.2,117.0 L1208.2,117.7 L1209.1,118.4 L1210.1,119.1 L1211.1,119.8 L1212.0,120.6 L1213.0,121.3 L1214.0,122.2 L1214.9,123.0 L1215.9,123.9 L1216.9,124.8 L1217.8,125.7 L1218.8,126.7 L1219.8,127.7 L1220.7,128.7 L1221.7,129.7 L1222.7,130.8 L1223.6,132.0 L1224.6,133.1 L1225.6,134.3 L1226.5,135.6 L1227.5,136.9 L1228.5,138.2 L1229.4,139.5 L1230.4,140.9 L1231.4,142.4 L1232.3,143.9 L1233.3,145.4 L1234.3,146.9 L1235.2,148.5 L1236.2,150.2 L1237.2,151.8 L1238.1,153.5 L1239.1,155.3 L1240.1,157.1 L1241.0,158.9 L1242.0,160.7 L1242.9,162.6 L1243.9,164.5 L1244.9,166.5 L1245.8,168.5 L1246.8,170.5 L1247.8,172.6 L1248.7,174.6 L1249.7,176.8 L1250.7,178.9 L1251.6,181.1 L1252.6,183.3 L1253.6,185.5 L1254.5,187.8 L1255.5,190.1 L1256.5,192.4 L1257.4,194.8 L1258.4,197.2 L1259.4,199.6 L1260.3,202.0 L1261.3,204.5 L1262.3,207.0 L1263.2,209.5 L1264.2,212.0 L1265.2,214.6 L1266.1,217.1 L1267.1,219.7 L1268.1,222.4 L1269.0,225.0 L1270.0,227.7 L1271.0,230.4 L1271.9,233.1 L1272.9,235.9 L1273.9,238.7 L1274.8,241.5 L1275.8,244.5 L1276.8,247.4 L1277.7,250.4 L1278.7,253.5 L1279.7,256.7 L1280.6,260.0 L1281.6,263.3 L1282.6,266.7 L1283.5,270.3 L1284.5,273.8 L1285.5,277.4 L1286.4,280.9 L1287.4,284.3 L1288.4,287.5 L1289.3,290.5 L1290.3,293.2 L1291.3,295.7 L1292.2,297.7 L1293.2,299.5 L1294.2,300.9 L1295.1,302.0 L1296.1,302.8 L1297.1,303.3 L1298.0,303.4 L1299.0,303.3 L1300.0,302.9 L1300.9,302.2 L1301.9,301.3 L1302.9,300.2 L1303.8,298.8 L1304.8,297.3 L1305.8,295.6 L1306.7,293.7 L1307.7,291.7 L1308.7,289.7 L1309.6,287.5 L1310.6,285.1 L1311.6,282.8 L1312.5,280.3 L1313.5,277.7 L1314.5,275.1 L1315.4,272.4 L1316.4,269.7 L1317.4,266.9 L1318.3,264.1 L1319.3,261.3 L1320.3,258.4 L1321.2,255.6 L1322.2,252.8 L1323.2,249.9 L1324.1,247.1 L1325.1,244.4 L1326.1,241.6 L1327.0,238.9 L1328.0,236.3 L1329.0,233.7 L1329.9,231.2 L1330.9,228.8 L1331.9,226.5 L1332.8,224.2 L1333.8,221.9 L1334.8,219.6 L1335.7,217.2 L1336.7,214.8 L1337.7,212.4 L1338.6,209.7 L1339.6,207.0 L1340.6,204.1 L1341.5,201.0 L1342.5,197.6 L1343.5,194.0 L1344.4,190.2 L1345.4,186.2 L1346.4,182.1 L1347.3,178.2 L1348.3,174.4 L1349.3,170.9 L1350.2,167.9 L1351.2,165.4 L1352.2,163.5 L1353.1,162.0 L1354.1,160.8 L1355.1,160.0 L1356.0,159.2 L1357.0,158.5 L1358.0,157.7 L1358.9,156.9 L1359.9,155.9 L1360.9,154.9 L1361.8,153.9 L1362.8,153.0 L1363.8,152.2 L1364.7,151.5 L1365.7,150.9 L1366.7,150.6 L1367.6,150.5 L1368.6,150.7 L1369.6,151.3 L1370.5,152.2 L1371.5,153.5 L1372.5,155.3 L1373.4,157.7 L1374.4,160.5 L1375.4,163.9 L1376.3,167.8 L1377.3,172.2 L1378.3,177.1 L1379.2,182.4 L1380.2,188.3 L1381.2,194.6 L1382.1,201.3 L1383.1,208.4 L1384.1,215.9 L1385.0,223.3 L1386.0,230.0 L1387.0,235.4 L1387.9,239.1 L1388.9,241.4 L1389.8,242.5 L1390.8,242.5 L1391.8,241.7 L1392.7,240.2 L1393.7,238.3 L1394.7,236.1 L1395.6,233.7 L1396.6,231.5 L1397.6,229.4 L1398.5,227.5 L1399.5,225.8 L1400.5,224.3 L1401.4,222.9 L1402.4,221.7 L1403.4,220.5 L1404.3,219.4 L1405.3,218.4 L1406.3,217.4 L1407.2,216.5 L1408.2,215.5 L1409.2,214.5 L1410.1,213.4 L1411.1,212.3 L1412.1,211.1 L1413.0,209.8 L1414.0,208.4 L1415.0,206.9 L1415.9,205.3 L1416.9,203.7 L1417.9,202.0 L1418.8,200.2 L1419.8,198.4 L1420.8,196.6 L1421.7,194.8 L1422.7,193.1 L1423.7,191.3 L1424.6,189.6 L1425.6,187.9 L1426.6,186.3 L1427.5,184.7 L1428.5,183.1 L1429.5,181.6 L1430.4,180.0 L1431.4,178.5 L1432.4,177.0 L1433.3,175.5 L1434.3,174.0 L1435.3,172.5 L1436.2,171.0 L1437.2,169.4 L1438.2,167.8 L1439.1,166.2 L1440.1,164.5 L1441.1,162.8 L1442.0,161.1 L1443.0,159.3 L1444.0,157.6 L1444.9,155.9 L1445.9,154.3 L1446.9,152.7 L1447.8,151.1 L1448.8,149.7 L1449.8,148.3 L1450.7,147.0 L1451.7,145.9 L1452.7,144.8 L1453.6,143.9 L1454.6,143.2 L1455.6,142.6 L1456.5,142.0 L1457.5,141.6 L1458.5,141.1 L1459.4,140.8 L1460.4,140.4 L1461.4,140.1 L1462.3,139.7 L1463.3,139.4 L1464.3,139.0 L1465.2,138.7 L1466.2,138.4 L1467.2,138.0 L1468.1,137.7 L1469.1,137.4 L1470.1,137.1 L1471.0,136.7 L1472.0,136.4 L1473.0,136.1 L1473.9,135.8 L1474.9,135.5 L1475.9,135.2 L1476.8,134.9 L1477.8,134.6 L1478.8,134.3 L1479.7,134.0 L1480.7,133.7 L1481.7,133.4 L1482.6,133.1 L1483.6,132.8 L1484.6,132.5 L1485.5,132.2 L1486.5,132.0 L1487.5,131.7 L1488.4,131.4 L1489.4,131.1 L1490.4,130.9 L1491.3,130.6 L1492.3,130.3 L1493.3,130.1 L1494.2,129.8 L1495.2,129.5 L1496.2,129.3 L1497.1,129.0 L1498.1,128.8 L1499.1,128.5 L1500.0,128.3 L1501.0,128.0 L1502.0,127.8 L1502.9,127.5 L1503.9,127.3 L1504.9,127.0 L1505.8,126.8 L1506.8,126.6 L1507.8,126.3 L1508.7,126.1 L1509.7,125.8 L1510.7,125.6 L1511.6,125.4 L1512.6,125.2 L1513.6,124.9 L1514.5,124.7 L1515.5,124.5 L1516.5,124.2 L1517.4,124.0 L1518.4,123.8 L1519.4,123.6 L1520.3,123.4 L1521.3,123.1 L1522.3,122.9 L1523.2,122.7 L1524.2,122.5 L1525.2,122.3 L1526.1,122.1 L1527.1,121.9 L1528.1,121.7 L1529.0,121.4 L1530.0,121.2 L1531.0,121.0 L1531.9,120.8 L1532.9,120.6 L1533.8,120.4 L1534.8,120.2 L1535.8,120.0 L1536.7,119.8 L1537.7,119.6 L1538.7,119.4 L1539.6,119.2 L1540.6,119.0 L1541.6,118.8 L1542.5,118.6 L1543.5,118.4 L1544.5,118.2 L1545.4,118.0 L1546.4,117.8 L1547.4,117.6 L1548.3,117.4 L1549.3,117.2 L1550.3,117.0 L1551.2,116.8 L1552.2,116.6 L1553.2,116.4 L1554.1,116.2 L1555.1,116.0 L1556.1,115.9 L1557.0,115.7 L1558.0,115.5 L1559.0,115.3 L1559.9,115.1 L1560.9,114.9 L1561.9,114.7 L1562.8,114.5 L1563.8,114.3 L1564.8,114.1 L1565.7,113.9 L1566.7,113.7 L1567.7,113.5 L1568.6,113.3 L1569.6,113.1 L1570.6,112.9 L1571.5,112.7 L1572.5,112.5 L1573.5,112.3 L1574.4,112.1 L1575.4,111.9 L1576.4,111.7 L1577.3,111.5 L1578.3,111.3 L1579.3,111.1 L1580.2,110.9 L1581.2,110.7 L1582.2,110.5 L1583.1,110.3 L1584.1,110.1 L1585.1,109.9 L1586.0,109.7 L1587.0,109.5 L1588.0,109.3 L1588.9,109.1 L1589.9,108.9 L1590.9,108.7 L1591.8,108.5 L1592.8,108.3 L1593.8,108.1 L1594.7,107.8 L1595.7,107.6 L1596.7,107.4 L1597.6,107.2 L1598.6,107.0 L1599.6,106.8 L1600.5,106.5 L1601.5,106.3 L1602.5,106.1 L1603.4,105.9 L1604.4,105.6" fill="none" stroke="#f08a1e" stroke-width="2.60" stroke-linejoin="round" stroke-dasharray="11,4,3,4"/>
<path d="M1025.5,96.1 L1026.5,96.5 L1027.4,97.0 L1028.4,97.6 L1029.4,98.1 L1030.3,98.7 L1031.3,99.2 L1032.3,99.9 L1033.2,100.5 L1034.2,101.2 L1035.2,101.8 L1036.1,102.5 L1037.1,103.3 L1038.1,104.0 L1039.0,104.8 L1040.0,105.5 L1041.0,106.4 L1041.9,107.2 L1042.9,108.0 L1043.9,108.9 L1044.8,109.8 L1045.8,110.7 L1046.8,111.6 L1047.7,112.6 L1048.7,113.6 L1049.7,114.6 L1050.6,115.6 L1051.6,116.6 L1052.6,117.7 L1053.5,118.7 L1054.5,119.8 L1055.5,120.9 L1056.4,122.1 L1057.4,123.2 L1058.4,124.4 L1059.3,125.6 L1060.3,126.8 L1061.3,128.0 L1062.2,129.3 L1063.2,130.5 L1064.2,131.8 L1065.1,133.1 L1066.1,134.4 L1067.1,135.8 L1068.0,137.1 L1069.0,138.5 L1070.0,139.9 L1070.9,141.3 L1071.9,142.7 L1072.9,144.2 L1073.8,145.6 L1074.8,147.1 L1075.8,148.6 L1076.7,150.1 L1077.7,151.6 L1078.7,153.2 L1079.6,154.7 L1080.6,156.3 L1081.6,157.9 L1082.5,159.5 L1083.5,161.1 L1084.5,162.8 L1085.4,164.4 L1086.4,166.1 L1087.4,167.8 L1088.3,169.5 L1089.3,171.2 L1090.3,172.9 L1091.2,174.7 L1092.2,176.4 L1093.2,178.2 L1094.1,180.0 L1095.1,181.8 L1096.1,183.6 L1097.0,185.4 L1098.0,187.3 L1098.9,189.1 L1099.9,191.0 L1100.9,192.9 L1101.8,194.8 L1102.8,196.7 L1103.8,198.6 L1104.7,200.6 L1105.7,202.5 L1106.7,204.5 L1107.6,206.5 L1108.6,208.5 L1109.6,210.5 L1110.5,212.5 L1111.5,214.5 L1112.5,216.6 L1113.4,218.6 L1114.4,220.7 L1115.4,222.7 L1116.3,224.8 L1117.3,226.9 L1118.3,229.0 L1119.2,231.2 L1120.2,233.3 L1121.2,235.4 L1122.1,237.6 L1123.1,239.8 L1124.1,241.9 L1125.0,244.1 L1126.0,246.3 L1127.0,248.5 L1127.9,250.8 L1128.9,253.0 L1129.9,255.2 L1130.8,257.5 L1131.8,259.8 L1132.8,262.0 L1133.7,264.3 L1134.7,266.7 L1135.7,269.0 L1136.6,271.3 L1137.6,273.7 L1138.6,276.0 L1139.5,278.4 L1140.5,280.8 L1141.5,283.2 L1142.4,285.6 L1143.4,288.1 L1144.4,290.5 L1145.3,293.0 L1146.3,295.5 L1147.3,298.0 L1148.2,300.5 L1149.2,303.0 L1150.2,305.5 L1151.1,308.1 L1152.1,310.7 L1153.1,313.3 L1154.0,315.9 L1155.0,318.5 L1156.0,321.2 L1156.9,323.8 L1157.9,326.5 L1158.9,329.2 L1159.8,331.9 L1160.8,334.6 L1161.8,337.4 L1162.7,340.1 L1163.7,342.9 L1164.7,345.6 L1165.6,348.4 L1166.6,351.2 L1167.6,354.0 L1168.5,356.7 L1169.5,359.5 L1170.5,362.3 L1171.4,365.1 L1172.4,367.9 L1173.4,370.7 L1174.3,373.4 L1175.3,376.2 L1176.3,379.0 L1177.2,381.6 L1178.2,384.0 L1179.2,386.1 L1180.1,387.7 L1181.1,388.6 L1182.1,388.8 L1183.0,388.3 L1184.0,387.2 L1185.0,385.5 L1185.9,383.3 L1186.9,380.7 L1187.9,377.9 L1188.8,374.8 L1189.8,371.6 L1190.8,368.3 L1191.7,365.1 L1192.7,361.8 L1193.7,358.5 L1194.6,355.1 L1195.6,351.8 L1196.6,348.5 L1197.5,345.2 L1198.5,341.9 L1199.5,338.6 L1200.4,335.3 L1201.4,332.1 L1202.4,328.8 L1203.3,325.6 L1204.3,322.5 L1205.3,319.3 L1206.2,316.2 L1207.2,313.1 L1208.2,310.1 L1209.1,307.1 L1210.1,304.1 L1211.1,301.1 L1212.0,298.1 L1213.0,295.2 L1214.0,292.2 L1214.9,289.3 L1215.9,286.4 L1216.9,283.5 L1217.8,280.7 L1218.8,277.8 L1219.8,274.9 L1220.7,272.1 L1221.7,269.2 L1222.7,266.4 L1223.6,263.6 L1224.6,260.8 L1225.6,258.0 L1226.5,255.2 L1227.5,252.5 L1228.5,249.8 L1229.4,247.0 L1230.4,244.3 L1231.4,241.7 L1232.3,239.0 L1233.3,236.4 L1234.3,233.8 L1235.2,231.2 L1236.2,228.6 L1237.2,226.0 L1238.1,223.5 L1239.1,221.0 L1240.1,218.5 L1241.0,216.0 L1242.0,213.6 L1242.9,211.2 L1243.9,208.8 L1244.9,206.4 L1245.8,204.0 L1246.8,201.7 L1247.8,199.3 L1248.7,197.0 L1249.7,194.7 L1250.7,192.4 L1251.6,190.2 L1252.6,187.9 L1253.6,185.7 L1254.5,183.5 L1255.5,181.3 L1256.5,179.2 L1257.4,177.0 L1258.4,174.9 L1259.4,172.7 L1260.3,170.6 L1261.3,168.6 L1262.3,166.5 L1263.2,164.4 L1264.2,162.4 L1265.2,160.4 L1266.1,158.3 L1267.1,156.3 L1268.1,154.4 L1269.0,152.4 L1270.0,150.4 L1271.0,148.5 L1271.9,146.6 L1272.9,144.7 L1273.9,142.8 L1274.8,140.9 L1275.8,139.0 L1276.8,137.1 L1277.7,135.3 L1278.7,133.4 L1279.7,131.6 L1280.6,129.8 L1281.6,128.0 L1282.6,126.2 L1283.5,124.4 L1284.5,122.7 L1285.5,120.9 L1286.4,119.2 L1287.4,117.4 L1288.4,115.7 L1289.3,114.0 L1290.3,112.3 L1291.3,110.6 L1292.2,108.9 L1293.2,107.2 L1294.2,105.5 L1295.1,103.8 L1296.1,102.2 L1297.1,100.5 L1298.0,98.9 L1299.0,97.2 L1300.0,95.6 L1300.9,94.0 L1301.9,92.3 L1302.9,90.7 L1303.8,89.1 L1304.8,87.5 L1305.8,85.9 L1306.7,84.3 L1307.7,82.7 L1308.7,81.1 L1309.6,79.6 L1310.6,78.0 L1311.6,76.5 L1312.5,75.0 L1313.5,73.5 L1314.5,72.1 L1315.4,70.7 L1316.4,69.4 L1317.4,68.1 L1318.3,66.9 L1319.3,65.7 L1320.3,64.6 L1321.2,63.6 L1322.2,62.6 L1323.2,61.7 L1324.1,60.9 L1325.1,60.1 L1326.1,59.5 L1327.0,58.9 L1328.0,58.4 L1329.0,57.9 L1329.9,57.6 L1330.9,57.4 L1331.9,57.2 L1332.8,57.1 L1333.8,57.2 L1334.8,57.3 L1335.7,57.6 L1336.7,58.1 L1337.7,58.6 L1338.6,59.4 L1339.6,60.3 L1340.6,61.4 L1341.5,62.7 L1342.5,64.2 L1343.5,66.0 L1344.4,68.1 L1345.4,70.6 L1346.4,73.7 L1347.3,77.3 L1348.3,81.7 L1349.3,87.0 L1350.2,93.0 L1351.2,99.9 L1352.2,107.5 L1353.1,115.8 L1354.1,124.7 L1355.1,134.1 L1356.0,144.1 L1357.0,154.5 L1358.0,165.4 L1358.9,176.5 L1359.9,188.0 L1360.9,199.7 L1361.8,211.6 L1362.8,223.6 L1363.8,235.7 L1364.7,247.8 L1365.7,259.8 L1366.7,271.7 L1367.6,283.4 L1368.6,294.6 L1369.6,305.3 L1370.5,315.3 L1371.5,324.6 L1372.5,333.0 L1373.4,340.4 L1374.4,346.7 L1375.4,351.8 L1376.3,355.4 L1377.3,357.6 L1378.3,357.8 L1379.2,355.8 L1380.2,351.2 L1381.2,343.7 L1382.1,334.3 L1383.1,324.6 L1384.1,315.5 L1385.0,306.8 L1386.0,298.7 L1387.0,291.0 L1387.9,283.8 L1388.9,277.0 L1389.8,270.7 L1390.8,264.9 L1391.8,259.5 L1392.7,254.5 L1393.7,249.7 L1394.7,245.3 L1395.6,241.0 L1396.6,237.0 L1397.6,233.1 L1398.5,229.3 L1399.5,225.5 L1400.5,221.8 L1401.4,218.2 L1402.4,214.6 L1403.4,211.1 L1404.3,207.6 L1405.3,204.2 L1406.3,200.8 L1407.2,197.4 L1408.2,194.1 L1409.2,190.9 L1410.1,187.6 L1411.1,184.5 L1412.1,181.3 L1413.0,178.2 L1414.0,175.2 L1415.0,172.2 L1415.9,169.2 L1416.9,166.3 L1417.9,163.4 L1418.8,160.6 L1419.8,157.8 L1420.8,155.2 L1421.7,152.5 L1422.7,149.9 L1423.7,147.4 L1424.6,145.0 L1425.6,142.6 L1426.6,140.3 L1427.5,138.1 L1428.5,136.0 L1429.5,133.9 L1430.4,131.9 L1431.4,130.0 L1432.4,128.2 L1433.3,126.5 L1434.3,124.8 L1435.3,123.3 L1436.2,121.8 L1437.2,120.3 L1438.2,119.0 L1439.1,117.6 L1440.1,116.3 L1441.1,115.0 L1442.0,113.7 L1443.0,112.3 L1444.0,111.0 L1444.9,109.6 L1445.9,108.1 L1446.9,106.7 L1447.8,105.1 L1448.8,103.6 L1449.8,102.1 L1450.7,100.6 L1451.7,99.2 L1452.7,97.9 L1453.6,96.7 L1454.6,95.6 L1455.6,94.8 L1456.5,94.1 L1457.5,93.6 L1458.5,93.4 L1459.4,93.3 L1460.4,93.3 L1461.4,93.4 L1462.3,93.7 L1463.3,94.0 L1464.3,94.3 L1465.2,94.6 L1466.2,95.0 L1467.2,95.3 L1468.1,95.6 L1469.1,95.8 L1470.1,96.0 L1471.0,96.0 L1472.0,96.0 L1473.0,95.9 L1473.9,95.8 L1474.9,95.6 L1475.9,95.3 L1476.8,95.1 L1477.8,94.8 L1478.8,94.5 L1479.7,94.2 L1480.7,93.9 L1481.7,93.7 L1482.6,93.5 L1483.6,93.3 L1484.6,93.1 L1485.5,92.9 L1486.5,92.8 L1487.5,92.7 L1488.4,92.6 L1489.4,92.5 L1490.4,92.4 L1491.3,92.4 L1492.3,92.3 L1493.3,92.3 L1494.2,92.3 L1495.2,92.3 L1496.2,92.3 L1497.1,92.3 L1498.1,92.3 L1499.1,92.3 L1500.0,92.3 L1501.0,92.3 L1502.0,92.4 L1502.9,92.4 L1503.9,92.4 L1504.9,92.5 L1505.8,92.5 L1506.8,92.5 L1507.8,92.5 L1508.7,92.5 L1509.7,92.5 L1510.7,92.5 L1511.6,92.5 L1512.6,92.5 L1513.6,92.5 L1514.5,92.5 L1515.5,92.5 L1516.5,92.4 L1517.4,92.4 L1518.4,92.3 L1519.4,92.3 L1520.3,92.2 L1521.3,92.2 L1522.3,92.1 L1523.2,92.1 L1524.2,92.0 L1525.2,91.9 L1526.1,91.9 L1527.1,91.8 L1528.1,91.7 L1529.0,91.6 L1530.0,91.6 L1531.0,91.5 L1531.9,91.4 L1532.9,91.3 L1533.8,91.2 L1534.8,91.1 L1535.8,91.0 L1536.7,90.9 L1537.7,90.9 L1538.7,90.8 L1539.6,90.7 L1540.6,90.6 L1541.6,90.5 L1542.5,90.4 L1543.5,90.3 L1544.5,90.2 L1545.4,90.1 L1546.4,90.0 L1547.4,89.9 L1548.3,89.8 L1549.3,89.8 L1550.3,89.7 L1551.2,89.6 L1552.2,89.5 L1553.2,89.4 L1554.1,89.3 L1555.1,89.1 L1556.1,89.0 L1557.0,88.9 L1558.0,88.8 L1559.0,88.7 L1559.9,88.6 L1560.9,88.5 L1561.9,88.4 L1562.8,88.3 L1563.8,88.1 L1564.8,88.0 L1565.7,87.9 L1566.7,87.8 L1567.7,87.6 L1568.6,87.5 L1569.6,87.4 L1570.6,87.2 L1571.5,87.1 L1572.5,86.9 L1573.5,86.8 L1574.4,86.7 L1575.4,86.5 L1576.4,86.3 L1577.3,86.2 L1578.3,86.0 L1579.3,85.9 L1580.2,85.7 L1581.2,85.5 L1582.2,85.4 L1583.1,85.2 L1584.1,85.0 L1585.1,84.8 L1586.0,84.6 L1587.0,84.4 L1588.0,84.2 L1588.9,84.0 L1589.9,83.8 L1590.9,83.6 L1591.8,83.4 L1592.8,83.2 L1593.8,83.0 L1594.7,82.8 L1595.7,82.5 L1596.7,82.3 L1597.6,82.1 L1598.6,81.8 L1599.6,81.6 L1600.5,81.3 L1601.5,81.1 L1602.5,80.8 L1603.4,80.5 L1604.4,80.3" fill="none" stroke="#2b2b2b" stroke-width="2.40" stroke-linejoin="round"/>
<path d="M1025.5,87.5 L1026.5,88.1 L1027.4,88.6 L1028.4,89.2 L1029.4,89.8 L1030.3,90.4 L1031.3,91.0 L1032.3,91.7 L1033.2,92.3 L1034.2,93.0 L1035.2,93.7 L1036.1,94.4 L1037.1,95.1 L1038.1,95.8 L1039.0,96.5 L1040.0,97.3 L1041.0,98.1 L1041.9,98.8 L1042.9,99.6 L1043.9,100.5 L1044.8,101.3 L1045.8,102.1 L1046.8,103.0 L1047.7,103.8 L1048.7,104.7 L1049.7,105.6 L1050.6,106.5 L1051.6,107.4 L1052.6,108.4 L1053.5,109.3 L1054.5,110.3 L1055.5,111.3 L1056.4,112.3 L1057.4,113.3 L1058.4,114.3 L1059.3,115.4 L1060.3,116.4 L1061.3,117.5 L1062.2,118.6 L1063.2,119.7 L1064.2,120.8 L1065.1,121.9 L1066.1,123.0 L1067.1,124.2 L1068.0,125.3 L1069.0,126.5 L1070.0,127.7 L1070.9,128.9 L1071.9,130.2 L1072.9,131.4 L1073.8,132.7 L1074.8,133.9 L1075.8,135.2 L1076.7,136.5 L1077.7,137.8 L1078.7,139.1 L1079.6,140.5 L1080.6,141.8 L1081.6,143.2 L1082.5,144.6 L1083.5,146.0 L1084.5,147.4 L1085.4,148.8 L1086.4,150.3 L1087.4,151.7 L1088.3,153.2 L1089.3,154.7 L1090.3,156.2 L1091.2,157.7 L1092.2,159.2 L1093.2,160.7 L1094.1,162.3 L1095.1,163.8 L1096.1,165.4 L1097.0,167.0 L1098.0,168.6 L1098.9,170.3 L1099.9,171.9 L1100.9,173.6 L1101.8,175.2 L1102.8,176.9 L1103.8,178.6 L1104.7,180.3 L1105.7,182.0 L1106.7,183.8 L1107.6,185.5 L1108.6,187.3 L1109.6,189.1 L1110.5,190.9 L1111.5,192.7 L1112.5,194.5 L1113.4,196.3 L1114.4,198.2 L1115.4,200.1 L1116.3,201.9 L1117.3,203.8 L1118.3,205.8 L1119.2,207.7 L1120.2,209.6 L1121.2,211.6 L1122.1,213.5 L1123.1,215.5 L1124.1,217.5 L1125.0,219.5 L1126.0,221.5 L1127.0,223.6 L1127.9,225.6 L1128.9,227.7 L1129.9,229.8 L1130.8,231.9 L1131.8,234.0 L1132.8,236.1 L1133.7,238.3 L1134.7,240.4 L1135.7,242.6 L1136.6,244.7 L1137.6,246.9 L1138.6,249.2 L1139.5,251.4 L1140.5,253.6 L1141.5,255.9 L1142.4,258.1 L1143.4,260.4 L1144.4,262.7 L1145.3,265.0 L1146.3,267.3 L1147.3,269.7 L1148.2,272.0 L1149.2,274.4 L1150.2,276.8 L1151.1,279.2 L1152.1,281.6 L1153.1,284.0 L1154.0,286.5 L1155.0,289.0 L1156.0,291.4 L1156.9,293.9 L1157.9,296.5 L1158.9,299.0 L1159.8,301.6 L1160.8,304.2 L1161.8,306.8 L1162.7,309.4 L1163.7,312.0 L1164.7,314.7 L1165.6,317.4 L1166.6,320.1 L1167.6,322.9 L1168.5,325.6 L1169.5,328.4 L1170.5,331.2 L1171.4,334.1 L1172.4,336.9 L1173.4,339.8 L1174.3,342.7 L1175.3,345.6 L1176.3,348.6 L1177.2,351.6 L1178.2,354.6 L1179.2,357.6 L1180.1,360.5 L1181.1,363.4 L1182.1,366.3 L1183.0,369.2 L1184.0,371.9 L1185.0,374.6 L1185.9,377.2 L1186.9,379.6 L1187.9,381.7 L1188.8,383.6 L1189.8,385.0 L1190.8,385.9 L1191.7,386.3 L1192.7,386.0 L1193.7,385.1 L1194.6,383.7 L1195.6,381.9 L1196.6,379.6 L1197.5,377.1 L1198.5,374.3 L1199.5,371.5 L1200.4,368.5 L1201.4,365.6 L1202.4,362.6 L1203.3,359.7 L1204.3,356.7 L1205.3,353.8 L1206.2,350.8 L1207.2,347.8 L1208.2,344.9 L1209.1,341.9 L1210.1,338.9 L1211.1,335.9 L1212.0,333.0 L1213.0,330.0 L1214.0,327.0 L1214.9,324.0 L1215.9,321.1 L1216.9,318.1 L1217.8,315.1 L1218.8,312.2 L1219.8,309.2 L1220.7,306.3 L1221.7,303.3 L1222.7,300.4 L1223.6,297.5 L1224.6,294.5 L1225.6,291.6 L1226.5,288.7 L1227.5,285.8 L1228.5,282.9 L1229.4,280.0 L1230.4,277.2 L1231.4,274.3 L1232.3,271.5 L1233.3,268.6 L1234.3,265.8 L1235.2,263.0 L1236.2,260.2 L1237.2,257.4 L1238.1,254.7 L1239.1,251.9 L1240.1,249.2 L1241.0,246.4 L1242.0,243.7 L1242.9,241.0 L1243.9,238.3 L1244.9,235.6 L1245.8,233.0 L1246.8,230.3 L1247.8,227.6 L1248.7,225.0 L1249.7,222.4 L1250.7,219.8 L1251.6,217.2 L1252.6,214.6 L1253.6,212.0 L1254.5,209.4 L1255.5,206.9 L1256.5,204.3 L1257.4,201.8 L1258.4,199.3 L1259.4,196.8 L1260.3,194.3 L1261.3,191.8 L1262.3,189.3 L1263.2,186.8 L1264.2,184.4 L1265.2,181.9 L1266.1,179.5 L1267.1,177.1 L1268.1,174.7 L1269.0,172.3 L1270.0,169.9 L1271.0,167.5 L1271.9,165.1 L1272.9,162.7 L1273.9,160.4 L1274.8,158.1 L1275.8,155.7 L1276.8,153.4 L1277.7,151.1 L1278.7,148.9 L1279.7,146.6 L1280.6,144.4 L1281.6,142.2 L1282.6,140.0 L1283.5,137.8 L1284.5,135.7 L1285.5,133.6 L1286.4,131.5 L1287.4,129.5 L1288.4,127.5 L1289.3,125.5 L1290.3,123.5 L1291.3,121.6 L1292.2,119.7 L1293.2,117.9 L1294.2,116.1 L1295.1,114.3 L1296.1,112.6 L1297.1,111.0 L1298.0,109.3 L1299.0,107.8 L1300.0,106.2 L1300.9,104.7 L1301.9,103.3 L1302.9,101.9 L1303.8,100.6 L1304.8,99.3 L1305.8,98.1 L1306.7,97.0 L1307.7,95.9 L1308.7,94.8 L1309.6,93.8 L1310.6,92.9 L1311.6,92.1 L1312.5,91.3 L1313.5,90.6 L1314.5,89.9 L1315.4,89.3 L1316.4,88.8 L1317.4,88.4 L1318.3,88.0 L1319.3,87.7 L1320.3,87.5 L1321.2,87.4 L1322.2,87.3 L1323.2,87.3 L1324.1,87.4 L1325.1,87.6 L1326.1,87.9 L1327.0,88.3 L1328.0,88.8 L1329.0,89.4 L1329.9,90.0 L1330.9,90.8 L1331.9,91.7 L1332.8,92.7 L1333.8,93.8 L1334.8,95.0 L1335.7,96.4 L1336.7,97.8 L1337.7,99.4 L1338.6,101.1 L1339.6,103.0 L1340.6,104.9 L1341.5,107.0 L1342.5,109.2 L1343.5,111.6 L1344.4,114.1 L1345.4,116.7 L1346.4,119.5 L1347.3,122.4 L1348.3,125.3 L1349.3,128.4 L1350.2,131.6 L1351.2,134.8 L1352.2,138.1 L1353.1,141.5 L1354.1,144.9 L1355.1,148.4 L1356.0,151.9 L1357.0,155.4 L1358.0,159.0 L1358.9,162.5 L1359.9,166.1 L1360.9,169.6 L1361.8,173.2 L1362.8,176.7 L1363.8,180.1 L1364.7,183.6 L1365.7,186.9 L1366.7,190.2 L1367.6,193.5 L1368.6,196.7 L1369.6,199.7 L1370.5,202.8 L1371.5,205.7 L1372.5,208.6 L1373.4,211.3 L1374.4,214.0 L1375.4,216.6 L1376.3,219.1 L1377.3,221.5 L1378.3,223.8 L1379.2,226.0 L1380.2,228.1 L1381.2,230.2 L1382.1,232.0 L1383.1,233.8 L1384.1,235.5 L1385.0,237.1 L1386.0,239.3 L1387.0,242.5 L1387.9,247.3 L1388.9,253.4 L1389.8,260.3 L1390.8,267.8 L1391.8,275.3 L1392.7,282.4 L1393.7,288.6 L1394.7,293.4 L1395.6,296.2 L1396.6,297.2 L1397.6,296.7 L1398.5,294.9 L1399.5,292.1 L1400.5,288.5 L1401.4,284.4 L1402.4,280.1 L1403.4,275.6 L1404.3,271.0 L1405.3,266.3 L1406.3,261.5 L1407.2,256.7 L1408.2,251.8 L1409.2,247.0 L1410.1,242.2 L1411.1,237.4 L1412.1,232.8 L1413.0,228.2 L1414.0,223.8 L1415.0,219.5 L1415.9,215.4 L1416.9,211.4 L1417.9,207.6 L1418.8,203.9 L1419.8,200.3 L1420.8,196.9 L1421.7,193.6 L1422.7,190.3 L1423.7,187.2 L1424.6,184.2 L1425.6,181.2 L1426.6,178.4 L1427.5,175.6 L1428.5,172.9 L1429.5,170.2 L1430.4,167.6 L1431.4,165.0 L1432.4,162.4 L1433.3,159.9 L1434.3,157.4 L1435.3,154.9 L1436.2,152.4 L1437.2,150.0 L1438.2,147.5 L1439.1,145.0 L1440.1,142.5 L1441.1,139.9 L1442.0,137.3 L1443.0,134.7 L1444.0,132.0 L1444.9,129.3 L1445.9,126.4 L1446.9,123.6 L1447.8,120.7 L1448.8,117.8 L1449.8,115.0 L1450.7,112.3 L1451.7,109.7 L1452.7,107.4 L1453.6,105.2 L1454.6,103.4 L1455.6,101.9 L1456.5,100.7 L1457.5,99.8 L1458.5,99.2 L1459.4,98.8 L1460.4,98.7 L1461.4,98.7 L1462.3,98.9 L1463.3,99.3 L1464.3,99.7 L1465.2,100.3 L1466.2,100.8 L1467.2,101.4 L1468.1,102.0 L1469.1,102.5 L1470.1,102.8 L1471.0,103.1 L1472.0,103.1 L1473.0,103.1 L1473.9,102.9 L1474.9,102.6 L1475.9,102.2 L1476.8,101.8 L1477.8,101.4 L1478.8,100.9 L1479.7,100.5 L1480.7,100.1 L1481.7,99.7 L1482.6,99.4 L1483.6,99.1 L1484.6,98.8 L1485.5,98.6 L1486.5,98.4 L1487.5,98.2 L1488.4,98.1 L1489.4,97.9 L1490.4,97.8 L1491.3,97.8 L1492.3,97.7 L1493.3,97.7 L1494.2,97.7 L1495.2,97.7 L1496.2,97.7 L1497.1,97.8 L1498.1,97.8 L1499.1,97.9 L1500.0,97.9 L1501.0,98.0 L1502.0,98.1 L1502.9,98.1 L1503.9,98.2 L1504.9,98.3 L1505.8,98.4 L1506.8,98.5 L1507.8,98.5 L1508.7,98.6 L1509.7,98.7 L1510.7,98.7 L1511.6,98.8 L1512.6,98.8 L1513.6,98.8 L1514.5,98.9 L1515.5,98.9 L1516.5,98.9 L1517.4,98.9 L1518.4,98.9 L1519.4,98.9 L1520.3,98.9 L1521.3,98.9 L1522.3,98.9 L1523.2,98.9 L1524.2,98.9 L1525.2,98.8 L1526.1,98.8 L1527.1,98.8 L1528.1,98.7 L1529.0,98.7 L1530.0,98.6 L1531.0,98.6 L1531.9,98.5 L1532.9,98.5 L1533.8,98.4 L1534.8,98.3 L1535.8,98.3 L1536.7,98.2 L1537.7,98.1 L1538.7,98.1 L1539.6,98.0 L1540.6,97.9 L1541.6,97.8 L1542.5,97.7 L1543.5,97.6 L1544.5,97.6 L1545.4,97.5 L1546.4,97.4 L1547.4,97.3 L1548.3,97.2 L1549.3,97.1 L1550.3,97.0 L1551.2,96.9 L1552.2,96.8 L1553.2,96.7 L1554.1,96.6 L1555.1,96.5 L1556.1,96.4 L1557.0,96.3 L1558.0,96.2 L1559.0,96.1 L1559.9,96.0 L1560.9,95.9 L1561.9,95.8 L1562.8,95.7 L1563.8,95.6 L1564.8,95.5 L1565.7,95.4 L1566.7,95.3 L1567.7,95.2 L1568.6,95.1 L1569.6,95.0 L1570.6,94.9 L1571.5,94.9 L1572.5,94.8 L1573.5,94.7 L1574.4,94.6 L1575.4,94.5 L1576.4,94.5 L1577.3,94.4 L1578.3,94.3 L1579.3,94.2 L1580.2,94.2 L1581.2,94.1 L1582.2,94.1 L1583.1,94.0 L1584.1,93.9 L1585.1,93.9 L1586.0,93.9 L1587.0,93.8 L1588.0,93.8 L1588.9,93.7 L1589.9,93.7 L1590.9,93.7 L1591.8,93.7 L1592.8,93.7 L1593.8,93.6 L1594.7,93.6 L1595.7,93.6 L1596.7,93.6 L1597.6,93.6 L1598.6,93.7 L1599.6,93.7 L1600.5,93.7 L1601.5,93.7 L1602.5,93.8 L1603.4,93.8 L1604.4,93.9" fill="none" stroke="#f08a1e" stroke-width="2.60" stroke-linejoin="round" stroke-dasharray="11,4,3,4"/>
<rect x="1025.5" y="38.2" width="578.9" height="359.2" fill="none" stroke="#3a3a3a" stroke-width="2.2"/>
<line x1="1025.5" y1="397.4" x2="1025.5" y2="391.4" stroke="#3a3a3a" stroke-width="1.6"/>
<line x1="1073.7" y1="397.4" x2="1073.7" y2="393.4" stroke="#3a3a3a" stroke-width="1.6"/>
<line x1="1122.0" y1="397.4" x2="1122.0" y2="391.4" stroke="#3a3a3a" stroke-width="1.6"/>
<line x1="1170.2" y1="397.4" x2="1170.2" y2="393.4" stroke="#3a3a3a" stroke-width="1.6"/>
<line x1="1218.5" y1="397.4" x2="1218.5" y2="391.4" stroke="#3a3a3a" stroke-width="1.6"/>
<line x1="1266.7" y1="397.4" x2="1266.7" y2="393.4" stroke="#3a3a3a" stroke-width="1.6"/>
<line x1="1315.0" y1="397.4" x2="1315.0" y2="391.4" stroke="#3a3a3a" stroke-width="1.6"/>
<line x1="1363.2" y1="397.4" x2="1363.2" y2="393.4" stroke="#3a3a3a" stroke-width="1.6"/>
<line x1="1411.4" y1="397.4" x2="1411.4" y2="391.4" stroke="#3a3a3a" stroke-width="1.6"/>
<line x1="1459.7" y1="397.4" x2="1459.7" y2="393.4" stroke="#3a3a3a" stroke-width="1.6"/>
<line x1="1507.9" y1="397.4" x2="1507.9" y2="391.4" stroke="#3a3a3a" stroke-width="1.6"/>
<line x1="1556.2" y1="397.4" x2="1556.2" y2="393.4" stroke="#3a3a3a" stroke-width="1.6"/>
<line x1="1604.4" y1="397.4" x2="1604.4" y2="391.4" stroke="#3a3a3a" stroke-width="1.6"/>
<line x1="1025.5" y1="397.4" x2="1031.5" y2="397.4" stroke="#3a3a3a" stroke-width="1.6"/>
<line x1="1025.5" y1="361.5" x2="1029.5" y2="361.5" stroke="#3a3a3a" stroke-width="1.6"/>
<line x1="1025.5" y1="325.6" x2="1031.5" y2="325.6" stroke="#3a3a3a" stroke-width="1.6"/>
<line x1="1025.5" y1="289.6" x2="1029.5" y2="289.6" stroke="#3a3a3a" stroke-width="1.6"/>
<line x1="1025.5" y1="253.7" x2="1031.5" y2="253.7" stroke="#3a3a3a" stroke-width="1.6"/>
<line x1="1025.5" y1="217.8" x2="1029.5" y2="217.8" stroke="#3a3a3a" stroke-width="1.6"/>
<line x1="1025.5" y1="181.9" x2="1031.5" y2="181.9" stroke="#3a3a3a" stroke-width="1.6"/>
<line x1="1025.5" y1="146.0" x2="1029.5" y2="146.0" stroke="#3a3a3a" stroke-width="1.6"/>
<line x1="1025.5" y1="110.0" x2="1031.5" y2="110.0" stroke="#3a3a3a" stroke-width="1.6"/>
<line x1="1025.5" y1="74.1" x2="1029.5" y2="74.1" stroke="#3a3a3a" stroke-width="1.6"/>
<line x1="1025.5" y1="38.2" x2="1031.5" y2="38.2" stroke="#3a3a3a" stroke-width="1.6"/>
<text transform="translate(1025.5,422.5) scale(1,1.14)" font-size="21.5" text-anchor="middle" fill="#1a1a1a">0.2</text>
<text transform="translate(1122.0,422.5) scale(1,1.14)" font-size="21.5" text-anchor="middle" fill="#1a1a1a">0.3</text>
<text transform="translate(1218.5,422.5) scale(1,1.14)" font-size="21.5" text-anchor="middle" fill="#1a1a1a">0.4</text>
<text transform="translate(1315.0,422.5) scale(1,1.14)" font-size="21.5" text-anchor="middle" fill="#1a1a1a">0.5</text>
<text transform="translate(1411.4,422.5) scale(1,1.14)" font-size="21.5" text-anchor="middle" fill="#1a1a1a">0.6</text>
<text transform="translate(1507.9,422.5) scale(1,1.14)" font-size="21.5" text-anchor="middle" fill="#1a1a1a">0.7</text>
<text transform="translate(1604.4,422.5) scale(1,1.14)" font-size="21.5" text-anchor="middle" fill="#1a1a1a">0.8</text>
<text transform="translate(1016.5,405.0) scale(1,1.14)" font-size="21.5" text-anchor="end" fill="#1a1a1a">0.0</text>
<text transform="translate(1016.5,333.2) scale(1,1.14)" font-size="21.5" text-anchor="end" fill="#1a1a1a">0.2</text>
<text transform="translate(1016.5,261.3) scale(1,1.14)" font-size="21.5" text-anchor="end" fill="#1a1a1a">0.4</text>
<text transform="translate(1016.5,189.5) scale(1,1.14)" font-size="21.5" text-anchor="end" fill="#1a1a1a">0.6</text>
<text transform="translate(1016.5,117.6) scale(1,1.14)" font-size="21.5" text-anchor="end" fill="#1a1a1a">0.8</text>
<text transform="translate(1016.5,45.8) scale(1,1.14)" font-size="21.5" text-anchor="end" fill="#1a1a1a">1.0</text>
<text x="0" y="0" font-size="30.5" text-anchor="middle" fill="#111" transform="translate(987.0,202.5) rotate(-90)">Transmission Amplitude</text>
<text x="1314.5" y="454.0" font-size="30.5" text-anchor="middle" font-weight="normal" fill="#111">Frequency (THz)</text>
<text x="1431.3" y="240.9" font-size="22.3" text-anchor="start" font-weight="bold" fill="#000">Conductivity of</text>
<text x="1431.3" y="267.4" font-size="22.3" font-weight="bold">VO<tspan font-size="16" dy="5">2</tspan><tspan dy="-5"> / Ge&#160;&#160; (S/m)</tspan></text>
<line x1="1406.8" y1="296.7" x2="1448.3" y2="296.7" stroke="#2b2b2b" stroke-width="2.6"/>
<text x="1453.8" y="301.4" font-size="21" font-weight="bold" letter-spacing="0.5">2 × 10<tspan font-size="14.5" dy="-10">2</tspan><tspan dy="10"> / 1</tspan></text>
<line x1="1406.8" y1="326.3" x2="1448.3" y2="326.3" stroke="#f08a1e" stroke-width="2.6" stroke-dasharray="11,4,3,4"/>
<text x="1453.8" y="331.0" font-size="21" font-weight="bold" letter-spacing="0.5">2 × 10<tspan font-size="14.5" dy="-10">2</tspan><tspan dy="10"> / 4 × 10</tspan><tspan font-size="14.5" dy="-10">3</tspan></text>
<line x1="1406.8" y1="355.2" x2="1448.3" y2="355.2" stroke="#f08a1e" stroke-width="2.6" stroke-dasharray="11,4,3,4"/>
<text x="1453.8" y="359.9" font-size="21" font-weight="bold" letter-spacing="0.5">2 × 10<tspan font-size="14.5" dy="-10">5</tspan><tspan dy="10"> / 1</tspan></text>
<line x1="1406.8" y1="384.4" x2="1448.3" y2="384.4" stroke="#1a8a1a" stroke-width="2.6"/>
<text x="1453.8" y="389.1" font-size="21" font-weight="bold" letter-spacing="0.5">2 × 10<tspan font-size="14.5" dy="-10">5</tspan><tspan dy="10"> / 4 × 10</tspan><tspan font-size="14.5" dy="-10">3</tspan></text>
<line x1="1070.1" y1="837.7" x2="1070.1" y2="478.6" stroke="#e8e8e8" stroke-width="1.1"/>
<line x1="1118.4" y1="837.7" x2="1118.4" y2="478.6" stroke="#bdbdbd" stroke-width="1.1"/>
<line x1="1166.8" y1="837.7" x2="1166.8" y2="478.6" stroke="#e8e8e8" stroke-width="1.1"/>
<line x1="1215.1" y1="837.7" x2="1215.1" y2="478.6" stroke="#bdbdbd" stroke-width="1.1"/>
<line x1="1263.5" y1="837.7" x2="1263.5" y2="478.6" stroke="#e8e8e8" stroke-width="1.1"/>
<line x1="1311.8" y1="837.7" x2="1311.8" y2="478.6" stroke="#bdbdbd" stroke-width="1.1"/>
<line x1="1360.2" y1="837.7" x2="1360.2" y2="478.6" stroke="#e8e8e8" stroke-width="1.1"/>
<line x1="1408.6" y1="837.7" x2="1408.6" y2="478.6" stroke="#bdbdbd" stroke-width="1.1"/>
<line x1="1456.9" y1="837.7" x2="1456.9" y2="478.6" stroke="#e8e8e8" stroke-width="1.1"/>
<line x1="1505.3" y1="837.7" x2="1505.3" y2="478.6" stroke="#bdbdbd" stroke-width="1.1"/>
<line x1="1553.6" y1="837.7" x2="1553.6" y2="478.6" stroke="#e8e8e8" stroke-width="1.1"/>
<line x1="1021.7" y1="801.8" x2="1602.0" y2="801.8" stroke="#e8e8e8" stroke-width="1.1"/>
<line x1="1021.7" y1="765.9" x2="1602.0" y2="765.9" stroke="#bdbdbd" stroke-width="1.1"/>
<line x1="1021.7" y1="730.0" x2="1602.0" y2="730.0" stroke="#e8e8e8" stroke-width="1.1"/>
<line x1="1021.7" y1="694.1" x2="1602.0" y2="694.1" stroke="#bdbdbd" stroke-width="1.1"/>
<line x1="1021.7" y1="658.2" x2="1602.0" y2="658.2" stroke="#e8e8e8" stroke-width="1.1"/>
<line x1="1021.7" y1="622.2" x2="1602.0" y2="622.2" stroke="#bdbdbd" stroke-width="1.1"/>
<line x1="1021.7" y1="586.3" x2="1602.0" y2="586.3" stroke="#e8e8e8" stroke-width="1.1"/>
<line x1="1021.7" y1="550.4" x2="1602.0" y2="550.4" stroke="#bdbdbd" stroke-width="1.1"/>
<line x1="1021.7" y1="514.5" x2="1602.0" y2="514.5" stroke="#e8e8e8" stroke-width="1.1"/>
<path d="M1021.7,510.5 L1022.7,511.0 L1023.6,511.5 L1024.6,512.0 L1025.6,512.6 L1026.5,513.1 L1027.5,513.6 L1028.5,514.1 L1029.5,514.7 L1030.4,515.2 L1031.4,515.8 L1032.4,516.4 L1033.3,516.9 L1034.3,517.5 L1035.3,518.1 L1036.2,518.7 L1037.2,519.3 L1038.2,519.9 L1039.1,520.5 L1040.1,521.1 L1041.1,521.8 L1042.0,522.4 L1043.0,523.1 L1044.0,523.7 L1045.0,524.4 L1045.9,525.1 L1046.9,525.8 L1047.9,526.5 L1048.8,527.2 L1049.8,527.9 L1050.8,528.7 L1051.7,529.4 L1052.7,530.2 L1053.7,530.9 L1054.6,531.7 L1055.6,532.5 L1056.6,533.3 L1057.5,534.1 L1058.5,535.0 L1059.5,535.8 L1060.5,536.7 L1061.4,537.5 L1062.4,538.4 L1063.4,539.3 L1064.3,540.2 L1065.3,541.2 L1066.3,542.1 L1067.2,543.1 L1068.2,544.0 L1069.2,545.0 L1070.1,546.0 L1071.1,547.0 L1072.1,548.1 L1073.0,549.1 L1074.0,550.2 L1075.0,551.3 L1076.0,552.4 L1076.9,553.5 L1077.9,554.6 L1078.9,555.8 L1079.8,557.0 L1080.8,558.2 L1081.8,559.4 L1082.7,560.6 L1083.7,561.9 L1084.7,563.2 L1085.6,564.5 L1086.6,565.8 L1087.6,567.1 L1088.5,568.5 L1089.5,569.9 L1090.5,571.3 L1091.5,572.7 L1092.4,574.2 L1093.4,575.7 L1094.4,577.2 L1095.3,578.7 L1096.3,580.2 L1097.3,581.8 L1098.2,583.4 L1099.2,585.1 L1100.2,586.7 L1101.1,588.4 L1102.1,590.1 L1103.1,591.9 L1104.0,593.6 L1105.0,595.4 L1106.0,597.3 L1107.0,599.1 L1107.9,601.0 L1108.9,602.9 L1109.9,604.9 L1110.8,606.8 L1111.8,608.9 L1112.8,610.9 L1113.7,613.0 L1114.7,615.1 L1115.7,617.2 L1116.6,619.4 L1117.6,621.6 L1118.6,623.8 L1119.5,626.1 L1120.5,628.4 L1121.5,630.7 L1122.5,633.1 L1123.4,635.5 L1124.4,637.9 L1125.4,640.3 L1126.3,642.8 L1127.3,645.3 L1128.3,647.7 L1129.2,650.3 L1130.2,652.8 L1131.2,655.3 L1132.1,657.8 L1133.1,660.3 L1134.1,662.9 L1135.0,665.4 L1136.0,667.9 L1137.0,670.4 L1138.0,673.0 L1138.9,675.5 L1139.9,677.9 L1140.9,680.4 L1141.8,682.9 L1142.8,685.3 L1143.8,687.7 L1144.7,690.1 L1145.7,692.5 L1146.7,694.9 L1147.6,697.2 L1148.6,699.7 L1149.6,702.1 L1150.5,704.5 L1151.5,707.1 L1152.5,709.6 L1153.5,712.3 L1154.4,715.0 L1155.4,717.8 L1156.4,720.7 L1157.3,723.7 L1158.3,726.8 L1159.3,730.1 L1160.2,733.5 L1161.2,737.0 L1162.2,740.7 L1163.1,744.5 L1164.1,748.6 L1165.1,752.8 L1166.0,757.2 L1167.0,761.7 L1168.0,766.4 L1169.0,771.1 L1169.9,775.9 L1170.9,780.6 L1171.9,785.3 L1172.8,789.9 L1173.8,794.4 L1174.8,798.7 L1175.7,802.8 L1176.7,806.7 L1177.7,810.3 L1178.6,813.6 L1179.6,816.6 L1180.6,819.1 L1181.5,821.2 L1182.5,822.8 L1183.5,823.9 L1184.5,824.5 L1185.4,824.6 L1186.4,824.1 L1187.4,823.2 L1188.3,821.9 L1189.3,820.1 L1190.3,818.1 L1191.2,815.7 L1192.2,813.1 L1193.2,810.3 L1194.1,807.3 L1195.1,804.1 L1196.1,800.8 L1197.0,797.4 L1198.0,794.0 L1199.0,790.4 L1200.0,786.8 L1200.9,783.1 L1201.9,779.3 L1202.9,775.5 L1203.8,771.7 L1204.8,767.9 L1205.8,764.1 L1206.7,760.3 L1207.7,756.5 L1208.7,752.8 L1209.6,749.1 L1210.6,745.5 L1211.6,741.9 L1212.5,738.4 L1213.5,735.1 L1214.5,731.8 L1215.5,728.6 L1216.4,725.6 L1217.4,722.6 L1218.4,719.7 L1219.3,716.9 L1220.3,714.1 L1221.3,711.5 L1222.2,708.9 L1223.2,706.3 L1224.2,703.9 L1225.1,701.5 L1226.1,699.1 L1227.1,696.8 L1228.1,694.5 L1229.0,692.3 L1230.0,690.1 L1231.0,687.9 L1231.9,685.7 L1232.9,683.6 L1233.9,681.5 L1234.8,679.4 L1235.8,677.3 L1236.8,675.2 L1237.7,673.1 L1238.7,671.1 L1239.7,669.0 L1240.6,666.9 L1241.6,664.9 L1242.6,662.9 L1243.6,660.8 L1244.5,658.8 L1245.5,656.8 L1246.5,654.8 L1247.4,652.9 L1248.4,650.9 L1249.4,649.0 L1250.3,647.0 L1251.3,645.1 L1252.3,643.2 L1253.2,641.3 L1254.2,639.4 L1255.2,637.6 L1256.1,635.7 L1257.1,633.9 L1258.1,632.1 L1259.1,630.3 L1260.0,628.6 L1261.0,626.8 L1262.0,625.1 L1262.9,623.4 L1263.9,621.7 L1264.9,620.0 L1265.8,618.4 L1266.8,616.8 L1267.8,615.2 L1268.7,613.6 L1269.7,612.0 L1270.7,610.4 L1271.6,608.9 L1272.6,607.4 L1273.6,605.9 L1274.6,604.4 L1275.5,602.9 L1276.5,601.5 L1277.5,600.1 L1278.4,598.7 L1279.4,597.3 L1280.4,595.9 L1281.3,594.5 L1282.3,593.2 L1283.3,591.8 L1284.2,590.5 L1285.2,589.2 L1286.2,587.9 L1287.1,586.7 L1288.1,585.4 L1289.1,584.2 L1290.1,582.9 L1291.0,581.7 L1292.0,580.5 L1293.0,579.3 L1293.9,578.1 L1294.9,577.0 L1295.9,575.8 L1296.8,574.7 L1297.8,573.6 L1298.8,572.5 L1299.7,571.4 L1300.7,570.3 L1301.7,569.2 L1302.6,568.1 L1303.6,567.1 L1304.6,566.0 L1305.6,565.0 L1306.5,564.0 L1307.5,563.0 L1308.5,562.0 L1309.4,561.0 L1310.4,560.0 L1311.4,559.0 L1312.3,558.1 L1313.3,557.1 L1314.3,556.2 L1315.2,555.2 L1316.2,554.3 L1317.2,553.4 L1318.1,552.5 L1319.1,551.6 L1320.1,550.7 L1321.1,549.8 L1322.0,548.9 L1323.0,548.0 L1324.0,547.2 L1324.9,546.3 L1325.9,545.5 L1326.9,544.6 L1327.8,543.8 L1328.8,543.0 L1329.8,542.2 L1330.7,541.4 L1331.7,540.6 L1332.7,539.8 L1333.6,539.0 L1334.6,538.3 L1335.6,537.5 L1336.6,536.8 L1337.5,536.1 L1338.5,535.4 L1339.5,534.7 L1340.4,534.0 L1341.4,533.3 L1342.4,532.7 L1343.3,532.0 L1344.3,531.4 L1345.3,530.8 L1346.2,530.1 L1347.2,529.6 L1348.2,529.0 L1349.1,528.4 L1350.1,527.8 L1351.1,527.3 L1352.1,526.8 L1353.0,526.2 L1354.0,525.7 L1355.0,525.2 L1355.9,524.7 L1356.9,524.3 L1357.9,523.8 L1358.8,523.3 L1359.8,522.9 L1360.8,522.5 L1361.7,522.0 L1362.7,521.6 L1363.7,521.2 L1364.6,520.8 L1365.6,520.4 L1366.6,520.0 L1367.6,519.6 L1368.5,519.2 L1369.5,518.8 L1370.5,518.5 L1371.4,518.1 L1372.4,517.7 L1373.4,517.4 L1374.3,517.0 L1375.3,516.7 L1376.3,516.4 L1377.2,516.0 L1378.2,515.7 L1379.2,515.3 L1380.1,515.0 L1381.1,514.7 L1382.1,514.3 L1383.1,514.0 L1384.0,513.7 L1385.0,513.3 L1386.0,513.0 L1386.9,512.7 L1387.9,512.4 L1388.9,512.0 L1389.8,511.7 L1390.8,511.4 L1391.8,511.0 L1392.7,510.7 L1393.7,510.3 L1394.7,510.0 L1395.6,509.6 L1396.6,509.3 L1397.6,508.9 L1398.6,508.6 L1399.5,508.2 L1400.5,507.8 L1401.5,507.5 L1402.4,507.1 L1403.4,506.7 L1404.4,506.3 L1405.3,505.9 L1406.3,505.5 L1407.3,505.1 L1408.2,504.6 L1409.2,504.2 L1410.2,503.8 L1411.2,503.3 L1412.1,502.8 L1413.1,502.4 L1414.1,501.9 L1415.0,501.4 L1416.0,500.9 L1417.0,500.4 L1417.9,499.9 L1418.9,499.4 L1419.9,499.0 L1420.8,498.5 L1421.8,498.0 L1422.8,497.5 L1423.7,497.0 L1424.7,496.6 L1425.7,496.1 L1426.7,495.7 L1427.6,495.3 L1428.6,494.9 L1429.6,494.5 L1430.5,494.1 L1431.5,493.8 L1432.5,493.4 L1433.4,493.1 L1434.4,492.8 L1435.4,492.6 L1436.3,492.4 L1437.3,492.2 L1438.3,492.0 L1439.2,491.9 L1440.2,491.8 L1441.2,491.7 L1442.2,491.7 L1443.1,491.7 L1444.1,491.7 L1445.1,491.8 L1446.0,492.0 L1447.0,492.2 L1448.0,492.4 L1448.9,492.7 L1449.9,493.0 L1450.9,493.4 L1451.8,493.8 L1452.8,494.2 L1453.8,494.7 L1454.7,495.2 L1455.7,495.7 L1456.7,496.2 L1457.7,496.8 L1458.6,497.3 L1459.6,497.9 L1460.6,498.4 L1461.5,498.9 L1462.5,499.4 L1463.5,499.8 L1464.4,500.3 L1465.4,500.7 L1466.4,501.0 L1467.3,501.4 L1468.3,501.7 L1469.3,501.9 L1470.2,502.2 L1471.2,502.4 L1472.2,502.6 L1473.2,502.8 L1474.1,503.0 L1475.1,503.1 L1476.1,503.2 L1477.0,503.3 L1478.0,503.4 L1479.0,503.5 L1479.9,503.6 L1480.9,503.6 L1481.9,503.7 L1482.8,503.7 L1483.8,503.8 L1484.8,503.8 L1485.7,503.9 L1486.7,503.9 L1487.7,503.9 L1488.7,504.0 L1489.6,504.0 L1490.6,504.1 L1491.6,504.1 L1492.5,504.2 L1493.5,504.2 L1494.5,504.3 L1495.4,504.3 L1496.4,504.4 L1497.4,504.4 L1498.3,504.5 L1499.3,504.5 L1500.3,504.6 L1501.2,504.6 L1502.2,504.7 L1503.2,504.7 L1504.2,504.8 L1505.1,504.8 L1506.1,504.8 L1507.1,504.9 L1508.0,504.9 L1509.0,505.0 L1510.0,505.0 L1510.9,505.1 L1511.9,505.1 L1512.9,505.2 L1513.8,505.2 L1514.8,505.2 L1515.8,505.3 L1516.7,505.3 L1517.7,505.3 L1518.7,505.4 L1519.7,505.4 L1520.6,505.4 L1521.6,505.4 L1522.6,505.5 L1523.5,505.5 L1524.5,505.5 L1525.5,505.5 L1526.4,505.5 L1527.4,505.5 L1528.4,505.5 L1529.3,505.5 L1530.3,505.5 L1531.3,505.5 L1532.2,505.5 L1533.2,505.5 L1534.2,505.5 L1535.2,505.5 L1536.1,505.4 L1537.1,505.4 L1538.1,505.4 L1539.0,505.3 L1540.0,505.3 L1541.0,505.2 L1541.9,505.2 L1542.9,505.1 L1543.9,505.1 L1544.8,505.0 L1545.8,505.0 L1546.8,504.9 L1547.7,504.8 L1548.7,504.7 L1549.7,504.6 L1550.7,504.6 L1551.6,504.5 L1552.6,504.4 L1553.6,504.3 L1554.5,504.2 L1555.5,504.0 L1556.5,503.9 L1557.4,503.8 L1558.4,503.7 L1559.4,503.6 L1560.3,503.5 L1561.3,503.3 L1562.3,503.2 L1563.2,503.1 L1564.2,502.9 L1565.2,502.8 L1566.2,502.6 L1567.1,502.5 L1568.1,502.4 L1569.1,502.2 L1570.0,502.1 L1571.0,501.9 L1572.0,501.7 L1572.9,501.6 L1573.9,501.4 L1574.9,501.3 L1575.8,501.1 L1576.8,500.9 L1577.8,500.8 L1578.7,500.6 L1579.7,500.4 L1580.7,500.3 L1581.7,500.1 L1582.6,499.9 L1583.6,499.8 L1584.6,499.6 L1585.5,499.4 L1586.5,499.2 L1587.5,499.0 L1588.4,498.9 L1589.4,498.7 L1590.4,498.5 L1591.3,498.3 L1592.3,498.2 L1593.3,498.0 L1594.2,497.8 L1595.2,497.6 L1596.2,497.4 L1597.2,497.3 L1598.1,497.1 L1599.1,496.9 L1600.1,496.7 L1601.0,496.6 L1602.0,496.4" fill="none" stroke="#1010d8" stroke-width="2.60" stroke-linejoin="round" stroke-dasharray="15,6,3,6"/>
<path d="M1021.7,610.8 L1022.7,610.0 L1023.6,609.3 L1024.6,608.6 L1025.6,607.8 L1026.5,607.1 L1027.5,606.4 L1028.5,605.7 L1029.5,605.0 L1030.4,604.3 L1031.4,603.6 L1032.4,602.9 L1033.3,602.2 L1034.3,601.5 L1035.3,600.8 L1036.2,600.1 L1037.2,599.4 L1038.2,598.8 L1039.1,598.1 L1040.1,597.4 L1041.1,596.8 L1042.0,596.1 L1043.0,595.5 L1044.0,594.8 L1045.0,594.2 L1045.9,593.5 L1046.9,592.9 L1047.9,592.3 L1048.8,591.7 L1049.8,591.0 L1050.8,590.4 L1051.7,589.8 L1052.7,589.2 L1053.7,588.6 L1054.6,588.0 L1055.6,587.4 L1056.6,586.8 L1057.5,586.2 L1058.5,585.6 L1059.5,585.0 L1060.5,584.4 L1061.4,583.9 L1062.4,583.3 L1063.4,582.7 L1064.3,582.2 L1065.3,581.6 L1066.3,581.0 L1067.2,580.5 L1068.2,579.9 L1069.2,579.4 L1070.1,578.8 L1071.1,578.3 L1072.1,577.8 L1073.0,577.2 L1074.0,576.7 L1075.0,576.2 L1076.0,575.7 L1076.9,575.1 L1077.9,574.6 L1078.9,574.1 L1079.8,573.6 L1080.8,573.1 L1081.8,572.6 L1082.7,572.1 L1083.7,571.6 L1084.7,571.1 L1085.6,570.6 L1086.6,570.1 L1087.6,569.7 L1088.5,569.2 L1089.5,568.7 L1090.5,568.2 L1091.5,567.8 L1092.4,567.3 L1093.4,566.8 L1094.4,566.4 L1095.3,565.9 L1096.3,565.5 L1097.3,565.0 L1098.2,564.6 L1099.2,564.1 L1100.2,563.7 L1101.1,563.2 L1102.1,562.8 L1103.1,562.4 L1104.0,561.9 L1105.0,561.5 L1106.0,561.1 L1107.0,560.7 L1107.9,560.3 L1108.9,559.8 L1109.9,559.4 L1110.8,559.0 L1111.8,558.6 L1112.8,558.2 L1113.7,557.8 L1114.7,557.4 L1115.7,557.0 L1116.6,556.6 L1117.6,556.2 L1118.6,555.8 L1119.5,555.4 L1120.5,555.1 L1121.5,554.7 L1122.5,554.3 L1123.4,553.9 L1124.4,553.5 L1125.4,553.2 L1126.3,552.8 L1127.3,552.4 L1128.3,552.1 L1129.2,551.7 L1130.2,551.3 L1131.2,551.0 L1132.1,550.6 L1133.1,550.3 L1134.1,549.9 L1135.0,549.6 L1136.0,549.2 L1137.0,548.9 L1138.0,548.5 L1138.9,548.2 L1139.9,547.9 L1140.9,547.5 L1141.8,547.2 L1142.8,546.9 L1143.8,546.5 L1144.7,546.2 L1145.7,545.9 L1146.7,545.6 L1147.6,545.2 L1148.6,544.9 L1149.6,544.6 L1150.5,544.3 L1151.5,544.0 L1152.5,543.7 L1153.5,543.4 L1154.4,543.0 L1155.4,542.7 L1156.4,542.4 L1157.3,542.1 L1158.3,541.8 L1159.3,541.5 L1160.2,541.2 L1161.2,540.9 L1162.2,540.6 L1163.1,540.4 L1164.1,540.1 L1165.1,539.8 L1166.0,539.5 L1167.0,539.2 L1168.0,538.9 L1169.0,538.6 L1169.9,538.4 L1170.9,538.1 L1171.9,537.8 L1172.8,537.5 L1173.8,537.2 L1174.8,537.0 L1175.7,536.7 L1176.7,536.4 L1177.7,536.2 L1178.6,535.9 L1179.6,535.7 L1180.6,535.4 L1181.5,535.1 L1182.5,534.9 L1183.5,534.6 L1184.5,534.4 L1185.4,534.1 L1186.4,533.9 L1187.4,533.7 L1188.3,533.4 L1189.3,533.2 L1190.3,533.0 L1191.2,532.7 L1192.2,532.5 L1193.2,532.3 L1194.1,532.1 L1195.1,531.9 L1196.1,531.7 L1197.0,531.5 L1198.0,531.3 L1199.0,531.1 L1200.0,530.9 L1200.9,530.7 L1201.9,530.5 L1202.9,530.3 L1203.8,530.1 L1204.8,530.0 L1205.8,529.8 L1206.7,529.6 L1207.7,529.5 L1208.7,529.3 L1209.6,529.2 L1210.6,529.0 L1211.6,528.9 L1212.5,528.7 L1213.5,528.6 L1214.5,528.5 L1215.5,528.4 L1216.4,528.3 L1217.4,528.1 L1218.4,528.0 L1219.3,527.9 L1220.3,527.9 L1221.3,527.8 L1222.2,527.7 L1223.2,527.6 L1224.2,527.5 L1225.1,527.5 L1226.1,527.4 L1227.1,527.4 L1228.1,527.3 L1229.0,527.3 L1230.0,527.2 L1231.0,527.2 L1231.9,527.2 L1232.9,527.2 L1233.9,527.2 L1234.8,527.2 L1235.8,527.2 L1236.8,527.2 L1237.7,527.2 L1238.7,527.2 L1239.7,527.3 L1240.6,527.3 L1241.6,527.4 L1242.6,527.4 L1243.6,527.5 L1244.5,527.6 L1245.5,527.7 L1246.5,527.9 L1247.4,528.0 L1248.4,528.2 L1249.4,528.4 L1250.3,528.7 L1251.3,529.0 L1252.3,529.3 L1253.2,529.7 L1254.2,530.2 L1255.2,530.6 L1256.1,531.2 L1257.1,531.8 L1258.1,532.4 L1259.1,533.1 L1260.0,533.9 L1261.0,534.7 L1262.0,535.6 L1262.9,536.5 L1263.9,537.4 L1264.9,538.5 L1265.8,539.5 L1266.8,540.6 L1267.8,541.8 L1268.7,543.0 L1269.7,544.3 L1270.7,545.5 L1271.6,546.9 L1272.6,548.3 L1273.6,549.7 L1274.6,551.2 L1275.5,552.7 L1276.5,554.3 L1277.5,556.0 L1278.4,557.8 L1279.4,559.7 L1280.4,561.7 L1281.3,563.9 L1282.3,566.2 L1283.3,568.7 L1284.2,571.3 L1285.2,574.1 L1286.2,577.1 L1287.1,580.3 L1288.1,583.6 L1289.1,587.1 L1290.1,590.8 L1291.0,594.6 L1292.0,598.5 L1293.0,602.5 L1293.9,606.5 L1294.9,610.6 L1295.9,614.8 L1296.8,619.0 L1297.8,623.2 L1298.8,627.3 L1299.7,631.4 L1300.7,635.3 L1301.7,639.1 L1302.6,642.7 L1303.6,646.0 L1304.6,649.1 L1305.6,651.8 L1306.5,654.2 L1307.5,656.3 L1308.5,658.1 L1309.4,659.6 L1310.4,660.8 L1311.4,661.8 L1312.3,662.5 L1313.3,662.9 L1314.3,663.0 L1315.2,662.9 L1316.2,662.6 L1317.2,662.0 L1318.1,661.0 L1319.1,659.9 L1320.1,658.4 L1321.1,656.5 L1322.0,654.4 L1323.0,651.9 L1324.0,649.1 L1324.9,645.9 L1325.9,642.4 L1326.9,638.6 L1327.8,634.6 L1328.8,630.4 L1329.8,626.1 L1330.7,621.7 L1331.7,617.3 L1332.7,612.8 L1333.6,608.4 L1334.6,604.2 L1335.6,600.0 L1336.6,595.9 L1337.5,592.0 L1338.5,588.3 L1339.5,584.6 L1340.4,581.1 L1341.4,577.8 L1342.4,574.7 L1343.3,571.7 L1344.3,568.9 L1345.3,566.3 L1346.2,563.9 L1347.2,561.6 L1348.2,559.5 L1349.1,557.6 L1350.1,555.8 L1351.1,554.1 L1352.1,552.6 L1353.0,551.2 L1354.0,549.8 L1355.0,548.5 L1355.9,547.4 L1356.9,546.2 L1357.9,545.1 L1358.8,544.1 L1359.8,543.1 L1360.8,542.0 L1361.7,541.0 L1362.7,540.1 L1363.7,539.1 L1364.6,538.1 L1365.6,537.2 L1366.6,536.3 L1367.6,535.3 L1368.5,534.4 L1369.5,533.6 L1370.5,532.7 L1371.4,531.8 L1372.4,531.0 L1373.4,530.1 L1374.3,529.3 L1375.3,528.5 L1376.3,527.7 L1377.2,526.9 L1378.2,526.1 L1379.2,525.4 L1380.1,524.6 L1381.1,523.9 L1382.1,523.1 L1383.1,522.4 L1384.0,521.7 L1385.0,521.1 L1386.0,520.4 L1386.9,519.7 L1387.9,519.1 L1388.9,518.4 L1389.8,517.8 L1390.8,517.2 L1391.8,516.6 L1392.7,516.0 L1393.7,515.4 L1394.7,514.9 L1395.6,514.3 L1396.6,513.8 L1397.6,513.2 L1398.6,512.7 L1399.5,512.2 L1400.5,511.7 L1401.5,511.2 L1402.4,510.7 L1403.4,510.3 L1404.4,509.8 L1405.3,509.4 L1406.3,509.0 L1407.3,508.6 L1408.2,508.1 L1409.2,507.8 L1410.2,507.4 L1411.2,507.0 L1412.1,506.6 L1413.1,506.3 L1414.1,505.9 L1415.0,505.5 L1416.0,505.2 L1417.0,504.8 L1417.9,504.5 L1418.9,504.1 L1419.9,503.8 L1420.8,503.4 L1421.8,503.0 L1422.8,502.7 L1423.7,502.3 L1424.7,501.9 L1425.7,501.5 L1426.7,501.0 L1427.6,500.6 L1428.6,500.2 L1429.6,499.7 L1430.5,499.2 L1431.5,498.7 L1432.5,498.2 L1433.4,497.7 L1434.4,497.2 L1435.4,496.6 L1436.3,496.1 L1437.3,495.6 L1438.3,495.1 L1439.2,494.7 L1440.2,494.3 L1441.2,493.9 L1442.2,493.5 L1443.1,493.2 L1444.1,493.0 L1445.1,492.8 L1446.0,492.7 L1447.0,492.6 L1448.0,492.6 L1448.9,492.7 L1449.9,492.9 L1450.9,493.1 L1451.8,493.4 L1452.8,493.8 L1453.8,494.3 L1454.7,494.7 L1455.7,495.3 L1456.7,495.8 L1457.7,496.4 L1458.6,497.0 L1459.6,497.6 L1460.6,498.1 L1461.5,498.7 L1462.5,499.3 L1463.5,499.8 L1464.4,500.3 L1465.4,500.8 L1466.4,501.2 L1467.3,501.6 L1468.3,501.9 L1469.3,502.2 L1470.2,502.5 L1471.2,502.8 L1472.2,503.0 L1473.2,503.2 L1474.1,503.4 L1475.1,503.5 L1476.1,503.6 L1477.0,503.8 L1478.0,503.9 L1479.0,503.9 L1479.9,504.0 L1480.9,504.1 L1481.9,504.1 L1482.8,504.2 L1483.8,504.2 L1484.8,504.2 L1485.7,504.2 L1486.7,504.3 L1487.7,504.3 L1488.7,504.3 L1489.6,504.3 L1490.6,504.4 L1491.6,504.4 L1492.5,504.4 L1493.5,504.5 L1494.5,504.5 L1495.4,504.5 L1496.4,504.5 L1497.4,504.6 L1498.3,504.6 L1499.3,504.6 L1500.3,504.7 L1501.2,504.7 L1502.2,504.7 L1503.2,504.7 L1504.2,504.8 L1505.1,504.8 L1506.1,504.8 L1507.1,504.9 L1508.0,504.9 L1509.0,504.9 L1510.0,505.0 L1510.9,505.0 L1511.9,505.0 L1512.9,505.0 L1513.8,505.1 L1514.8,505.1 L1515.8,505.1 L1516.7,505.2 L1517.7,505.2 L1518.7,505.2 L1519.7,505.2 L1520.6,505.3 L1521.6,505.3 L1522.6,505.3 L1523.5,505.3 L1524.5,505.4 L1525.5,505.4 L1526.4,505.4 L1527.4,505.5 L1528.4,505.5 L1529.3,505.5 L1530.3,505.5 L1531.3,505.6 L1532.2,505.6 L1533.2,505.6 L1534.2,505.6 L1535.2,505.6 L1536.1,505.7 L1537.1,505.7 L1538.1,505.7 L1539.0,505.7 L1540.0,505.7 L1541.0,505.8 L1541.9,505.8 L1542.9,505.8 L1543.9,505.8 L1544.8,505.8 L1545.8,505.8 L1546.8,505.9 L1547.7,505.9 L1548.7,505.9 L1549.7,505.9 L1550.7,505.9 L1551.6,505.9 L1552.6,505.9 L1553.6,505.9 L1554.5,505.9 L1555.5,505.9 L1556.5,505.9 L1557.4,506.0 L1558.4,506.0 L1559.4,506.0 L1560.3,506.0 L1561.3,506.0 L1562.3,506.0 L1563.2,506.0 L1564.2,506.0 L1565.2,506.0 L1566.2,505.9 L1567.1,505.9 L1568.1,505.9 L1569.1,505.9 L1570.0,505.9 L1571.0,505.9 L1572.0,505.9 L1572.9,505.9 L1573.9,505.9 L1574.9,505.8 L1575.8,505.8 L1576.8,505.8 L1577.8,505.8 L1578.7,505.8 L1579.7,505.8 L1580.7,505.7 L1581.7,505.7 L1582.6,505.7 L1583.6,505.6 L1584.6,505.6 L1585.5,505.6 L1586.5,505.6 L1587.5,505.5 L1588.4,505.5 L1589.4,505.4 L1590.4,505.4 L1591.3,505.4 L1592.3,505.3 L1593.3,505.3 L1594.2,505.2 L1595.2,505.2 L1596.2,505.1 L1597.2,505.1 L1598.1,505.0 L1599.1,505.0 L1600.1,504.9 L1601.0,504.9 L1602.0,504.8" fill="none" stroke="#1010d8" stroke-width="2.60" stroke-linejoin="round"/>
<rect x="1021.7" y="478.6" width="580.3" height="359.1" fill="none" stroke="#3a3a3a" stroke-width="2.2"/>
<line x1="1021.7" y1="837.7" x2="1021.7" y2="831.7" stroke="#3a3a3a" stroke-width="1.6"/>
<line x1="1070.1" y1="837.7" x2="1070.1" y2="833.7" stroke="#3a3a3a" stroke-width="1.6"/>
<line x1="1118.4" y1="837.7" x2="1118.4" y2="831.7" stroke="#3a3a3a" stroke-width="1.6"/>
<line x1="1166.8" y1="837.7" x2="1166.8" y2="833.7" stroke="#3a3a3a" stroke-width="1.6"/>
<line x1="1215.1" y1="837.7" x2="1215.1" y2="831.7" stroke="#3a3a3a" stroke-width="1.6"/>
<line x1="1263.5" y1="837.7" x2="1263.5" y2="833.7" stroke="#3a3a3a" stroke-width="1.6"/>
<line x1="1311.8" y1="837.7" x2="1311.8" y2="831.7" stroke="#3a3a3a" stroke-width="1.6"/>
<line x1="1360.2" y1="837.7" x2="1360.2" y2="833.7" stroke="#3a3a3a" stroke-width="1.6"/>
<line x1="1408.6" y1="837.7" x2="1408.6" y2="831.7" stroke="#3a3a3a" stroke-width="1.6"/>
<line x1="1456.9" y1="837.7" x2="1456.9" y2="833.7" stroke="#3a3a3a" stroke-width="1.6"/>
<line x1="1505.3" y1="837.7" x2="1505.3" y2="831.7" stroke="#3a3a3a" stroke-width="1.6"/>
<line x1="1553.6" y1="837.7" x2="1553.6" y2="833.7" stroke="#3a3a3a" stroke-width="1.6"/>
<line x1="1602.0" y1="837.7" x2="1602.0" y2="831.7" stroke="#3a3a3a" stroke-width="1.6"/>
<line x1="1021.7" y1="837.7" x2="1027.7" y2="837.7" stroke="#3a3a3a" stroke-width="1.6"/>
<line x1="1021.7" y1="801.8" x2="1025.7" y2="801.8" stroke="#3a3a3a" stroke-width="1.6"/>
<line x1="1021.7" y1="765.9" x2="1027.7" y2="765.9" stroke="#3a3a3a" stroke-width="1.6"/>
<line x1="1021.7" y1="730.0" x2="1025.7" y2="730.0" stroke="#3a3a3a" stroke-width="1.6"/>
<line x1="1021.7" y1="694.1" x2="1027.7" y2="694.1" stroke="#3a3a3a" stroke-width="1.6"/>
<line x1="1021.7" y1="658.2" x2="1025.7" y2="658.2" stroke="#3a3a3a" stroke-width="1.6"/>
<line x1="1021.7" y1="622.2" x2="1027.7" y2="622.2" stroke="#3a3a3a" stroke-width="1.6"/>
<line x1="1021.7" y1="586.3" x2="1025.7" y2="586.3" stroke="#3a3a3a" stroke-width="1.6"/>
<line x1="1021.7" y1="550.4" x2="1027.7" y2="550.4" stroke="#3a3a3a" stroke-width="1.6"/>
<line x1="1021.7" y1="514.5" x2="1025.7" y2="514.5" stroke="#3a3a3a" stroke-width="1.6"/>
<line x1="1021.7" y1="478.6" x2="1027.7" y2="478.6" stroke="#3a3a3a" stroke-width="1.6"/>
<text transform="translate(1021.7,862.5) scale(1,1.14)" font-size="21.5" text-anchor="middle" fill="#1a1a1a">0.2</text>
<text transform="translate(1118.4,862.5) scale(1,1.14)" font-size="21.5" text-anchor="middle" fill="#1a1a1a">0.3</text>
<text transform="translate(1215.1,862.5) scale(1,1.14)" font-size="21.5" text-anchor="middle" fill="#1a1a1a">0.4</text>
<text transform="translate(1311.8,862.5) scale(1,1.14)" font-size="21.5" text-anchor="middle" fill="#1a1a1a">0.5</text>
<text transform="translate(1408.6,862.5) scale(1,1.14)" font-size="21.5" text-anchor="middle" fill="#1a1a1a">0.6</text>
<text transform="translate(1505.3,862.5) scale(1,1.14)" font-size="21.5" text-anchor="middle" fill="#1a1a1a">0.7</text>
<text transform="translate(1602.0,862.5) scale(1,1.14)" font-size="21.5" text-anchor="middle" fill="#1a1a1a">0.8</text>
<text transform="translate(1012.5,845.3) scale(1,1.14)" font-size="21.5" text-anchor="end" fill="#1a1a1a">0.0</text>
<text transform="translate(1012.5,773.5) scale(1,1.14)" font-size="21.5" text-anchor="end" fill="#1a1a1a">0.2</text>
<text transform="translate(1012.5,701.7) scale(1,1.14)" font-size="21.5" text-anchor="end" fill="#1a1a1a">0.4</text>
<text transform="translate(1012.5,629.8) scale(1,1.14)" font-size="21.5" text-anchor="end" fill="#1a1a1a">0.6</text>
<text transform="translate(1012.5,558.0) scale(1,1.14)" font-size="21.5" text-anchor="end" fill="#1a1a1a">0.8</text>
<text transform="translate(1012.5,486.2) scale(1,1.14)" font-size="21.5" text-anchor="end" fill="#1a1a1a">1.0</text>
<text x="0" y="0" font-size="30.5" text-anchor="middle" fill="#111" transform="translate(983.0,644.3) rotate(-90)">Transmission Amplitude</text>
<text x="1312.3" y="894.8" font-size="30.5" text-anchor="middle" font-weight="normal" fill="#111">Frequency (THz)</text>
<text x="1377.4" y="640.9" font-size="22.0" text-anchor="start" font-weight="bold" fill="#1a1ad8">Magnetic Dipole</text>
<line x1="1364.3" y1="639" x2="1335" y2="653.5" stroke="#1a1ad8" stroke-width="2.6"/>
<polygon points="1324.2,658.6 1337,646 1341,656" fill="#1a1ad8"/>
<text x="1589.0" y="723.7" font-size="25.0" text-anchor="end" font-weight="bold" fill="#000">Conductivity</text>
<text x="1589" y="753.3" font-size="25" font-weight="bold" text-anchor="end">of VO<tspan font-size="18" dy="6">2</tspan><tspan dy="-6"> (S/m)</tspan></text>
<line x1="1431" y1="786.2" x2="1478.7" y2="786.2" stroke="#1010d8" stroke-width="2.8" stroke-dasharray="15,7.5,3.5,8"/>
<line x1="1431" y1="820" x2="1478.7" y2="820" stroke="#1010d8" stroke-width="2.8"/>
<text x="1515.5" y="792.8" font-size="23.5" font-weight="bold" letter-spacing="0.8">2 × 10<tspan font-size="16" dy="-11">2</tspan></text>
<text x="1515.5" y="827" font-size="23.5" font-weight="bold" letter-spacing="0.8">2 × 10<tspan font-size="16" dy="-11">5</tspan></text>
<line x1="1071.7" y1="1277.5" x2="1071.7" y2="917.6" stroke="#e8e8e8" stroke-width="1.1"/>
<line x1="1120.3" y1="1277.5" x2="1120.3" y2="917.6" stroke="#bdbdbd" stroke-width="1.1"/>
<line x1="1168.9" y1="1277.5" x2="1168.9" y2="917.6" stroke="#e8e8e8" stroke-width="1.1"/>
<line x1="1217.5" y1="1277.5" x2="1217.5" y2="917.6" stroke="#bdbdbd" stroke-width="1.1"/>
<line x1="1266.1" y1="1277.5" x2="1266.1" y2="917.6" stroke="#e8e8e8" stroke-width="1.1"/>
<line x1="1314.7" y1="1277.5" x2="1314.7" y2="917.6" stroke="#bdbdbd" stroke-width="1.1"/>
<line x1="1363.2" y1="1277.5" x2="1363.2" y2="917.6" stroke="#e8e8e8" stroke-width="1.1"/>
<line x1="1411.8" y1="1277.5" x2="1411.8" y2="917.6" stroke="#bdbdbd" stroke-width="1.1"/>
<line x1="1460.4" y1="1277.5" x2="1460.4" y2="917.6" stroke="#e8e8e8" stroke-width="1.1"/>
<line x1="1509.0" y1="1277.5" x2="1509.0" y2="917.6" stroke="#bdbdbd" stroke-width="1.1"/>
<line x1="1557.6" y1="1277.5" x2="1557.6" y2="917.6" stroke="#e8e8e8" stroke-width="1.1"/>
<line x1="1023.1" y1="1241.5" x2="1606.2" y2="1241.5" stroke="#e8e8e8" stroke-width="1.1"/>
<line x1="1023.1" y1="1205.5" x2="1606.2" y2="1205.5" stroke="#bdbdbd" stroke-width="1.1"/>
<line x1="1023.1" y1="1169.5" x2="1606.2" y2="1169.5" stroke="#e8e8e8" stroke-width="1.1"/>
<line x1="1023.1" y1="1133.5" x2="1606.2" y2="1133.5" stroke="#bdbdbd" stroke-width="1.1"/>
<line x1="1023.1" y1="1097.5" x2="1606.2" y2="1097.5" stroke="#e8e8e8" stroke-width="1.1"/>
<line x1="1023.1" y1="1061.6" x2="1606.2" y2="1061.6" stroke="#bdbdbd" stroke-width="1.1"/>
<line x1="1023.1" y1="1025.6" x2="1606.2" y2="1025.6" stroke="#e8e8e8" stroke-width="1.1"/>
<line x1="1023.1" y1="989.6" x2="1606.2" y2="989.6" stroke="#bdbdbd" stroke-width="1.1"/>
<line x1="1023.1" y1="953.6" x2="1606.2" y2="953.6" stroke="#e8e8e8" stroke-width="1.1"/>
<path d="M1023.1,918.2 L1024.1,918.2 L1025.0,918.3 L1026.0,918.3 L1027.0,918.4 L1028.0,918.4 L1028.9,918.4 L1029.9,918.5 L1030.9,918.5 L1031.9,918.6 L1032.8,918.6 L1033.8,918.7 L1034.8,918.7 L1035.8,918.7 L1036.7,918.8 L1037.7,918.8 L1038.7,918.9 L1039.6,918.9 L1040.6,918.9 L1041.6,919.0 L1042.6,919.0 L1043.5,919.0 L1044.5,919.1 L1045.5,919.1 L1046.5,919.1 L1047.4,919.2 L1048.4,919.2 L1049.4,919.2 L1050.4,919.3 L1051.3,919.3 L1052.3,919.3 L1053.3,919.4 L1054.3,919.4 L1055.2,919.4 L1056.2,919.4 L1057.2,919.5 L1058.1,919.5 L1059.1,919.5 L1060.1,919.5 L1061.1,919.6 L1062.0,919.6 L1063.0,919.6 L1064.0,919.6 L1065.0,919.7 L1065.9,919.7 L1066.9,919.7 L1067.9,919.7 L1068.9,919.8 L1069.8,919.8 L1070.8,919.8 L1071.8,919.8 L1072.7,919.9 L1073.7,919.9 L1074.7,919.9 L1075.7,919.9 L1076.6,919.9 L1077.6,920.0 L1078.6,920.0 L1079.6,920.0 L1080.5,920.0 L1081.5,920.1 L1082.5,920.1 L1083.5,920.1 L1084.4,920.1 L1085.4,920.1 L1086.4,920.2 L1087.3,920.2 L1088.3,920.2 L1089.3,920.2 L1090.3,920.3 L1091.2,920.3 L1092.2,920.3 L1093.2,920.3 L1094.2,920.4 L1095.1,920.4 L1096.1,920.4 L1097.1,920.4 L1098.1,920.5 L1099.0,920.5 L1100.0,920.5 L1101.0,920.5 L1101.9,920.6 L1102.9,920.6 L1103.9,920.6 L1104.9,920.6 L1105.8,920.7 L1106.8,920.7 L1107.8,920.7 L1108.8,920.8 L1109.7,920.8 L1110.7,920.8 L1111.7,920.9 L1112.7,920.9 L1113.6,920.9 L1114.6,921.0 L1115.6,921.0 L1116.6,921.0 L1117.5,921.1 L1118.5,921.1 L1119.5,921.1 L1120.4,921.2 L1121.4,921.2 L1122.4,921.3 L1123.4,921.3 L1124.3,921.4 L1125.3,921.4 L1126.3,921.4 L1127.3,921.5 L1128.2,921.5 L1129.2,921.6 L1130.2,921.6 L1131.2,921.7 L1132.1,921.7 L1133.1,921.8 L1134.1,921.8 L1135.0,921.9 L1136.0,921.9 L1137.0,922.0 L1138.0,922.0 L1138.9,922.1 L1139.9,922.2 L1140.9,922.2 L1141.9,922.3 L1142.8,922.3 L1143.8,922.4 L1144.8,922.5 L1145.8,922.5 L1146.7,922.6 L1147.7,922.7 L1148.7,922.7 L1149.6,922.8 L1150.6,922.9 L1151.6,923.0 L1152.6,923.0 L1153.5,923.1 L1154.5,923.2 L1155.5,923.3 L1156.5,923.3 L1157.4,923.4 L1158.4,923.5 L1159.4,923.6 L1160.4,923.7 L1161.3,923.8 L1162.3,923.9 L1163.3,924.0 L1164.3,924.0 L1165.2,924.1 L1166.2,924.2 L1167.2,924.3 L1168.1,924.4 L1169.1,924.5 L1170.1,924.6 L1171.1,924.7 L1172.0,924.8 L1173.0,925.0 L1174.0,925.1 L1175.0,925.2 L1175.9,925.3 L1176.9,925.4 L1177.9,925.5 L1178.9,925.6 L1179.8,925.8 L1180.8,925.9 L1181.8,926.0 L1182.7,926.1 L1183.7,926.3 L1184.7,926.4 L1185.7,926.5 L1186.6,926.7 L1187.6,926.8 L1188.6,926.9 L1189.6,927.1 L1190.5,927.2 L1191.5,927.4 L1192.5,927.5 L1193.5,927.7 L1194.4,927.8 L1195.4,928.0 L1196.4,928.1 L1197.3,928.3 L1198.3,928.4 L1199.3,928.6 L1200.3,928.8 L1201.2,928.9 L1202.2,929.1 L1203.2,929.3 L1204.2,929.5 L1205.1,929.6 L1206.1,929.8 L1207.1,930.0 L1208.1,930.2 L1209.0,930.4 L1210.0,930.6 L1211.0,930.7 L1212.0,930.9 L1212.9,931.1 L1213.9,931.3 L1214.9,931.5 L1215.8,931.7 L1216.8,931.9 L1217.8,932.2 L1218.8,932.4 L1219.7,932.6 L1220.7,932.8 L1221.7,933.0 L1222.7,933.2 L1223.6,933.5 L1224.6,933.7 L1225.6,933.9 L1226.6,934.2 L1227.5,934.4 L1228.5,934.6 L1229.5,934.9 L1230.4,935.1 L1231.4,935.4 L1232.4,935.6 L1233.4,935.9 L1234.3,936.1 L1235.3,936.4 L1236.3,936.7 L1237.3,936.9 L1238.2,937.2 L1239.2,937.5 L1240.2,937.7 L1241.2,938.0 L1242.1,938.3 L1243.1,938.6 L1244.1,938.9 L1245.0,939.1 L1246.0,939.4 L1247.0,939.7 L1248.0,940.0 L1248.9,940.3 L1249.9,940.6 L1250.9,941.0 L1251.9,941.3 L1252.8,941.6 L1253.8,941.9 L1254.8,942.2 L1255.8,942.5 L1256.7,942.9 L1257.7,943.2 L1258.7,943.5 L1259.6,943.9 L1260.6,944.2 L1261.6,944.6 L1262.6,944.9 L1263.5,945.3 L1264.5,945.6 L1265.5,946.0 L1266.5,946.4 L1267.4,946.7 L1268.4,947.1 L1269.4,947.5 L1270.4,947.9 L1271.3,948.2 L1272.3,948.6 L1273.3,949.0 L1274.3,949.5 L1275.2,949.9 L1276.2,950.3 L1277.2,950.8 L1278.1,951.2 L1279.1,951.7 L1280.1,952.2 L1281.1,952.7 L1282.0,953.2 L1283.0,953.8 L1284.0,954.3 L1285.0,954.9 L1285.9,955.5 L1286.9,956.1 L1287.9,956.7 L1288.9,957.4 L1289.8,958.1 L1290.8,958.8 L1291.8,959.5 L1292.7,960.2 L1293.7,961.0 L1294.7,961.8 L1295.7,962.6 L1296.6,963.5 L1297.6,964.4 L1298.6,965.3 L1299.6,966.2 L1300.5,967.2 L1301.5,968.2 L1302.5,969.2 L1303.5,970.3 L1304.4,971.4 L1305.4,972.5 L1306.4,973.7 L1307.3,974.9 L1308.3,976.2 L1309.3,977.4 L1310.3,978.7 L1311.2,980.1 L1312.2,981.4 L1313.2,982.8 L1314.2,984.3 L1315.1,985.7 L1316.1,987.2 L1317.1,988.8 L1318.1,990.3 L1319.0,991.9 L1320.0,993.5 L1321.0,995.1 L1322.0,996.8 L1322.9,998.5 L1323.9,1000.3 L1324.9,1002.0 L1325.8,1003.8 L1326.8,1005.7 L1327.8,1007.6 L1328.8,1009.5 L1329.7,1011.5 L1330.7,1013.6 L1331.7,1015.7 L1332.7,1017.9 L1333.6,1020.2 L1334.6,1022.5 L1335.6,1025.0 L1336.6,1027.5 L1337.5,1030.1 L1338.5,1032.8 L1339.5,1035.6 L1340.4,1038.5 L1341.4,1041.5 L1342.4,1044.6 L1343.4,1047.8 L1344.3,1051.1 L1345.3,1054.6 L1346.3,1058.2 L1347.3,1061.9 L1348.2,1065.8 L1349.2,1069.8 L1350.2,1074.0 L1351.2,1078.2 L1352.1,1082.6 L1353.1,1087.1 L1354.1,1091.7 L1355.0,1096.4 L1356.0,1101.3 L1357.0,1106.2 L1358.0,1111.3 L1358.9,1116.6 L1359.9,1122.0 L1360.9,1127.6 L1361.9,1133.4 L1362.8,1139.4 L1363.8,1145.7 L1364.8,1152.2 L1365.8,1158.9 L1366.7,1165.9 L1367.7,1173.2 L1368.7,1180.7 L1369.7,1188.5 L1370.6,1196.4 L1371.6,1204.2 L1372.6,1211.9 L1373.5,1219.3 L1374.5,1226.3 L1375.5,1232.8 L1376.5,1238.6 L1377.4,1243.6 L1378.4,1247.6 L1379.4,1250.4 L1380.4,1251.6 L1381.3,1251.2 L1382.3,1249.4 L1383.3,1246.1 L1384.3,1241.7 L1385.2,1236.2 L1386.2,1230.0 L1387.2,1223.0 L1388.1,1215.5 L1389.1,1207.6 L1390.1,1199.4 L1391.1,1190.9 L1392.0,1182.4 L1393.0,1173.8 L1394.0,1165.3 L1395.0,1157.0 L1395.9,1149.0 L1396.9,1141.4 L1397.9,1134.0 L1398.9,1126.9 L1399.8,1120.2 L1400.8,1113.6 L1401.8,1107.4 L1402.7,1101.3 L1403.7,1095.5 L1404.7,1090.0 L1405.7,1084.6 L1406.6,1079.4 L1407.6,1074.3 L1408.6,1069.4 L1409.6,1064.7 L1410.5,1060.1 L1411.5,1055.7 L1412.5,1051.3 L1413.5,1047.1 L1414.4,1043.1 L1415.4,1039.1 L1416.4,1035.3 L1417.3,1031.6 L1418.3,1028.0 L1419.3,1024.5 L1420.3,1021.2 L1421.2,1017.9 L1422.2,1014.8 L1423.2,1011.8 L1424.2,1008.9 L1425.1,1006.1 L1426.1,1003.3 L1427.1,1000.7 L1428.1,998.2 L1429.0,995.8 L1430.0,993.4 L1431.0,991.2 L1432.0,989.0 L1432.9,987.0 L1433.9,985.0 L1434.9,983.0 L1435.8,981.2 L1436.8,979.4 L1437.8,977.8 L1438.8,976.1 L1439.7,974.6 L1440.7,973.1 L1441.7,971.7 L1442.7,970.3 L1443.6,969.0 L1444.6,967.8 L1445.6,966.6 L1446.6,965.4 L1447.5,964.3 L1448.5,963.3 L1449.5,962.3 L1450.4,961.3 L1451.4,960.4 L1452.4,959.6 L1453.4,958.7 L1454.3,957.9 L1455.3,957.1 L1456.3,956.4 L1457.3,955.7 L1458.2,955.0 L1459.2,954.3 L1460.2,953.6 L1461.2,953.0 L1462.1,952.4 L1463.1,951.8 L1464.1,951.2 L1465.0,950.6 L1466.0,950.0 L1467.0,949.4 L1468.0,948.9 L1468.9,948.3 L1469.9,947.8 L1470.9,947.3 L1471.9,946.7 L1472.8,946.2 L1473.8,945.7 L1474.8,945.2 L1475.8,944.7 L1476.7,944.3 L1477.7,943.8 L1478.7,943.3 L1479.7,942.9 L1480.6,942.4 L1481.6,942.0 L1482.6,941.6 L1483.5,941.2 L1484.5,940.8 L1485.5,940.4 L1486.5,940.0 L1487.4,939.6 L1488.4,939.2 L1489.4,938.8 L1490.4,938.5 L1491.3,938.1 L1492.3,937.8 L1493.3,937.4 L1494.3,937.1 L1495.2,936.8 L1496.2,936.4 L1497.2,936.1 L1498.1,935.8 L1499.1,935.5 L1500.1,935.2 L1501.1,934.9 L1502.0,934.7 L1503.0,934.4 L1504.0,934.1 L1505.0,933.9 L1505.9,933.6 L1506.9,933.4 L1507.9,933.1 L1508.9,932.9 L1509.8,932.6 L1510.8,932.4 L1511.8,932.2 L1512.7,932.0 L1513.7,931.8 L1514.7,931.6 L1515.7,931.4 L1516.6,931.2 L1517.6,931.0 L1518.6,930.8 L1519.6,930.6 L1520.5,930.5 L1521.5,930.3 L1522.5,930.1 L1523.5,930.0 L1524.4,929.8 L1525.4,929.7 L1526.4,929.5 L1527.4,929.4 L1528.3,929.2 L1529.3,929.1 L1530.3,929.0 L1531.2,928.8 L1532.2,928.7 L1533.2,928.6 L1534.2,928.5 L1535.1,928.4 L1536.1,928.3 L1537.1,928.2 L1538.1,928.1 L1539.0,928.0 L1540.0,927.9 L1541.0,927.8 L1542.0,927.7 L1542.9,927.6 L1543.9,927.5 L1544.9,927.4 L1545.8,927.4 L1546.8,927.3 L1547.8,927.2 L1548.8,927.1 L1549.7,927.1 L1550.7,927.0 L1551.7,926.9 L1552.7,926.9 L1553.6,926.8 L1554.6,926.7 L1555.6,926.7 L1556.6,926.6 L1557.5,926.6 L1558.5,926.5 L1559.5,926.4 L1560.4,926.4 L1561.4,926.3 L1562.4,926.3 L1563.4,926.2 L1564.3,926.2 L1565.3,926.1 L1566.3,926.1 L1567.3,926.0 L1568.2,926.0 L1569.2,926.0 L1570.2,925.9 L1571.2,925.9 L1572.1,925.8 L1573.1,925.8 L1574.1,925.7 L1575.0,925.7 L1576.0,925.6 L1577.0,925.6 L1578.0,925.5 L1578.9,925.5 L1579.9,925.4 L1580.9,925.4 L1581.9,925.3 L1582.8,925.3 L1583.8,925.2 L1584.8,925.2 L1585.8,925.1 L1586.7,925.1 L1587.7,925.0 L1588.7,925.0 L1589.7,924.9 L1590.6,924.8 L1591.6,924.8 L1592.6,924.7 L1593.5,924.6 L1594.5,924.6 L1595.5,924.5 L1596.5,924.4 L1597.4,924.4 L1598.4,924.3 L1599.4,924.2 L1600.4,924.1 L1601.3,924.0 L1602.3,923.9 L1603.3,923.9 L1604.3,923.8 L1605.2,923.7 L1606.2,923.6" fill="none" stroke="#e81818" stroke-width="2.60" stroke-linejoin="round" stroke-dasharray="15,6,3,6"/>
<path d="M1023.1,918.5 L1024.1,918.6 L1025.0,918.6 L1026.0,918.6 L1027.0,918.7 L1028.0,918.7 L1028.9,918.8 L1029.9,918.8 L1030.9,918.9 L1031.9,918.9 L1032.8,918.9 L1033.8,919.0 L1034.8,919.0 L1035.8,919.0 L1036.7,919.1 L1037.7,919.1 L1038.7,919.2 L1039.6,919.2 L1040.6,919.2 L1041.6,919.3 L1042.6,919.3 L1043.5,919.3 L1044.5,919.4 L1045.5,919.4 L1046.5,919.4 L1047.4,919.5 L1048.4,919.5 L1049.4,919.5 L1050.4,919.6 L1051.3,919.6 L1052.3,919.6 L1053.3,919.6 L1054.3,919.7 L1055.2,919.7 L1056.2,919.7 L1057.2,919.8 L1058.1,919.8 L1059.1,919.8 L1060.1,919.9 L1061.1,919.9 L1062.0,919.9 L1063.0,920.0 L1064.0,920.0 L1065.0,920.0 L1065.9,920.0 L1066.9,920.1 L1067.9,920.1 L1068.9,920.1 L1069.8,920.2 L1070.8,920.2 L1071.8,920.2 L1072.7,920.3 L1073.7,920.3 L1074.7,920.3 L1075.7,920.4 L1076.6,920.4 L1077.6,920.4 L1078.6,920.4 L1079.6,920.5 L1080.5,920.5 L1081.5,920.5 L1082.5,920.6 L1083.5,920.6 L1084.4,920.6 L1085.4,920.7 L1086.4,920.7 L1087.3,920.8 L1088.3,920.8 L1089.3,920.8 L1090.3,920.9 L1091.2,920.9 L1092.2,920.9 L1093.2,921.0 L1094.2,921.0 L1095.1,921.1 L1096.1,921.1 L1097.1,921.1 L1098.1,921.2 L1099.0,921.2 L1100.0,921.3 L1101.0,921.3 L1101.9,921.3 L1102.9,921.4 L1103.9,921.4 L1104.9,921.5 L1105.8,921.5 L1106.8,921.6 L1107.8,921.6 L1108.8,921.7 L1109.7,921.7 L1110.7,921.8 L1111.7,921.8 L1112.7,921.9 L1113.6,921.9 L1114.6,922.0 L1115.6,922.0 L1116.6,922.1 L1117.5,922.2 L1118.5,922.2 L1119.5,922.3 L1120.4,922.3 L1121.4,922.4 L1122.4,922.5 L1123.4,922.5 L1124.3,922.6 L1125.3,922.6 L1126.3,922.7 L1127.3,922.8 L1128.2,922.8 L1129.2,922.9 L1130.2,923.0 L1131.2,923.1 L1132.1,923.1 L1133.1,923.2 L1134.1,923.3 L1135.0,923.4 L1136.0,923.4 L1137.0,923.5 L1138.0,923.6 L1138.9,923.7 L1139.9,923.8 L1140.9,923.9 L1141.9,923.9 L1142.8,924.0 L1143.8,924.1 L1144.8,924.2 L1145.8,924.3 L1146.7,924.4 L1147.7,924.5 L1148.7,924.6 L1149.6,924.7 L1150.6,924.8 L1151.6,924.9 L1152.6,925.0 L1153.5,925.1 L1154.5,925.2 L1155.5,925.3 L1156.5,925.4 L1157.4,925.5 L1158.4,925.6 L1159.4,925.8 L1160.4,925.9 L1161.3,926.0 L1162.3,926.1 L1163.3,926.2 L1164.3,926.3 L1165.2,926.5 L1166.2,926.6 L1167.2,926.7 L1168.1,926.9 L1169.1,927.0 L1170.1,927.1 L1171.1,927.3 L1172.0,927.4 L1173.0,927.5 L1174.0,927.7 L1175.0,927.8 L1175.9,928.0 L1176.9,928.1 L1177.9,928.3 L1178.9,928.4 L1179.8,928.6 L1180.8,928.7 L1181.8,928.9 L1182.7,929.1 L1183.7,929.2 L1184.7,929.4 L1185.7,929.5 L1186.6,929.7 L1187.6,929.9 L1188.6,930.1 L1189.6,930.2 L1190.5,930.4 L1191.5,930.6 L1192.5,930.8 L1193.5,931.0 L1194.4,931.1 L1195.4,931.3 L1196.4,931.5 L1197.3,931.7 L1198.3,931.9 L1199.3,932.1 L1200.3,932.3 L1201.2,932.5 L1202.2,932.7 L1203.2,932.9 L1204.2,933.2 L1205.1,933.4 L1206.1,933.6 L1207.1,933.8 L1208.1,934.0 L1209.0,934.3 L1210.0,934.5 L1211.0,934.7 L1212.0,935.0 L1212.9,935.2 L1213.9,935.4 L1214.9,935.7 L1215.8,935.9 L1216.8,936.2 L1217.8,936.5 L1218.8,936.7 L1219.7,937.0 L1220.7,937.3 L1221.7,937.5 L1222.7,937.8 L1223.6,938.1 L1224.6,938.4 L1225.6,938.7 L1226.6,939.0 L1227.5,939.3 L1228.5,939.6 L1229.5,939.9 L1230.4,940.2 L1231.4,940.5 L1232.4,940.9 L1233.4,941.2 L1234.3,941.6 L1235.3,941.9 L1236.3,942.2 L1237.3,942.6 L1238.2,943.0 L1239.2,943.3 L1240.2,943.7 L1241.2,944.1 L1242.1,944.5 L1243.1,944.9 L1244.1,945.3 L1245.0,945.7 L1246.0,946.1 L1247.0,946.5 L1248.0,946.9 L1248.9,947.4 L1249.9,947.8 L1250.9,948.3 L1251.9,948.7 L1252.8,949.2 L1253.8,949.6 L1254.8,950.1 L1255.8,950.6 L1256.7,951.1 L1257.7,951.6 L1258.7,952.1 L1259.6,952.6 L1260.6,953.1 L1261.6,953.6 L1262.6,954.2 L1263.5,954.7 L1264.5,955.3 L1265.5,955.8 L1266.5,956.4 L1267.4,957.0 L1268.4,957.6 L1269.4,958.2 L1270.4,958.8 L1271.3,959.4 L1272.3,960.0 L1273.3,960.6 L1274.3,961.3 L1275.2,961.9 L1276.2,962.6 L1277.2,963.3 L1278.1,964.0 L1279.1,964.7 L1280.1,965.4 L1281.1,966.1 L1282.0,966.9 L1283.0,967.7 L1284.0,968.4 L1285.0,969.2 L1285.9,970.0 L1286.9,970.8 L1287.9,971.7 L1288.9,972.5 L1289.8,973.4 L1290.8,974.3 L1291.8,975.2 L1292.7,976.1 L1293.7,977.0 L1294.7,978.0 L1295.7,978.9 L1296.6,979.9 L1297.6,980.9 L1298.6,981.9 L1299.6,983.0 L1300.5,984.1 L1301.5,985.1 L1302.5,986.2 L1303.5,987.4 L1304.4,988.5 L1305.4,989.7 L1306.4,990.9 L1307.3,992.1 L1308.3,993.3 L1309.3,994.6 L1310.3,995.9 L1311.2,997.2 L1312.2,998.5 L1313.2,999.8 L1314.2,1001.2 L1315.1,1002.6 L1316.1,1004.1 L1317.1,1005.5 L1318.1,1007.0 L1319.0,1008.5 L1320.0,1010.0 L1321.0,1011.6 L1322.0,1013.2 L1322.9,1014.8 L1323.9,1016.4 L1324.9,1018.1 L1325.8,1019.8 L1326.8,1021.5 L1327.8,1023.2 L1328.8,1025.0 L1329.7,1026.8 L1330.7,1028.7 L1331.7,1030.6 L1332.7,1032.5 L1333.6,1034.4 L1334.6,1036.4 L1335.6,1038.4 L1336.6,1040.4 L1337.5,1042.4 L1338.5,1044.5 L1339.5,1046.7 L1340.4,1048.8 L1341.4,1051.0 L1342.4,1053.3 L1343.4,1055.5 L1344.3,1057.8 L1345.3,1060.1 L1346.3,1062.5 L1347.3,1064.9 L1348.2,1067.3 L1349.2,1069.8 L1350.2,1072.3 L1351.2,1074.8 L1352.1,1077.3 L1353.1,1079.8 L1354.1,1082.3 L1355.0,1084.8 L1356.0,1087.3 L1357.0,1089.8 L1358.0,1092.3 L1358.9,1094.7 L1359.9,1097.2 L1360.9,1099.6 L1361.9,1101.9 L1362.8,1104.3 L1363.8,1106.6 L1364.8,1108.8 L1365.8,1111.0 L1366.7,1113.2 L1367.7,1115.3 L1368.7,1117.3 L1369.7,1119.3 L1370.6,1121.2 L1371.6,1123.0 L1372.6,1124.7 L1373.5,1126.4 L1374.5,1127.9 L1375.5,1129.4 L1376.5,1130.8 L1377.4,1132.0 L1378.4,1133.2 L1379.4,1134.3 L1380.4,1135.2 L1381.3,1136.0 L1382.3,1136.7 L1383.3,1137.3 L1384.3,1137.7 L1385.2,1138.0 L1386.2,1138.1 L1387.2,1138.1 L1388.1,1137.9 L1389.1,1137.6 L1390.1,1137.1 L1391.1,1136.5 L1392.0,1135.7 L1393.0,1134.8 L1394.0,1133.7 L1395.0,1132.5 L1395.9,1131.2 L1396.9,1129.7 L1397.9,1128.1 L1398.9,1126.4 L1399.8,1124.6 L1400.8,1122.7 L1401.8,1120.6 L1402.7,1118.5 L1403.7,1116.3 L1404.7,1114.0 L1405.7,1111.7 L1406.6,1109.3 L1407.6,1106.9 L1408.6,1104.4 L1409.6,1101.9 L1410.5,1099.4 L1411.5,1096.9 L1412.5,1094.4 L1413.5,1091.9 L1414.4,1089.4 L1415.4,1086.9 L1416.4,1084.5 L1417.3,1082.1 L1418.3,1079.7 L1419.3,1077.3 L1420.3,1075.0 L1421.2,1072.7 L1422.2,1070.4 L1423.2,1068.2 L1424.2,1066.0 L1425.1,1063.8 L1426.1,1061.6 L1427.1,1059.5 L1428.1,1057.4 L1429.0,1055.3 L1430.0,1053.3 L1431.0,1051.2 L1432.0,1049.3 L1432.9,1047.3 L1433.9,1045.4 L1434.9,1043.5 L1435.8,1041.6 L1436.8,1039.7 L1437.8,1037.9 L1438.8,1036.1 L1439.7,1034.4 L1440.7,1032.7 L1441.7,1031.0 L1442.7,1029.3 L1443.6,1027.7 L1444.6,1026.1 L1445.6,1024.5 L1446.6,1022.9 L1447.5,1021.4 L1448.5,1019.9 L1449.5,1018.5 L1450.4,1017.0 L1451.4,1015.6 L1452.4,1014.3 L1453.4,1013.0 L1454.3,1011.6 L1455.3,1010.4 L1456.3,1009.1 L1457.3,1007.9 L1458.2,1006.7 L1459.2,1005.6 L1460.2,1004.5 L1461.2,1003.4 L1462.1,1002.3 L1463.1,1001.3 L1464.1,1000.3 L1465.0,999.3 L1466.0,998.4 L1467.0,997.4 L1468.0,996.5 L1468.9,995.6 L1469.9,994.8 L1470.9,993.9 L1471.9,993.1 L1472.8,992.3 L1473.8,991.6 L1474.8,990.8 L1475.8,990.1 L1476.7,989.3 L1477.7,988.6 L1478.7,987.9 L1479.7,987.3 L1480.6,986.6 L1481.6,985.9 L1482.6,985.3 L1483.5,984.7 L1484.5,984.1 L1485.5,983.5 L1486.5,982.9 L1487.4,982.3 L1488.4,981.7 L1489.4,981.1 L1490.4,980.6 L1491.3,980.0 L1492.3,979.4 L1493.3,978.9 L1494.3,978.3 L1495.2,977.8 L1496.2,977.3 L1497.2,976.7 L1498.1,976.2 L1499.1,975.7 L1500.1,975.2 L1501.1,974.7 L1502.0,974.1 L1503.0,973.6 L1504.0,973.2 L1505.0,972.7 L1505.9,972.2 L1506.9,971.7 L1507.9,971.2 L1508.9,970.7 L1509.8,970.3 L1510.8,969.8 L1511.8,969.4 L1512.7,968.9 L1513.7,968.5 L1514.7,968.0 L1515.7,967.6 L1516.6,967.2 L1517.6,966.7 L1518.6,966.3 L1519.6,965.9 L1520.5,965.5 L1521.5,965.1 L1522.5,964.7 L1523.5,964.3 L1524.4,963.9 L1525.4,963.5 L1526.4,963.1 L1527.4,962.7 L1528.3,962.4 L1529.3,962.0 L1530.3,961.6 L1531.2,961.3 L1532.2,960.9 L1533.2,960.6 L1534.2,960.2 L1535.1,959.9 L1536.1,959.6 L1537.1,959.2 L1538.1,958.9 L1539.0,958.6 L1540.0,958.3 L1541.0,957.9 L1542.0,957.6 L1542.9,957.3 L1543.9,957.0 L1544.9,956.7 L1545.8,956.5 L1546.8,956.2 L1547.8,955.9 L1548.8,955.6 L1549.7,955.3 L1550.7,955.1 L1551.7,954.8 L1552.7,954.6 L1553.6,954.3 L1554.6,954.1 L1555.6,953.8 L1556.6,953.6 L1557.5,953.3 L1558.5,953.1 L1559.5,952.9 L1560.4,952.6 L1561.4,952.4 L1562.4,952.2 L1563.4,952.0 L1564.3,951.8 L1565.3,951.6 L1566.3,951.4 L1567.3,951.2 L1568.2,951.0 L1569.2,950.8 L1570.2,950.7 L1571.2,950.5 L1572.1,950.3 L1573.1,950.1 L1574.1,950.0 L1575.0,949.8 L1576.0,949.7 L1577.0,949.5 L1578.0,949.4 L1578.9,949.2 L1579.9,949.1 L1580.9,949.0 L1581.9,948.8 L1582.8,948.7 L1583.8,948.6 L1584.8,948.5 L1585.8,948.4 L1586.7,948.2 L1587.7,948.1 L1588.7,948.0 L1589.7,947.9 L1590.6,947.8 L1591.6,947.8 L1592.6,947.7 L1593.5,947.6 L1594.5,947.5 L1595.5,947.4 L1596.5,947.4 L1597.4,947.3 L1598.4,947.2 L1599.4,947.2 L1600.4,947.1 L1601.3,947.1 L1602.3,947.0 L1603.3,947.0 L1604.3,947.0 L1605.2,946.9 L1606.2,946.9" fill="none" stroke="#e81818" stroke-width="2.60" stroke-linejoin="round"/>
<rect x="1023.1" y="917.6" width="583.1" height="359.9" fill="none" stroke="#3a3a3a" stroke-width="2.2"/>
<line x1="1023.1" y1="1277.5" x2="1023.1" y2="1271.5" stroke="#3a3a3a" stroke-width="1.6"/>
<line x1="1071.7" y1="1277.5" x2="1071.7" y2="1273.5" stroke="#3a3a3a" stroke-width="1.6"/>
<line x1="1120.3" y1="1277.5" x2="1120.3" y2="1271.5" stroke="#3a3a3a" stroke-width="1.6"/>
<line x1="1168.9" y1="1277.5" x2="1168.9" y2="1273.5" stroke="#3a3a3a" stroke-width="1.6"/>
<line x1="1217.5" y1="1277.5" x2="1217.5" y2="1271.5" stroke="#3a3a3a" stroke-width="1.6"/>
<line x1="1266.1" y1="1277.5" x2="1266.1" y2="1273.5" stroke="#3a3a3a" stroke-width="1.6"/>
<line x1="1314.7" y1="1277.5" x2="1314.7" y2="1271.5" stroke="#3a3a3a" stroke-width="1.6"/>
<line x1="1363.2" y1="1277.5" x2="1363.2" y2="1273.5" stroke="#3a3a3a" stroke-width="1.6"/>
<line x1="1411.8" y1="1277.5" x2="1411.8" y2="1271.5" stroke="#3a3a3a" stroke-width="1.6"/>
<line x1="1460.4" y1="1277.5" x2="1460.4" y2="1273.5" stroke="#3a3a3a" stroke-width="1.6"/>
<line x1="1509.0" y1="1277.5" x2="1509.0" y2="1271.5" stroke="#3a3a3a" stroke-width="1.6"/>
<line x1="1557.6" y1="1277.5" x2="1557.6" y2="1273.5" stroke="#3a3a3a" stroke-width="1.6"/>
<line x1="1606.2" y1="1277.5" x2="1606.2" y2="1271.5" stroke="#3a3a3a" stroke-width="1.6"/>
<line x1="1023.1" y1="1277.5" x2="1029.1" y2="1277.5" stroke="#3a3a3a" stroke-width="1.6"/>
<line x1="1023.1" y1="1241.5" x2="1027.1" y2="1241.5" stroke="#3a3a3a" stroke-width="1.6"/>
<line x1="1023.1" y1="1205.5" x2="1029.1" y2="1205.5" stroke="#3a3a3a" stroke-width="1.6"/>
<line x1="1023.1" y1="1169.5" x2="1027.1" y2="1169.5" stroke="#3a3a3a" stroke-width="1.6"/>
<line x1="1023.1" y1="1133.5" x2="1029.1" y2="1133.5" stroke="#3a3a3a" stroke-width="1.6"/>
<line x1="1023.1" y1="1097.5" x2="1027.1" y2="1097.5" stroke="#3a3a3a" stroke-width="1.6"/>
<line x1="1023.1" y1="1061.6" x2="1029.1" y2="1061.6" stroke="#3a3a3a" stroke-width="1.6"/>
<line x1="1023.1" y1="1025.6" x2="1027.1" y2="1025.6" stroke="#3a3a3a" stroke-width="1.6"/>
<line x1="1023.1" y1="989.6" x2="1029.1" y2="989.6" stroke="#3a3a3a" stroke-width="1.6"/>
<line x1="1023.1" y1="953.6" x2="1027.1" y2="953.6" stroke="#3a3a3a" stroke-width="1.6"/>
<line x1="1023.1" y1="917.6" x2="1029.1" y2="917.6" stroke="#3a3a3a" stroke-width="1.6"/>
<text transform="translate(1023.1,1302.5) scale(1,1.14)" font-size="21.5" text-anchor="middle" fill="#1a1a1a">0.2</text>
<text transform="translate(1120.3,1302.5) scale(1,1.14)" font-size="21.5" text-anchor="middle" fill="#1a1a1a">0.3</text>
<text transform="translate(1217.5,1302.5) scale(1,1.14)" font-size="21.5" text-anchor="middle" fill="#1a1a1a">0.4</text>
<text transform="translate(1314.7,1302.5) scale(1,1.14)" font-size="21.5" text-anchor="middle" fill="#1a1a1a">0.5</text>
<text transform="translate(1411.8,1302.5) scale(1,1.14)" font-size="21.5" text-anchor="middle" fill="#1a1a1a">0.6</text>
<text transform="translate(1509.0,1302.5) scale(1,1.14)" font-size="21.5" text-anchor="middle" fill="#1a1a1a">0.7</text>
<text transform="translate(1606.2,1302.5) scale(1,1.14)" font-size="21.5" text-anchor="middle" fill="#1a1a1a">0.8</text>
<text transform="translate(1013.5,1285.1) scale(1,1.14)" font-size="21.5" text-anchor="end" fill="#1a1a1a">0.0</text>
<text transform="translate(1013.5,1213.1) scale(1,1.14)" font-size="21.5" text-anchor="end" fill="#1a1a1a">0.2</text>
<text transform="translate(1013.5,1141.1) scale(1,1.14)" font-size="21.5" text-anchor="end" fill="#1a1a1a">0.4</text>
<text transform="translate(1013.5,1069.2) scale(1,1.14)" font-size="21.5" text-anchor="end" fill="#1a1a1a">0.6</text>
<text transform="translate(1013.5,997.2) scale(1,1.14)" font-size="21.5" text-anchor="end" fill="#1a1a1a">0.8</text>
<text transform="translate(1013.5,925.2) scale(1,1.14)" font-size="21.5" text-anchor="end" fill="#1a1a1a">1.0</text>
<text x="0" y="0" font-size="30.5" text-anchor="middle" fill="#111" transform="translate(984.5,1081.0) rotate(-90)">Transmission Amplitude</text>
<text x="1314.0" y="1337.0" font-size="30.5" text-anchor="middle" font-weight="normal" fill="#111">Frequency (THz)</text>
<text x="1427.9" y="1223.0" font-size="22.0" text-anchor="start" font-weight="bold" fill="#e02020">Toroidal Dipole</text>
<line x1="1417" y1="1221.6" x2="1397" y2="1240" stroke="#e02020" stroke-width="2.6"/>
<polygon points="1388.5,1250.2 1393,1235 1402,1244" fill="#e02020"/>
<text x="1047.4" y="1171.4" font-size="25.0" text-anchor="start" font-weight="bold" fill="#000">Conductivity</text>
<text x="1047.4" y="1201.6" font-size="25.0" text-anchor="start" font-weight="bold" fill="#000">of Ge</text>
<text x="1119.5" y="1201.6" font-size="25.0" text-anchor="start" font-weight="bold" fill="#000">(S/m)</text>
<line x1="1037.2" y1="1226" x2="1085.4" y2="1226" stroke="#e81818" stroke-width="2.8" stroke-dasharray="15,7.5,3.5,8"/>
<line x1="1037.2" y1="1260.2" x2="1085.4" y2="1260.2" stroke="#e81818" stroke-width="2.8"/>
<text x="1122.5" y="1232.9" font-size="23.5" text-anchor="start" font-weight="bold" fill="#000">1</text>
<text x="1122.3" y="1266.6" font-size="23.5" font-weight="bold" letter-spacing="0.8">4 × 10<tspan font-size="16" dy="-11">3</tspan></text>
<text x="17.0" y="64.0" font-size="54" font-weight="bold">(a)</text>
<text x="887.0" y="64.0" font-size="54" font-weight="bold">(b)</text>
<text x="19.0" y="499.5" font-size="54" font-weight="bold">(c)</text>
<text x="887.0" y="502.0" font-size="54" font-weight="bold">(d)</text>
<text x="19.0" y="941.0" font-size="54" font-weight="bold">(e)</text>
<text x="892.0" y="940.0" font-size="54" font-weight="bold">(f)</text>
</svg></body></html>
